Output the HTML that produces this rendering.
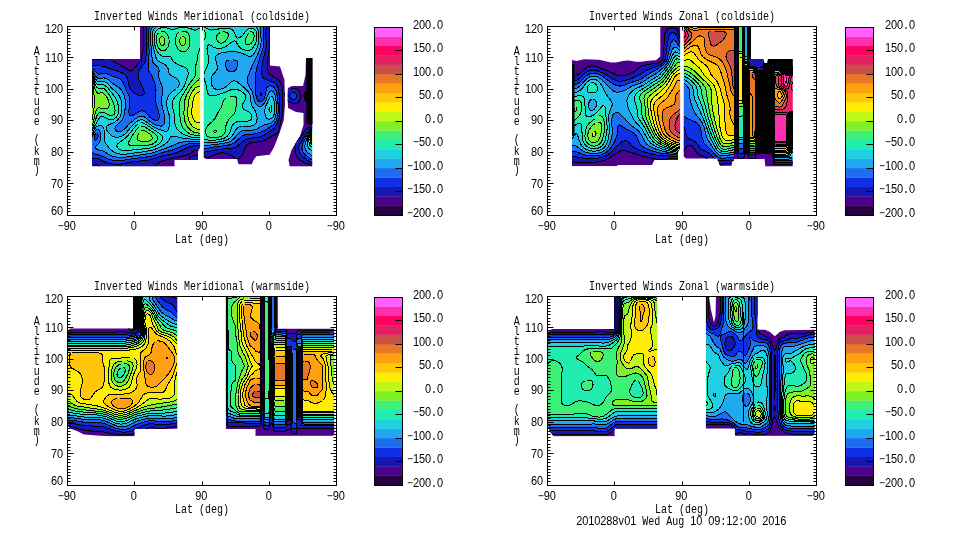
<!DOCTYPE html>
<html><head><meta charset="utf-8"><title>Inverted Winds</title>
<style>html,body{margin:0;padding:0;background:#fff;overflow:hidden}svg{display:block}text{font-family:'Liberation Mono',monospace;font-size:10px;fill:#000}text.d{font-family:'Liberation Sans',sans-serif;font-size:11px}</style>
</head><body>
<svg width="960" height="540" viewBox="0 0 960 540">
<rect width="960" height="540" fill="#fff"/>
<g style="opacity:0.999">
<rect x="67.5" y="26.5" width="269" height="189" fill="#fff" stroke="#000" stroke-width="1"/>
<g transform="translate(0,0)">
<clipPath id="p1a"><polygon points="92,59 140,59 140,26.5 200.5,26.5 200.5,147 198,151 198,160 174.5,160 174.5,167.5 92,167.5"/></clipPath>
<g clip-path="url(#p1a)">
<path d="M92.5 26 95 26 94.5 26.7 93.5 27.2 92 26.6 92 26ZM102 26 144.1 26 143.5 31.5 144 45 143.5 48.5 142.1 54 141.9 59.5 140.8 61.5 137.3 65 134.5 68.7 133 70.3 131 71 128.5 70.4 122 66 115.1 62.5 111.8 59.5 111.3 58 112.2 53 111.9 46.5 112.3 40 112 36.7 111.2 35 110 33.7 103.9 30.5 102.6 28.5ZM99 34.5 101 35 102.4 37.5 103.1 42 102.4 45 101 46.4 99.5 46.8 97.5 46.5 94 45.5 92 45.6 92 36.5 93 36.9 94 36.8 97 35ZM92.4 56 101 55.7 103.5 56.6 105 58 104.9 58.5 104.2 59 102 59.6 92 59.5 92 56ZM196.5 150.5 200 151 200 155.8 195 155.4 192.5 155.7 191 156.3 190 157.5 189 159.8 187.8 166 154.8 166 158.4 163 163.4 160.5 188.5 154.7 190 154 193.2 151.5ZM95.5 164.4 97 164.5 99.4 166 94.6 166 94.9 165Z" fill="#4c008c" stroke="#4c008c" stroke-width="0.6" fill-rule="evenodd"/>
<path d="M95 26 101.9 26 102.6 28.5 103.9 30.5 109.5 33.3 110.5 34.1 111.5 35.5 112.3 39 111.9 46 112.2 53 111.3 58 111.5 59 112.1 60 115.1 62.5 122.5 66.3 128 70.1 129.5 70.8 131 71 132.5 70.6 133.9 69.5 137.3 65 140.8 61.5 141.7 60 142 58.5 142.1 54 143.5 48.5 144 45 143.5 32.5 143.8 28 144.1 26 147.4 26 146.5 29 146.1 32 146.7 46.5 145.7 60 144.5 63.1 141.3 67 139.7 69.5 138.5 72.5 137.9 75.5 138.6 79 142.8 87.5 144.1 91 144.1 93.5 143.5 94.7 142.6 95.5 140.5 96 138.5 95.5 134.5 93.2 131.5 90.5 130 88.4 129 86.1 127.8 79.5 127 77.5 125.1 75 122 72.7 119 71.4 112 69.5 104 66.4 100.5 66 92 65.9 92 59.5 102 59.6 104.2 59 104.9 58.5 105 58 103.5 56.6 101 55.7 92 56 92 45.6 93.5 45.4 98 46.6 100.5 46.6 102.1 45.5 103 43 103 40.5 102.4 37.5 101.5 35.6 100.5 34.7 99.5 34.5 98 34.7 93.5 36.9 92 36.5 92 26.6 93.5 27.2 94.5 26.7ZM193 145.9 196.5 145.7 200 146 200 151 197 150.5 195 150.7 193.2 151.5 190 154 188.5 154.7 163.5 160.5 159.2 162.5 154.8 166 99.4 166 97.1 164.5 96 164.2 95 164.8 94.6 166 92 166 92 159 94 158.1 96 158.1 98 158.6 104.5 162 109 163.4 115 164.3 120.5 164.2 133.5 161.6 147 160.3 152 159.4 162.5 155.9 175 153.2 180 151.2 188 147.3ZM194 155.5 197 155.4 200 155.8 200 166 187.8 166 188.6 161 190 157.5 191.5 156Z" fill="#1616b0" stroke="#1616b0" stroke-width="0.6" fill-rule="evenodd"/>
<path d="M147.5 26 150.2 26 148.8 29.5 148.2 33.5 149.1 51 148.8 60.5 148 69 148.6 71 151 74.3 152.5 77.3 154.7 83 155.7 87 156 91 155.7 99 155.9 102.5 156.4 105.5 158.7 112.5 159.2 116.5 159.1 118 158.5 119.4 157.5 120.2 156.5 120.5 154.5 120.2 152 119 149.7 117 145 112 142.5 110.8 141 110.9 139.5 111.4 132.5 115.6 131 115.9 130 115.6 129.2 114.5 128.8 112 129.7 101 129.5 97.5 128.6 95 125.7 89 123.5 83.4 122 80.7 120.5 79.3 119 78.4 113.5 76.6 106 73.4 103 73.1 99.5 74.1 98.3 74 97 73 94 69.5 92 68.4 92 65.9 102.5 66.2 105.5 66.9 112 69.5 119 71.4 121.5 72.4 125 74.9 127 77.5 127.8 79.5 129.1 86.5 130.4 89 132 91.1 135 93.5 139 95.7 141 96 143 95.2 143.7 94.5 144.2 93 144 90.5 138.6 79 137.9 75.5 138.5 72.5 139.7 69.5 141.3 67 144.5 63.1 145.7 60 146.7 46.5 146.1 32 146.5 29ZM96 133.4 97 133.4 97.6 134 98.1 135.5 98 137 97 139.3 96 140.1 95 140.2 94.5 139.9 94 139 94 137 94.6 135ZM192 143.5 196 143.3 200 143.6 200 146 195 145.7 190.5 146.5 187.6 147.5 180 151.2 175 153.2 163 155.8 154 158.8 149 160 134.5 161.5 122 164 116.5 164.4 111.5 163.9 106.5 162.8 103.5 161.5 99 159 97 158.3 94.5 158.1 92 159 92 152.6 94.5 153.8 100.9 155.5 109 159.3 112.5 160.2 116 160.7 122.5 160.5 135 158.3 148.5 156.7 153.5 155.6 163 152.4 172.7 150 185.5 144.7Z" fill="#1030e8" stroke="#1030e8" stroke-width="0.6" fill-rule="evenodd"/>
<path d="M150.5 26 153.3 26 150.9 30 150.1 35 150.4 40.5 151.9 53.5 152.1 60 153.2 63 157.8 67 158.5 68 159 69.3 158.7 75 158.9 77.5 159.7 80.5 162 86 162.6 88.5 162.6 91 161.7 99 161.7 103 162.3 107.5 164.7 117.5 164.9 120.5 164.5 123 163.5 124.8 162 125.8 160 126 157.5 125.6 152.5 123.3 144 116.7 142.5 116.1 140.5 116.1 137.5 117.4 133.8 120 129.7 123.5 124.5 129 122.5 130.6 120 131.7 117.5 131.6 116.3 131 115.3 130 114.8 129 115 127.5 115.9 126 120.3 122 122.3 119.5 123.7 116.5 124.6 112.5 125.3 107 125.4 102 125 98.5 123.9 95 122 91 120 88.3 118.5 87.1 113.5 84.2 108 79.3 106 78.3 104.5 77.9 102.5 77.9 99 78.6 98 78.4 97 77.8 96 76.5 93.6 72 92 70.4 92 68.4 94 69.5 97 73 98.3 74 99.5 74.1 103 73.1 106 73.4 113.5 76.6 119 78.4 120.5 79.3 122 80.7 123.5 83.4 125.7 89 128.6 95 129.5 97.5 129.7 101 128.8 112 129.2 114.5 130 115.6 131 115.9 132.5 115.6 139.5 111.4 141 110.9 142.5 110.8 145 112 150 117.3 152.5 119.3 155.5 120.4 157 120.4 158 119.9 159 118.4 159.2 115.5 158.7 112.5 156.4 105.5 155.9 102.5 155.7 99 156 90.5 155.7 86.5 154.5 82.5 152.5 77.3 151 74.3 148.6 71 148 69 148.8 60.5 149.1 51 148.2 33 148.9 29 150.2 26ZM96 130 97.5 129.5 98.5 129.8 99.2 130.5 100.4 133 100.7 136 100.5 139 99.5 141.9 98.5 143.4 95.6 146.5 95.5 147.5 95.9 148.5 97.5 149.6 103.5 151.2 109 154.5 112 156 117.5 157.4 120.5 157.6 124 157.3 151 153.3 169.4 147 178 143.2 182.5 142.1 191 141.3 200 141.7 200 143.6 193.5 143.4 187 144.3 183.2 145.5 173 149.9 162.5 152.5 150.5 156.4 134.5 158.4 122.5 160.5 118.5 160.8 114.5 160.5 108.5 159.1 100.9 155.5 94.5 153.8 92 152.6 92 136.7 94 132.4ZM95.8 133.5 94.6 135 94 137 94 139 94.5 139.9 95 140.2 96 140.1 97 139.3 97.8 138 98.1 136.5 98 135 97.5 133.9 96.5 133.3Z" fill="#1e6cf0" stroke="#1e6cf0" stroke-width="0.6" fill-rule="evenodd"/>
<path d="M153 26.4 153.3 26 157.3 26 154.5 28.5 153.4 30 152.5 32.5 152 36 152.2 40.5 153.1 46.5 156.5 59 158.3 61 164 63.9 166.1 65.5 167.9 68 169.1 73 169.9 74.5 171.2 75.5 177 78.8 178.5 80.5 179.3 82.5 179.1 85 178 87 176.5 88.5 171.9 92 170 93.7 168.2 96.5 167.1 99.5 166.6 103 166.7 106 169.2 115 169.7 118.5 169.4 124.5 168.5 129.1 167.6 130.5 166.5 131.1 164 131 161 130.2 157 128.6 153 126.6 144.5 120.5 142.5 119.7 141 119.6 138.5 120.4 135.5 122.5 132.4 125.5 126 132.9 123 135.4 121 136.4 118.5 137.1 116 137.2 113.5 136.7 111.3 135.5 108.8 133 106.7 130 106.1 128.5 106.1 127.5 106.9 126 108 125.2 113.5 122.7 116.5 120.9 118.5 119 120 116.8 121.3 113 121.9 108.5 121.8 103.5 120.9 99.5 119.6 96.5 118 94 112 88.4 107 83 104 81.5 102.5 81.3 98.5 81.7 97.5 81.4 96.5 80.5 95.5 79 93.3 74 92 72.3 92 70.4 93.6 72 96 76.5 97.5 78.2 99 78.6 104 77.9 106.5 78.5 109 80.1 114 84.5 119 87.5 121.5 90.2 123.9 95 125 98.5 125.4 102.5 125.2 108 124.3 114 123.3 117.5 121.9 120 115.2 127 114.8 129 115.3 130 116.3 131 117.5 131.6 119 131.8 120.7 131.5 122.5 130.6 124.5 129 129.7 123.5 133.8 120 137.5 117.4 140.5 116.1 142.5 116.1 144 116.7 152.5 123.3 157.5 125.6 160 126 162 125.8 163.5 124.8 164.5 123 164.9 120.5 164.7 117.5 162.3 107.5 161.7 103 161.7 99 162.6 91 162.6 88.5 162 86 159.7 80.5 158.9 77.5 158.7 75 159 69.3 158.5 68 157.8 67 153.2 63 152.1 60 151.9 53.5 150.4 40.5 150.1 35 150.9 30ZM98.5 125.4 100 125 101.5 125.5 102.7 126.5 103.7 128 104.2 130 104.3 140 104.8 142 105.9 144 109.7 148.5 112.5 151.1 115.7 153 119.5 154.1 122.5 154.3 126.5 154 148 151.2 153.5 149.9 159.5 147.3 165.2 144 167.9 141.5 170.7 137 171.5 136.3 172.5 136.1 174.5 136.2 184 138.5 200 139.9 200 141.7 190.5 141.3 182 142.1 177.5 143.3 169.4 147 151 153.3 124 157.3 120 157.5 116.5 157.2 111 155.5 103.5 151.2 97.4 149.5 96.5 149 95.7 148 95.5 147 95.9 146 98.8 143 100.1 140.5 100.7 136.5 100.4 133 99.2 130.5 98.5 129.8 97.5 129.5 96 130 95 130.9 94 132.5 92 136.7 92 133.5 95.5 127.7 97 126.2Z" fill="#20a8f0" stroke="#20a8f0" stroke-width="0.6" fill-rule="evenodd"/>
<path d="M157 26.3 157.3 26 200 26 200 27.9 196 30 195 30.2 189.5 28.3 185 27.5 179 27.8 172.5 29.7 171 29.5 167.6 28 165.5 27.5 163.5 27.4 161 27.7 158 29 155.8 31 154.5 34 154 38 154.4 43 155.5 47.5 157.3 51.5 159.5 54.3 161.5 55.7 164 56.7 166.5 56.9 171 56.6 172.2 60 174.5 62.5 178 64.6 185 67.3 186.4 68.5 187.5 70.1 188.2 72.5 188 75 184.2 86 181.3 90.5 174.3 98 173 100.2 172.2 102.5 172.2 106.5 174.6 116 175 124.5 175.8 127 177.1 129 180.2 132 183 134.1 185.7 135.5 189.5 136.6 200 138 200 139.9 184 138.5 174.5 136.2 172.5 136.1 171.5 136.3 170.7 137 167.9 141.5 165.2 144 159.1 147.5 153 150 147.5 151.3 125.5 154.2 121 154.3 117.1 153.5 114 152.1 111.5 150.3 107.5 146 105.2 143 104.5 141.1 104.2 139 104.1 129.5 103.4 127.5 102 125.8 101 125.2 99.5 125.1 97 126.2 95 128.3 92 133.5 92 131.1 98.5 119.1 100 117.1 101 116.5 102.5 116.3 104 116.7 107.5 118.9 109.5 119.7 111.5 119.8 113.5 119.3 116 117.5 117.5 115.5 118.4 113 118.7 109.5 118.4 106 117.5 102.5 116 99 114.2 96 107.5 87.7 105 85.4 102.5 84.5 98.5 84.8 97.5 84.4 96.5 83.6 95.5 82.2 93.1 76 92 74.1 92 72.3 93 73.5 95.5 79 97 81 99 81.8 102.5 81.3 104 81.5 107 83 112 88.4 118 94 119.6 96.5 121 99.8 121.8 104 121.9 109 121.2 113.5 119.9 117 118.5 119 116.5 120.9 113.5 122.7 108 125.2 106.9 126 106.1 127.5 106.3 129 107.3 131 109.3 133.5 111.3 135.5 113.5 136.7 116 137.2 119 137 122 135.9 124 134.7 126 132.9 132.4 125.5 135.5 122.5 138.5 120.4 141 119.6 142.5 119.7 144.5 120.5 152.5 126.3 158.5 129.3 164.5 131.1 166.5 131.1 167.5 130.6 168.3 129.5 169 127.2 169.7 119 169.3 115.5 166.7 106 166.6 103 167.1 99.5 168.2 96.5 170 93.7 171.9 92 176.5 88.5 178 87 179.1 85 179.3 83 178.8 81 177.3 79 175 77.4 171.2 75.5 169.9 74.5 169.1 73 168.1 68.5 166.6 66 164.2 64 158.3 61 157.2 60 156.3 58.5 153.1 46.5 152.3 41 152 36.5 152.4 33 153.2 30.5 154.5 28.5ZM140.1 123 138 124.1 135.5 126.2 128 135.5 125.5 138.1 117.5 143.9 116.9 145 116.8 146 117.4 147.5 118.3 148.5 119.8 149.5 121.5 150.2 125.5 150.6 147.5 148.5 151.5 147.6 155 146.3 158.5 144.2 160.9 142 162.1 140 162.5 138 161.9 136 160.3 134 144.5 123.6 142.5 122.9Z" fill="#20d0e0" stroke="#20d0e0" stroke-width="0.6" fill-rule="evenodd"/>
<path d="M162.5 27.5 166.5 27.7 171 29.5 172.5 29.7 179.5 27.7 185.5 27.5 189.5 28.3 195 30.2 196 30 200 27.9 200 48.5 197.9 54.5 197.4 60 195.7 65.5 195.7 73 195.4 75 194.2 77.5 189.5 83.6 181.2 97.5 179.6 102 179.2 106.5 180.3 121 181.3 124.5 183.2 128 186.2 131.5 189.5 133.7 194 135.1 200 135.9 200 138 190.5 136.9 187.1 136 184.6 135 181.4 133 178.5 130.5 176.4 128 175.4 126 174.9 123.5 174.5 115 172.1 106 172.3 102 173.3 99.5 174.6 97.5 181 90.9 183.7 87 185 84 187.6 76.5 188.1 74.5 188.2 72.5 187.5 70 185.5 67.7 183.5 66.6 177.5 64.4 173.9 62 172.2 60 171 56.6 166 56.9 162.5 56.2 159.5 54.3 157 51 155.3 47 154.4 42.5 154 38 154.5 34 155.5 31.5 157.3 29.5 159.5 28.2ZM181.7 31 179 32.1 176.8 34.5 175.4 38.5 175.3 42.5 176.4 46.5 178.5 49.5 181 51.3 182.5 51.8 184 51.8 185.5 51.3 186.9 50.5 188.8 48 189.8 44 189.9 38.5 189.1 35 187.5 32.7 185 31.3ZM160.1 31.5 158 33.2 156.8 35.5 156.3 38.5 156.6 42.5 157.5 46 159 48.7 161 50.5 163.5 50.9 165 50.4 166.3 49.5 168.2 46.5 169.1 42.5 168.9 38.5 167.7 35 165.5 32.2 163 31.1 161.5 31.1ZM92.3 74.5 95 81.1 96.5 83.6 97.5 84.4 98.5 84.8 102.5 84.5 105 85.4 107.5 87.7 113.8 95.5 115.8 98.5 117.3 102 118.4 106 118.7 109.5 118.4 113 117.5 115.5 116 117.5 113.5 119.3 111.5 119.8 109 119.5 103 116.3 101.5 116.3 100.1 117 98.5 119.1 92 131.1 92 128.8 93.6 125.5 97 115.6 98.5 113.2 100.5 112.2 103 112.3 105.5 113.1 110 115.5 112 115.7 113.4 115 114.3 114 114.9 112.5 115.1 110.5 114.7 107.5 113.2 102.5 111.7 99 109.8 95.5 106.5 91 104 88.7 102 88 98 88.2 96.5 87.2 95 84.5 93 78.2 92 76.1 92 74.1ZM140.5 122.9 142.5 122.9 145 123.8 160.3 134 161.9 136 162.5 138 162.1 140 160.9 142 158.5 144.2 155 146.3 151.5 147.6 147.5 148.5 125.5 150.6 121.5 150.2 119.8 149.5 118.3 148.5 117.4 147.5 116.8 146 116.9 145 117.5 143.9 125.5 138.1 128 135.5 135.7 126 138.1 124ZM140.2 126.5 138.5 127.5 136.9 129 132.7 135 128.8 142 128.5 143.5 129 144.7 130.5 145.5 134 146.1 146 145.7 149.5 145.1 152 144.3 154.4 143 156.1 141.5 157.1 140 157.6 138 157 136 155.8 134.5 153.3 132.5 145 127.1 142.5 126.2Z" fill="#20ecb0" stroke="#20ecb0" stroke-width="0.6" fill-rule="evenodd"/>
<path d="M182 31 185 31.3 186.5 31.9 187.8 33 189.3 35.5 190 39 189.8 44.5 188.6 48.5 186.5 50.8 185 51.5 183.5 51.8 182 51.7 180.5 51.1 178 49 176.2 46 175.3 42 175.5 38 176.8 34.5 179 32.1ZM181.7 36.5 181 37.1 180.2 38.5 179.8 40 179.8 42 180.2 43.5 181 44.9 182 45.6 183 45.7 184 45.3 185.1 44 185.6 42 185.6 40 185 38 184.3 37 183 36.3ZM160.5 31.4 162 31.1 163.5 31.2 165.8 32.5 167.7 35 169 39 169.1 43 168 47 166 49.7 164.9 50.5 163.5 50.9 161 50.5 159 48.7 157.5 46 156.5 42.2 156.3 38 157 35 158.5 32.6ZM161.3 36.5 160.5 37 159.9 38 159.5 39.5 159.5 41.5 160.5 44.4 161.5 45.4 162.5 45.6 163.5 45.1 164.3 44 164.7 42.5 164.7 40.5 164.2 38.5 163.5 37.3 162.5 36.5ZM200 48.5 200 77.8 198.4 80 194 83.8 192 86.1 189.4 90 186.4 95.5 185.2 98.5 184.6 101.5 183.9 112.5 184.1 117 184.7 120.5 185.9 124 187.6 127 189.7 129.5 192.5 131.5 196 132.8 200 133.2 200 135.9 194.5 135.2 190 133.9 186.5 131.8 183.5 128.5 181.5 125 180.4 121.5 179.2 106.5 179.6 102 181.2 97.5 189.5 83.6 194.2 77.5 195.3 75.5 195.7 73 195.7 65.5 197.4 60 197.9 54.5ZM92.3 76.5 95 84.5 96.5 87.2 98 88.2 102 88 104 88.7 106 90.5 109.1 94.5 111.2 98 113 102 114.6 107 115.1 110.5 114.9 112.5 114.3 114 113.4 115 112 115.7 110 115.5 106 113.3 103.5 112.4 101 112.1 99 112.8 98 113.8 97 115.6 93.6 125.5 92 128.8 92 126.1 93.1 123 95 114 96 110.7 97 108.7 98 107.9 99 107.8 104.5 108.7 107.5 108.5 108.8 107.5 109.3 105 109 102.5 108 99.4 106.5 96.6 104.5 94.1 103 93.1 102 92.8 98.5 93.5 97.5 93.3 96 91.6 95 89 93 81 92 78.4 92 76.1ZM140.5 126.4 142.5 126.2 145 127.1 153.3 132.5 155.8 134.5 157 136 157.6 138 157.1 140 155.6 142 153.6 143.5 151.5 144.5 145.5 145.7 133.5 146 130.5 145.5 129 144.7 128.5 143.5 128.8 142 133 134.5 137 128.9 139 127.2ZM141.1 131 138.9 133 137.5 136 137.3 138.5 137.7 139.5 138.5 140.4 141.5 141.5 146 141.7 149.3 141 151.6 139.5 152.1 138.5 152.2 137 151.4 135.5 149.8 134 147 132.2 144.5 130.9 142.5 130.6Z" fill="#3cf078" stroke="#3cf078" stroke-width="0.6" fill-rule="evenodd"/>
<path d="M161.5 36.4 162.5 36.5 163.5 37.3 164.2 38.5 164.7 40.5 164.7 42.5 164.3 44 163.5 45.1 162.5 45.6 161.5 45.4 160.5 44.4 159.5 41.5 159.5 39.5 159.9 38 160.5 37ZM182 36.4 183 36.3 184.3 37 185 38 185.6 40 185.6 42 185.1 44 184 45.3 183 45.7 182 45.6 181 44.9 180.2 43.5 179.8 42 179.8 40 180.2 38.5 181 37.1ZM200 77.8 200 86 197 86.7 194.5 88.7 191.7 92.5 189.6 97 188.3 102.5 187.6 112.5 188.2 118.5 190.2 123.5 192.1 126 194.5 128 197 129 200 129.1 200 133.2 196.5 132.9 193.5 132 190.5 130.2 188.3 128 186.2 124.5 184.8 121 184.1 117 183.9 112.5 184.6 101.5 185.2 98.5 186.4 95.5 189.4 90 192 86.1 194 83.8 198.4 80ZM92.1 78.5 95 89 96.5 92.4 98 93.4 101 92.8 102.5 92.9 104.5 94.1 106.5 96.6 108 99.4 109 102.5 109.3 105 108.8 107.5 107.5 108.5 104.5 108.7 99 107.8 98 107.9 97 108.7 95.5 112.2 93.1 123 92 126.1 92 120.1 94.1 107.5 94.6 101.5 93.6 89.5 92.9 85 92 81.3ZM141.5 130.8 143 130.6 145 131.1 147.6 132.5 150.4 134.5 151.5 135.7 152.2 137 152.1 138.5 151.6 139.5 149.3 141 145.5 141.7 141 141.4 139.5 140.9 138.1 140 137.2 138 137.6 135.5 139.3 132.5Z" fill="#80f028" stroke="#80f028" stroke-width="0.6" fill-rule="evenodd"/>
<path d="M92.1 81.5 93.6 89.5 94.6 101.5 94.1 107.5 92 120.1 92 108.5 92.6 102.5ZM200 86 200 91.9 198 92.3 196.5 93.3 194.8 95.5 193.5 98.5 192.5 103 191.7 110.5 192.1 116 192.9 118.5 194 120.3 195.5 121.9 197 122.6 198.5 122.7 200 122.4 200 129.1 198.5 129.2 196 128.7 194 127.7 192 125.9 190.2 123.5 189 120.9 188.1 118 187.7 115 187.6 111 188.6 101 189.4 97.5 190.7 94.5 193 90.5 195 88.2 197.5 86.5Z" fill="#c0f818" stroke="#c0f818" stroke-width="0.6" fill-rule="evenodd"/>
<path d="M92 86.5 92.4 90.5 92.6 102.5 92 108.5ZM199 92 200 91.9 200 122.4 198 122.8 196.6 122.5 195.5 121.9 194.1 120.5 193.2 119 192 115.5 191.7 110.5 192.5 102.5 193.9 97.5 196 93.8 197.5 92.5Z" fill="#ffee00" stroke="#ffee00" stroke-width="0.6" fill-rule="evenodd"/>
<path d="M101.9 26 102.6 28.5 103.9 30.5 110 33.7 111.2 35 111.9 36.5 112.3 39.5 111.9 46 112.2 53 111.3 58 111.8 59.5 113.7 61.5 115.9 63 122 66 128.5 70.4 131 71 132.5 70.6 134 69.3 137.3 65 140.8 61.5 141.9 59.5 142.1 54 143.5 48.5 144 45 143.5 31.5 144.1 26M92 26.6 93.5 27.2 94.5 26.7 95 26M92 45.6 93.5 45.4 98 46.6 100.5 46.6 101.6 46 102.4 45 103.1 42 102.2 37 101.5 35.6 100.5 34.7 99.5 34.5 98 34.7 93.5 36.9 92 36.5M92 59.5 102 59.6 104.2 59 104.9 58.5 105 58 103.5 56.6 101 55.7 92 56M200 151 197 150.5 195 150.7 193.2 151.5 190 154 188.5 154.7 163.5 160.5 159.2 162.5 154.8 166M99.4 166 97.1 164.5 96 164.2 95 164.8 94.6 166M187.8 166 189 159.8 190 157.5 191 156.3 192.5 155.7 195 155.4 200 155.8M92 65.9 100.5 66 104 66.4 112 69.5 119 71.4 122 72.7 125.1 75 127 77.5 127.8 79.5 129 86.1 130 88.4 131.5 90.5 134.5 93.2 138.5 95.5 140.5 96 142.6 95.5 143.5 94.7 144.1 93.5 144.1 91 142.8 87.5 138.6 79 137.9 75.5 138.5 72.5 139.7 69.5 141.3 67 144.5 63.1 145.7 60 146.7 46.5 146.1 32 146.5 29 147.4 26M200 146 195 145.7 190.4 146.5 187.6 147.5 180 151.2 175.5 153 171.5 154.1 162.5 155.9 151.5 159.5 147 160.3 133.5 161.6 120.5 164.2 114.5 164.3 108.5 163.3 104.5 162 99.1 159 96.5 158.1 94 158.1 92 159M92 68.4 94 69.5 97 73 98.3 74 99.5 74.1 103 73.1 106 73.4 113.5 76.6 119 78.4 120.5 79.3 122 80.7 123.5 83.4 125.7 89 128.6 95 129.5 97.5 129.7 101 128.8 112 129.2 114.5 130 115.6 131 115.9 132.5 115.6 139.5 111.4 141 110.9 142.5 110.8 145 112 150 117.3 152.5 119.3 155.5 120.4 157 120.4 158 119.9 159 118.4 159.2 115.5 158.7 112.5 156.4 105.5 155.9 102.5 155.7 99 156 90.5 155.7 86.5 154.5 82.5 152.5 77.3 151 74.3 148.6 71 148 69 148.8 60.5 149.1 51 148.2 33.5 148.8 29.5 150.2 26M200 143.6 194 143.3 188 144 183.2 145.5 173 149.9 162.5 152.5 152 156 147.5 156.9 134.5 158.4 121 160.7 115.5 160.6 110.5 159.8 107 158.5 100.5 155.4 94.5 153.8 92 152.6M96 133.4 94.6 135 94 137 94 139 94.5 139.9 95 140.2 96 140.1 97 139.3 98 137 98.1 135.5 97.6 134 97 133.4M92 70.4 93.6 72 96 76.5 97.5 78.2 99 78.6 104 77.9 106.5 78.5 109 80.1 114 84.5 119 87.5 121.5 90.2 123.9 95 125.1 99 125.4 103 125.1 109 124.2 114.5 123.1 118 121.6 120.5 115.2 127 114.8 129 116 130.8 117.5 131.6 119 131.8 122 130.9 124 129.5 129.7 123.5 134.5 119.5 138 117.1 141 116.1 142.5 116.1 144.5 117 151.5 122.6 155.5 124.8 160 126 161.5 126 163 125.3 163.7 124.5 164.5 123 164.9 119.5 164.5 116 162.4 108 161.7 103.5 161.7 99.5 162.6 91 162.5 88 161.9 85.5 159.5 80 158.9 77.5 158.7 75 159.1 70.5 158.8 68.5 157.8 67 153.2 63 152.5 61.5 152.1 59.5 151.9 54 150.4 40.5 150.1 35 150.9 30 153.3 26M200 141.7 190.5 141.3 181.5 142.2 177.5 143.3 169.4 147 151.5 153.2 125 157.2 119.5 157.5 115.5 157 112.1 156 109 154.5 103.5 151.2 97.5 149.6 95.9 148.5 95.5 147.5 95.6 146.5 99.2 142.5 100 140.7 100.6 138.5 100.7 136 100.5 133.5 99.8 131.5 98.8 130 98 129.6 97 129.5 95.5 130.4 94 132.4 92 136.7M92 72.3 93 73.5 95.5 79 97 81 99 81.8 102.5 81.3 104 81.5 107 83 112 88.4 118 94 119.6 96.5 121 99.8 121.8 104 121.9 109 121.2 113.5 119.9 117 118.5 119 116.5 120.9 113.5 122.7 108 125.2 106.9 126 106.1 127.5 106.3 129 107.3 131 109.3 133.5 111.3 135.5 113.5 136.7 116 137.2 119 137 122 135.9 124 134.7 126 132.9 132.4 125.5 135.5 122.5 138.5 120.4 141 119.6 142.5 119.7 144.5 120.5 152.5 126.3 158.5 129.3 164.5 131.1 166.5 131.1 167.5 130.6 168.3 129.5 169 127.2 169.7 119 169.3 115.5 166.7 106 166.6 103 167.1 99.5 168.2 96.5 170 93.7 171.9 92 176.5 88.5 178 87 179.1 85 179.3 83 178.8 81 177.3 79 175 77.4 171.2 75.5 169.9 74.5 169.1 73 168.1 68.5 166.6 66 164.2 64 158.3 61 157.2 60 156.3 58.5 153.1 46.5 152.2 40.5 152 36 152.5 32.5 153.4 30 154.5 28.5 157.3 26M200 139.9 184 138.5 174.5 136.2 172.5 136.1 171.5 136.3 170.7 137 167.9 141.5 165.2 144 160.1 147 154 149.7 147 151.3 126 154.1 121.5 154.3 117.1 153.5 113.5 151.8 110.1 149 105.9 144 104.8 142 104.2 139.5 104 129 103.1 127 101.6 125.5 100.5 125.1 99 125.2 96.5 126.7 94.5 129 92 133.5M92 74.1 93.1 76 95.5 82.2 96.5 83.6 97.5 84.4 98.5 84.8 102.5 84.5 105 85.4 107.5 87.7 113.8 95.5 115.8 98.5 117.3 102 118.4 106 118.7 109.5 118.4 113 117.5 115.5 116 117.5 113.5 119.3 111.5 119.8 109 119.5 103 116.3 101.5 116.3 100.1 117 98.5 119.1 92 131.1M200 138 191 137 185 135.2 182.1 133.5 179.6 131.5 177.1 129 175.8 127 174.9 124 174.5 115 172.1 106 172.2 102.5 173 100.2 174.3 98 181 90.9 184 86.5 187.9 75.5 188.2 73.5 188 71.5 187 69.2 185.3 67.5 177.5 64.4 173.9 62 172.2 60 171 56.6 166.5 56.9 164 56.7 161.5 55.7 159.5 54.3 157.3 51.5 155.5 47.5 154.4 43 154 38 154.5 34 155.8 31 158 29 161.5 27.6 164 27.4 166 27.6 171 29.5 172.5 29.7 179 27.8 185 27.5 189.5 28.3 195 30.2 196 30 200 27.9M140.5 122.9 142.5 122.9 145 123.8 160.3 134 161.9 136 162.5 138 162.1 140 160.9 142 158.5 144.2 155 146.3 151.5 147.6 147.5 148.5 125.5 150.6 121.5 150.2 119.8 149.5 118.3 148.5 117.4 147.5 116.8 146 116.9 145 117.5 143.9 125.5 138.1 128 135.5 135.7 126 138.1 124M92 76.1 93 78.2 95 84.5 96.5 87.2 98 88.2 102 88 104 88.7 106.5 91 109.4 95 111.5 98.5 113.2 102.5 114.7 107.5 115.1 110.5 114.9 112.5 114.3 114 113.4 115 112 115.7 110 115.5 106 113.3 103.5 112.4 101 112.1 99 112.8 98 113.8 97 115.6 93.6 125.5 92 128.8M200 135.9 194.5 135.2 190 133.9 186.5 131.8 183.5 128.5 181.5 125 180.4 121.5 179.2 106.5 179.6 102 181.2 97.5 189.5 83.6 194.2 77.5 195.3 75.5 195.7 73 195.7 65.5 197.4 60 197.9 54.5 200 48.5M182 31 185 31.3 186.5 31.9 187.8 33 189.3 35.5 190 39 189.8 44.5 188.6 48.5 186.5 50.8 185 51.5 183.5 51.8 182 51.7 180.5 51.1 178 49 176.2 46 175.3 42 175.5 38 176.8 34.5 179 32.1M160.5 31.4 162 31.1 163.5 31.2 165.8 32.5 167.7 35 169 39 169.1 43 168 47 166 49.7 164.9 50.5 163.5 50.9 161 50.5 159 48.7 157.5 46 156.5 42.2 156.3 38 157 35 158.5 32.6M140.5 126.4 142.5 126.2 145 127.1 153.3 132.5 155.8 134.5 157 136 157.6 138 157.1 140 155.6 142 153.6 143.5 151.5 144.5 145.5 145.7 133.5 146 130.5 145.5 129 144.7 128.5 143.5 128.8 142 133 134.5 137 128.9 139 127.2M92 78.4 93 81 95 89 96.5 92.4 98 93.4 101 92.8 102.5 92.9 104.5 94.1 106.5 96.6 108 99.4 109 102.5 109.3 105 108.8 107.5 107.5 108.5 104.5 108.7 99 107.8 98 107.9 97 108.7 95.5 112.2 93.1 123 92 126.1M200 133.2 196.5 132.9 193.5 132 190.5 130.2 188.3 128 186.2 124.5 184.8 121 184.1 117 183.9 112.5 184.6 101.5 185.2 98.5 186.4 95.5 189.4 90 192 86.1 194 83.8 198.4 80 200 77.8M161.5 36.4 162.5 36.5 163.5 37.3 164.2 38.5 164.7 40.5 164.7 42.5 164.3 44 163.5 45.1 162.5 45.6 161.5 45.4 160.5 44.4 159.5 41.5 159.5 39.5 159.9 38 160.5 37M182 36.4 183 36.3 184.3 37 185 38 185.6 40 185.6 42 185.1 44 184 45.3 183 45.7 182 45.6 181 44.9 180.2 43.5 179.8 42 179.8 40 180.2 38.5 181 37.1M141.5 130.8 143 130.6 145 131.1 147.6 132.5 150.4 134.5 151.5 135.7 152.2 137 152.1 138.5 151.6 139.5 149.3 141 145.5 141.7 141 141.4 139.5 140.9 138.1 140 137.2 138 137.6 135.5 139.3 132.5M92 81.3 93.5 89 94.6 101 94.1 107.5 92 120.1M200 129.1 197.5 129.1 195.5 128.5 193.1 127 191.3 125 189.7 122.5 188.5 119.5 187.8 116 187.6 112.5 188.5 101.5 189.3 98 190.4 95 192.7 91 195 88.2 197.5 86.5 200 86M92 86.4 92.4 90.5 92.6 102.5 92 108.5M200 122.4 198.5 122.7 197 122.6 195.5 121.9 194 120.3 192.2 116.5 191.7 111.5 192.5 102.7 194 97.2 195.1 95 196.5 93.3 198 92.3 200 91.9" fill="none" stroke="#000" stroke-width="1.0" stroke-linejoin="round" shape-rendering="crispEdges"/>
</g>
<clipPath id="p1b"><polygon points="203,26.5 270,26.5 270,65.5 280,66.5 284.5,80 285,105 283.7,120.6 279.2,134 274,147.3 269.6,154.7 256.3,156.2 253.3,160.6 251.8,164.3 238.5,164.3 237,159.1 205.9,159.1 203,157"/><polygon points="306,58 313,58 313,167.5 290,167.5 288.5,160 291.5,150 300,136 303.5,125 303.5,113 296,112 288,108 287.5,95 288,88 292,86 303,86 305.5,75"/></clipPath>
<g clip-path="url(#p1b)">
<path d="M306 91 307.5 90.5 309 91.1 310 92.5 310.4 94 310.6 97 310.2 100 309.3 101.5 308 102.1 306.5 101.9 305.5 101.1 304.6 99.5 304.2 98 304 95.5 304.3 93.5 305 92ZM308.5 118.3 312 118.4 312 124.7 308.8 124 307.3 122.5 307 121.5 307.1 120 307.5 119Z" fill="#000" stroke="#000" stroke-width="0.6" fill-rule="evenodd"/>
<path d="M270 26 312 26 312 118.4 309.5 118.1 308 118.5 307.2 119.5 307 121 307.3 122.5 308.1 123.5 310 124.4 312 124.7 312 126.7 308 127.7 305.5 129.5 301.5 136.4 295.8 141.5 295.2 143.5 295 146.5 295.2 150.5 295.8 154 296.5 156.1 297.7 158 299.5 159.6 303 161.7 308 164.2 312 165.2 312 166 211.3 166 210 165.1 208.5 164.8 207 165.1 205 166 204 166 204 156.2 207.5 157.2 209 157.2 210.5 156.8 217.5 153.6 220.4 153 223 152.9 226 153.3 228.5 154.1 236 158.4 237.5 158.6 239 158.2 240.5 157.5 241.9 156 245.3 147.5 246.7 145.5 248.5 144 250.5 143 252.5 142.5 260.5 141.7 264 140.9 271.5 136.4 276.6 134 278.1 132.5 282.2 115.5 282.1 101.5 282.7 93 282.6 90 281.8 85 280.2 81.5 277.5 79 270 74.5 268.5 72.5 267.8 70.5 267.5 67.5 267.6 62.5 269.4 48 269.5 43.5 269.1 32.5 269.8 26ZM290.7 88.5 287.5 89.7 285.5 91.5 284.7 94 285.2 97 286.2 99 287.5 100.5 290.5 102.7 294 103.7 297 103.2 299 101.6 300 99 300.3 95 299.5 91.5 298.5 90 296.5 88.8 293.5 88.3ZM306 91 305 92 304.3 93.5 304 95.5 304.2 98 304.6 99.5 305.5 101.1 306.5 101.9 308 102.1 309.3 101.5 310.2 100 310.6 97 310.4 94 310 92.5 309 91.1 307.5 90.5ZM293.4 115.5 292.4 116.5 292.5 117.7 293.5 118.8 295 118.9 295.9 118 295.8 116.5 294.7 115.5ZM285.8 134 283.2 135 282.4 136 282.4 137 283.5 138.2 285.5 138.9 288 139 290.5 138.5 291.5 137.6 291.7 136 290.5 134.3 288.5 133.7Z" fill="#4c008c" stroke="#4c008c" stroke-width="0.6" fill-rule="evenodd"/>
<path d="M266.5 26 269.8 26 269.1 32.5 269.5 47.5 267.6 63 267.6 68 268 71 268.8 73 270.5 74.9 277 78.6 279.8 81 281.7 84.5 282.5 89 282.7 92.5 282.1 102 282.3 115 281.8 118 278.1 132.5 276.6 134 271.5 136.4 264 140.9 260.5 141.7 252.5 142.5 250.5 143 248.5 144 246.7 145.5 245.3 147.5 241.9 156 240.5 157.5 239 158.2 237.5 158.6 236 158.4 228.5 154.1 226 153.3 223 152.9 220.4 153 217.5 153.6 210.5 156.8 209 157.2 207.5 157.2 204 156.2 204 152.1 207.5 151.7 218.5 149.3 230 148.6 233.5 148 235.5 147.3 237.5 146.1 243.1 141 246 139.3 249.5 138.3 258 137.2 262 136 266 133.8 272.9 129.5 275 127.3 277 124 279.2 118 280 111.5 279.6 100.5 278.9 91.5 278.3 88 276.8 85 274.5 82.8 272 81.6 266 79.8 263.9 78.5 262.3 76.5 261.5 73.5 261.6 69.5 262.7 61 266 47 266.2 43 265.6 32ZM291 88.4 294 88.3 296.9 89 298.5 90 299.7 92 300.3 95.5 300 99.1 299 101.6 297 103.2 294 103.7 290.5 102.7 287.5 100.5 286.2 99 285.2 97 284.7 94 285.5 91.5 287.8 89.5ZM291.6 92.5 290.5 93.2 289.7 94.5 289.5 95.5 289.7 97 290.5 98.3 291.5 99.1 293 99.6 294.5 99.3 295.5 98.7 296.4 97.5 296.7 96 296.4 94.5 295.5 93.3 294.5 92.6 293 92.2ZM260.5 92.7 261 92.6 261.5 92.9 261.8 94 261.5 95.5 261 95.9 260.5 95.8 260 95 260 93.5ZM293.5 115.5 295 115.6 295.8 116.5 295.9 118 295 118.9 293.5 118.8 292.5 117.7 292.4 116.5ZM310.5 126.9 312 126.7 312 128 310.5 128.5 308.8 129.5 306.5 132 303.5 138.1 299.7 144 299 146 298.8 148.5 299.4 152 301.1 155 304.5 158.1 309.9 162 312 163.1 312 165.2 309 164.6 306 163.4 300.8 160.5 298.2 158.5 296.7 156.5 295.9 154.5 295.1 148 295.2 143.5 296.2 141 301.4 136.5 304.7 130.5 306 129 308 127.7ZM286 133.9 288.5 133.7 290.5 134.3 291.7 136 291.5 137.6 290.5 138.5 288 139 285.5 138.9 283.5 138.2 282.4 137 282.6 135.5 284.2 134.5ZM207.5 164.9 209.5 164.9 211.3 166 205 166Z" fill="#1616b0" stroke="#1616b0" stroke-width="0.6" fill-rule="evenodd"/>
<path d="M263.5 26 266.5 26 265.6 32.5 266.2 45 265.6 49.5 262.7 61.5 261.5 70 261.6 74 262.3 76.5 264 78.6 266 79.8 272 81.6 274.5 82.8 276.8 85 278.1 87.5 279.1 93.5 279.9 104.5 280.1 111 279.3 117.5 277.3 123.5 275.5 126.6 273.4 129 271 130.8 264.5 134.7 261.5 136.2 259 137 249.5 138.3 246 139.3 243.1 141 237.5 146.1 234.5 147.7 230.5 148.5 218.5 149.3 207.5 151.7 204 152.1 204 148.9 213.5 147.1 226 145.5 230 144.7 232.5 143.8 235 142.3 241 136.8 243.5 135.3 246.5 134.5 255.5 133.7 260.5 132.2 269.5 127.5 272 126 274.4 123.5 276.2 120.5 277.3 117.5 277.9 114.5 278.3 110.5 278.3 106 276.9 93.5 276 90.4 274.6 88 273 86.6 271 85.9 269 86 267.3 87 266.3 89 265.4 95 264.5 97.9 263 100.3 261 101.7 260 101.8 259 101.4 257.6 100 256.5 97.8 255.8 94.5 255.1 82 255.4 75 256.9 67.5 263.2 47 263.5 42.5 263 31ZM260.3 93 259.9 94 260 95 260.5 95.8 261 95.9 261.7 95 261.7 93.5 261 92.6ZM292 92.4 293.5 92.3 295 92.9 296 93.9 296.5 94.9 296.7 96 296.4 97.5 295.5 98.7 294.5 99.3 293 99.6 291.5 99.1 290.5 98.3 289.7 97 289.5 95.5 289.9 94 290.7 93ZM312 128 312 129.1 309.5 130.6 307.3 133.5 302.5 144.5 301.9 148 302.5 150.9 304 153.4 306 155.3 312 160.2 312 163.1 309.1 161.5 303.7 157.5 301.5 155.5 299.4 152 298.7 148 299 146 299.7 144 303.5 138.1 306.8 131.5 309 129.3Z" fill="#1030e8" stroke="#1030e8" stroke-width="0.6" fill-rule="evenodd"/>
<path d="M260.5 26 263.5 26 263 31.5 263.5 44.5 262.7 49 257.2 66.5 255.6 73.5 255.1 81.5 255.5 91 255.9 95.5 256.8 98.5 258 100.6 259.5 101.6 260.5 101.8 261.5 101.5 263.3 100 264.7 97.5 265.5 94.5 266.3 89 267.3 87 269 86 271 85.9 273 86.6 274.6 88 276 90.4 276.9 93.5 278.3 106 278.3 110.5 277.9 114.5 277.3 117.5 276.2 120.5 273.5 124.6 271.5 126.3 261.5 131.7 258 133.1 254 133.9 246.3 134.5 243.5 135.3 241 136.8 235.5 142 231.5 144.2 227 145.4 214.2 147 204 148.9 204 145.9 222.5 143.6 226.5 142.7 229.5 141.7 231.7 140.5 233.6 139 238.5 133.4 241 131.4 244 130.4 252 130.3 256.5 129.2 263.5 125.2 269 123.8 271 122.9 273.2 121 275 118.2 276.4 113 276.6 105.5 275.5 96.9 274.6 94 273.5 91.9 272.5 91.1 271.5 90.8 269.8 91.5 268.5 93.6 266 100 264 103.5 261.5 106.3 260.5 106.7 259 106.6 257 105.2 255.1 102.5 254.2 100 252.1 91.5 251 89.1 248.1 84.5 247.1 81.5 247.4 78 251.1 68 256.5 57.1 259.2 50.5 260.5 46.6 261.1 40.5 260.8 32.5 260.1 26ZM229.5 59.9 233 59.8 235.5 60.2 237 60.9 237.6 62 237.7 65 236.7 68.5 235.3 70.5 233 71.8 230.5 72 228.5 71.2 227 69.6 226 67.3 225.5 64.5 225.8 62 227 60.7ZM311 129.5 312 129.1 312 130.1 311 130.6 309.6 132 307.9 135 305.2 144 304.8 147 305.4 149.5 306.5 151.3 308.5 153.2 312 155.6 312 160.2 306 155.3 304 153.4 302.5 150.9 301.9 148 302.3 145 307.1 134 308.6 131.5Z" fill="#1e6cf0" stroke="#1e6cf0" stroke-width="0.6" fill-rule="evenodd"/>
<path d="M238.5 26 241.6 26 240.5 27ZM254.5 26 260.1 26 261 37 260.9 44.5 260.1 48 258.7 52 256 58.2 251.7 66.5 247.9 76.5 247.1 79.5 247.2 82 248.1 84.5 252 91.2 254.2 100 255.1 102.5 257 105.2 259 106.6 260.5 106.7 261.5 106.3 264 103.5 266 100 268.5 93.6 269.8 91.5 271.5 90.8 272.5 91.1 273.5 91.9 274.5 93.6 275.4 96.5 276.5 105 276.4 112.5 275.9 115.5 275.1 118 273.2 121 271 122.9 269 123.8 263.5 125.2 256.5 129.2 252 130.3 244 130.4 241 131.4 238.5 133.4 233.5 139.1 231.5 140.6 228.8 142 222.5 143.6 204 145.9 204 142.8 212 142.6 218.5 142 223.5 141.1 227 139.8 229.5 138.4 231.5 136.5 236 129.5 238.5 127.2 242 126 249.5 126.2 252.5 125.8 255 124.3 256.6 122 257.1 120 257.2 118 256.4 113.5 255.3 111 252.3 106.5 251.3 104.5 250.5 97 249.6 94 248.1 91.5 246 89.3 237.5 82 236 81.2 234 80.8 232.5 81.1 231 81.8 226.3 86.5 223.5 88.2 219.5 89.4 216 89.2 214 88.3 212.5 86.7 211.5 84.2 211.1 81 211.2 78.5 212 76.2 213.1 74.5 216.3 71 217.3 69 217.5 66.5 215.9 61 215.6 58.5 216.1 56 217.5 54.4 221 53 232 51.2 234.5 51.5 241.5 53.1 249.5 56.6 251.5 56.1 253.5 54.3 255.5 51.2 257.6 46.5 258.5 43 259 39 258.8 33.5 258 29.6 256.7 27.5ZM229.1 60 227 60.7 225.8 62 225.5 64.5 226.2 68 227.5 70.3 229 71.5 231 72.1 233.5 71.7 235.3 70.5 236.7 68.5 237.7 65 237.6 62 237 60.9 235.5 60.2 232.5 59.8ZM271.4 96.5 270 97.6 268.5 100.2 265.6 106.5 264.7 110 264.8 113.5 265.6 116.5 267 118.4 269 119.3 271 118.9 272.6 117.5 273.9 115 274.7 111.5 274.7 106 274 100.5 273 97.6 272 96.6ZM311.5 130.3 312 130.1 312 131.1 310 133 308.4 136.5 307.7 140 307.4 144 307.7 146.5 308.5 148.1 310 149.6 312 150.3 312 155.6 308.5 153.2 306.5 151.3 305.4 149.5 304.8 147 305.2 144 307.9 135 309.6 132Z" fill="#20a8f0" stroke="#20a8f0" stroke-width="0.6" fill-rule="evenodd"/>
<path d="M204.5 26 238.2 26 240.5 27 241.6 26 254.4 26 256.5 27.3 257.5 28.5 258.3 30.5 258.8 33.5 258.9 40.5 257.8 46 256.5 49.2 254.5 52.9 253 54.9 251.5 56.1 250.5 56.5 249 56.5 241.5 53.1 234.5 51.5 232 51.2 219.5 53.4 217.4 54.5 215.9 56.5 215.6 58 215.7 60 217.3 65.5 217.5 68 216.7 70.5 212.7 75 211.3 78 211.1 80.5 211.3 83 211.9 85.5 212.7 87 214 88.3 215.5 89.1 218 89.4 220.5 89.2 223 88.5 225.5 87.1 230 82.6 232 81.2 233.5 80.9 235 80.9 237.5 82 246.5 89.8 248.1 91.5 249.4 93.5 250.5 97 251.3 104.5 256 112.5 256.9 115.5 257.2 118.5 257 120.5 256.4 122.5 255.4 124 254 125.1 251 126.1 242.5 126 239 126.9 236.4 129 232.3 135.5 229.3 138.5 227 139.8 224.5 140.8 217 142.2 204 142.8 204 139.1 208.5 140.1 214.5 140.2 220.1 139.5 224.5 138 226.9 136.5 228.7 134.5 229.9 132 232 126.1 233 124.5 234.5 123.1 237 121.7 239.5 121.1 247 121.1 249.5 120.7 250.6 120 251.4 119 251.9 116.5 251.3 114.5 250 112.8 248.5 111.8 244 109.5 242.5 107.6 242.2 106 242.5 104.5 245.4 99.5 245.8 98 245.8 96.5 245.3 95 244.1 93.5 240 90.6 236.5 89.3 233.5 89.1 231 89.8 223 93 214 95.7 210.5 95.8 209.5 95.4 208.5 94.5 207.5 92.3 205.9 84 204 78.5 204 73.5 207.4 66 208.3 62 208.3 56.5 207 49.5 207.4 46.5 208.5 45 209.5 44.8 210.5 45.1 214 47.3 215.9 48 219 48.4 222 48.2 225.5 46.8 232.5 41.7 235 40.9 236 41.5 238.4 46 240.5 48 242.5 49.1 245.5 50.1 247.5 50.4 249.5 50.3 251 49.8 252.5 48.5 255.1 44.5 256.5 40 256.7 34.5 256.1 31.5 254.8 29.5 252.5 28.4 250 28.3 248 29 246.6 30 241.5 36.3 239.5 37.6 237.5 38.2 236.4 37.5 234.7 33 233.6 31 232.5 29.9 230.8 29 227.5 28.4 223 28.3 219 28.8 213 30 211 30.1 209.5 29.7 204 27.2 204 26ZM271.5 96.5 272.5 96.9 273 97.6 274 100.5 274.7 106 274.7 111.5 273.9 115 272.6 117.5 271 118.9 269 119.3 267 118.4 265.6 116.5 264.8 113.5 264.7 110 265.6 106.5 268.5 100.2 270 97.6ZM270.1 106 269.2 108 269 110 269.5 111.9 270.5 112.5 271.5 111.3 271.9 108.5 271.3 106 271 105.6ZM311.5 131.4 312 131.1 312 132.1 310.5 133.7 309.3 136.5 308.8 141 309.2 143.5 309.7 145 310.5 146.1 312 147 312 150.3 310 149.6 308.5 148.1 307.7 146.5 307.4 144 307.7 140 308.6 136 310 133Z" fill="#20d0e0" stroke="#20d0e0" stroke-width="0.6" fill-rule="evenodd"/>
<path d="M204.5 27.3 209.5 29.7 211.5 30.1 223 28.3 227.5 28.4 230.8 29 232.5 29.9 233.6 31 234.7 33 236.4 37.5 237.5 38.2 239.5 37.6 241.5 36.3 243 34.8 246 30.7 247.5 29.3 250 28.3 253 28.5 254.1 29 255.3 30 256.5 32.9 256.8 37.5 256.1 42 254.5 45.7 252.5 48.5 250.5 50 248.5 50.5 244.5 49.8 240.5 48 238.4 46 236 41.5 235 40.9 233.5 41.2 231.5 42.3 225 47.1 221.5 48.3 219 48.4 216 48 213.5 47.1 210 44.9 208.5 45 207.5 46.2 207 48.5 208.3 57 208.2 63 207.2 66.5 204 73.5 204 40.4 205.1 38 205.7 35 205.3 32.5 204 30.6 204 27.2ZM222 32 220 32.7 218 34 216.9 35.5 216.4 37 216.5 39 217.3 41 218.8 42.5 220.5 43.2 222.5 43 225 41.4 227.4 38.5 228.5 36 228.4 34 227 32.5 225 31.9ZM250 32 248.7 33 247.5 34.7 245.1 40.5 245 43 245.7 44 247 44.7 249 44.6 251 43.5 253 41 253.9 38.5 254.1 35.5 253.4 33 252 31.8 251 31.7ZM204.2 79 205.9 84 207.7 93 208.5 94.5 210 95.7 212.5 95.9 216 95.2 223.5 92.9 231 89.8 233.5 89.1 235.5 89.2 238 89.8 240.5 90.9 243 92.5 245.3 95 245.9 97.5 245.1 100 242.5 104.5 242.2 106 242.4 107.5 244 109.5 248.5 111.8 250 112.8 251 114 251.7 115.5 251.9 117 251.5 118.8 250.6 120 249.5 120.7 247 121.1 239.5 121.1 237 121.7 234.5 123.1 233 124.5 232 126.1 229.7 132.5 228.3 135 225.5 137.5 222 139 217.5 140 212.5 140.3 208 140.1 204 139.1 204 78.5ZM229.6 96.5 226 98 224 99.8 223.1 101.5 221.5 106.9 218 112.4 215 118.5 212.9 121 208.3 125 206.8 127 205.7 129.5 205.4 132.5 206.2 135 207.8 136.5 209.5 137.2 212 137.7 215 137.7 218 137.3 220.5 136.6 222.5 135.5 223.7 134.5 224.7 133 225.5 130.5 226.1 125 227 122.5 229.5 118.5 234.4 113.5 235.2 112 235.7 110 236.8 100 236.5 98 235.5 96.8 234 96.3 232 96.1ZM270.5 105.6 271 105.6 271.5 106.3 271.9 109 271.5 111.3 270.5 112.5 269.5 111.9 269 109.5 269.5 107ZM311.5 132.5 312 132.1 312 133.2 310.5 135.5 309.9 139.5 310.5 142.9 312 144.7 312 147 310.5 146.1 309.7 145 309.2 143.5 308.8 141 309.5 136 310.3 134Z" fill="#20ecb0" stroke="#20ecb0" stroke-width="0.6" fill-rule="evenodd"/>
<path d="M204.4 31 205.3 32.5 205.7 35 205.1 38 204 40.4 204 30.6ZM222.5 31.9 225 31.9 227 32.5 228.4 34 228.5 36 227.4 38.5 225 41.4 222.5 43 220.5 43.2 218.8 42.5 217.3 41 216.5 39 216.4 37 217.2 35 218.5 33.6 220.4 32.5ZM250 32 251 31.7 252 31.8 253.4 33 254.1 35.5 253.9 38.5 253 41 251 43.5 249 44.6 247 44.7 245.7 44 245 43 245.1 40.5 247.5 34.7 248.7 33ZM230 96.4 232 96.1 234 96.3 235.5 96.8 236.5 98 236.8 100 235.7 110 235.2 112 234.4 113.5 229.5 118.5 227 122.5 226 125.5 225.4 131 224.5 133.4 223.2 135 221.7 136 217.5 137.4 212 137.7 209.5 137.2 207.8 136.5 206.2 135 205.4 132.5 205.7 129.5 206.8 127 208.3 125 212.9 121 215 118.5 218 112.4 221.5 107 223.1 101.5 224.2 99.5 226.5 97.7ZM214.5 130.5 213.9 131 214 132 215.5 132.2 216.4 131.5 216.5 131 216 130.4ZM312 133.2 312 134.5 311 136.5 310.7 138.5 311.1 141 312 142.6 312 144.7 310.5 142.9 309.9 139.5 310.5 135.5Z" fill="#3cf078" stroke="#3cf078" stroke-width="0.6" fill-rule="evenodd"/>
<path d="M214.5 130.5 216 130.4 216.5 131 216.4 131.5 215.5 132.2 214 132 213.9 131ZM312 134.5 311.7 138 312 142.6 311.1 141 310.7 138.5 311 136.5Z" fill="#80f028" stroke="#80f028" stroke-width="0.6" fill-rule="evenodd"/>
<path d="M312 136.6 312 139.8 311.7 138Z" fill="#c0f818" stroke="#c0f818" stroke-width="0.6" fill-rule="evenodd"/>
<path d="M312 118.4 309.5 118.1 308 118.5 307.2 119.5 307 121 307.3 122.5 308.1 123.5 310 124.4 312 124.7M306 91 305 92 304.3 93.5 304 95.5 304.2 98 304.6 99.5 305.5 101.1 306.5 101.9 308 102.1 309.3 101.5 310.2 100 310.6 97 310.4 94 310 92.5 309 91.1 307.5 90.5M269.8 26 269.1 33 269.5 46.5 267.7 61 267.5 67 267.8 70.5 268.5 72.5 270 74.5 277.5 79 280.2 81.5 281.8 85 282.6 90 282.7 93 282.1 101.5 282.2 115.5 278.1 132.5 276.6 134 271.5 136.4 264 140.9 260.5 141.7 252.5 142.5 250.5 143 248.5 144 246.7 145.5 245.3 147.5 241.9 156 240.5 157.5 239 158.2 237.5 158.6 236 158.4 228.5 154.1 226 153.3 223 152.9 220.4 153 217.5 153.6 210.5 156.8 209 157.2 207.5 157.2 204 156.2M312 165.2 308.8 164.5 305.5 163.1 300.1 160 297.7 158 296.5 156.1 295.8 154 295.2 150.5 295 146.5 295.2 143.5 295.8 141.5 301.5 136.4 305.5 129.5 308 127.7 312 126.7M205 166 207 165.1 208.5 164.8 210 165.1 211.3 166M291 88.4 294 88.3 296.9 89 298.5 90 299.7 92 300.3 95.5 300 99.1 299 101.6 297 103.2 294 103.7 290.5 102.7 287.5 100.5 286.2 99 285.2 97 284.7 94 285.5 91.5 287.8 89.5M293.5 115.5 295 115.6 295.8 116.5 295.9 118 295 118.9 293.5 118.8 292.5 117.7 292.4 116.5M286 133.9 288.5 133.7 290.5 134.3 291.7 136 291.5 137.6 290.5 138.5 288 139 285.5 138.9 283.5 138.2 282.4 137 282.6 135.5 284.2 134.5M266.5 26 265.6 32 266.2 42.5 266.1 46.5 265.5 50 262.7 61 261.6 69.5 261.5 73.5 262.3 76.5 263.9 78.5 266 79.8 272 81.6 274.5 82.8 276.8 85 278.3 88 278.9 91.5 279.6 100.5 280 111.5 279.2 118 277 124 275 127.3 273 129.4 264.5 134.7 261.5 136.2 259 137 249.5 138.3 246 139.3 243.1 141 237.5 146.1 234.5 147.7 230.5 148.5 218.5 149.3 207.5 151.7 204 152.1M312 163.1 309.1 161.5 303.7 157.5 301.5 155.5 299.4 152 298.7 148 299 146 299.7 144 303.5 138.1 306.8 131.5 309 129.3 312 128M292 92.4 293.5 92.3 295 92.9 296 93.9 296.5 94.9 296.7 96 296.4 97.5 295.5 98.7 294.5 99.3 293 99.6 291.5 99.1 290.5 98.3 289.7 97 289.5 95.5 289.9 94 290.7 93M260.5 92.7 260 93.5 260 95 260.5 95.8 261 95.9 261.5 95.5 261.8 94 261.5 92.9 261 92.6M263.5 26 263 31 263.5 42.5 263.2 47 256.9 67.5 255.4 75 255.1 82 255.8 94.5 256.5 97.8 257.6 100 259 101.4 260 101.8 261 101.7 263 100.3 264.5 97.9 265.4 95 266.3 89 267.3 87 269 86 271 85.9 273 86.6 274.6 88 276 90.4 276.9 93.5 278.3 106 278.3 110.5 277.9 114.5 277.1 118 276 120.9 274.5 123.4 273 125.1 269 127.8 261.5 131.7 258 133.1 254 133.9 246.3 134.5 243.5 135.3 241 136.8 235.5 142 231.5 144.2 227 145.4 214.2 147 204 148.9M312 160.2 306 155.3 304 153.4 302.5 150.9 301.9 148 302.5 144.5 307.3 133.5 309.5 130.6 312 129.1M260.1 26 261.1 39 261 43 260.5 46.5 259.4 50 257 56 252.2 65.5 247.4 78 247.1 80 247.2 82 248.1 84.5 252 91.2 254.2 100 255.1 102.5 257 105.2 259 106.6 260.5 106.7 261.5 106.3 264 103.5 266 100 268.5 93.6 269.8 91.5 271.5 90.8 272.5 91.1 273.5 91.9 274.6 94 275.5 96.9 276.6 105.5 276.4 113 275 118.2 273.2 121 271 122.9 269 123.8 263.5 125.2 256.5 129.2 252 130.3 244 130.4 241 131.4 238.5 133.4 233.5 139.1 231.5 140.6 228.8 142 222.5 143.6 204 145.9M312 155.6 308.5 153.2 306.5 151.3 305.4 149.5 304.8 147 305.2 144 307.9 135 309.6 132 311 130.6 312 130.1M229.5 59.9 227 60.7 225.8 62 225.5 64.5 226 67.3 227 69.6 228.5 71.2 230.5 72 233 71.8 235.3 70.5 236.7 68.5 237.7 65 237.6 62 237 60.9 235.5 60.2 233 59.8M238.2 26 240.5 27 241.6 26M254.4 26 256.7 27.5 258 29.6 258.8 33.5 259 39 258.5 43 257.6 46.5 255.5 51.2 253.5 54.3 251.5 56.1 249.5 56.6 241.5 53.1 234.5 51.5 232 51.2 221 53 217.5 54.4 216.1 56 215.6 58.5 215.9 61 217.5 66.5 217.3 69 216.3 71 213.1 74.5 212 76.2 211.2 78.5 211.1 81 211.5 84.2 212.5 86.7 214 88.3 216 89.2 219.5 89.4 223.5 88.2 226.3 86.5 231 81.8 232.5 81.1 234 80.8 236 81.2 237.5 82 246 89.3 248.1 91.5 249.6 94 250.5 97 251.3 104.5 252.3 106.5 255.3 111 256.4 113.5 257.2 118.5 256.5 122.2 254.8 124.5 252 125.9 249.5 126.2 242.5 126 240.5 126.3 238.5 127.2 236 129.5 232.7 135 231.1 137 228.5 139 226 140.3 222.5 141.3 217.5 142.1 204 142.8M312 150.3 310 149.6 308.5 148.1 307.6 146 307.4 143.5 307.9 139 308.7 135.5 310.3 132.5 312 131.1M271.5 96.5 272.5 96.9 273 97.6 274 100.5 274.7 106 274.7 111.5 273.9 115 272.6 117.5 271 118.9 269 119.3 267 118.4 265.6 116.5 264.8 113.5 264.7 110 265.6 106.5 268.5 100.2 270 97.6M204 27.2 209.5 29.7 211.5 30.1 223 28.3 227.5 28.4 230.8 29 232.5 29.9 233.6 31 234.7 33 236.4 37.5 237.5 38.2 239.5 37.6 241.5 36.3 243 34.8 246 30.7 247.5 29.3 250 28.3 252.5 28.4 254.5 29.2 255.9 31 256.6 33.5 256.8 36.5 256.2 41.5 254.6 45.5 252 49 249.5 50.3 247.5 50.4 245.5 50.1 242.5 49.1 240.5 48 238.4 46 236 41.5 235 40.9 233.5 41.2 231.5 42.3 225 47.1 221.5 48.3 219 48.4 216 48 213.5 47.1 210 44.9 208.5 45 207.5 46.2 207 48.5 208.3 57 208.2 63 207.2 66.5 204 73.5M204 78.5 205.9 84 207.7 93 208.5 94.5 210 95.7 212.5 95.9 216 95.2 223.5 92.9 231 89.8 233.5 89.1 235.5 89.2 238 89.8 240.5 90.9 243 92.5 245.3 95 245.9 97.5 245.1 100 242.5 104.5 242.2 106 242.4 107.5 244 109.5 248.5 111.8 250.2 113 251.5 115 251.9 117 251.6 118.5 251.1 119.5 249.5 120.7 247 121.1 239.5 121.1 237 121.7 234.5 123.1 233 124.5 232 126.1 229.9 132 228.7 134.5 226.9 136.5 224 138.3 219.5 139.6 214 140.3 208.5 140.1 204 139.1M312 147 310.5 146.1 309.7 145 309.1 143 308.8 140.5 309 138 309.6 135.5 310.6 133.5 312 132.1M270.5 105.6 271 105.6 271.5 106.3 271.9 109 271.5 111.3 270.5 112.5 269.5 111.9 269 109.5 269.5 107M204 30.6 205.3 32.5 205.7 35 205.1 38 204 40.4M312 144.7 310.5 142.9 309.9 139.5 310.5 135.5 312 133.2M222.5 31.9 225 31.9 227 32.5 228.4 34 228.5 36 227.4 38.5 225 41.4 222.5 43 220.5 43.2 218.8 42.5 217.3 41 216.5 39 216.4 37 217.2 35 218.5 33.6 220.4 32.5M250 32 251 31.7 252 31.8 253.4 33 254.1 35.5 253.9 38.5 253 41 251 43.5 249 44.6 247 44.7 245.7 44 245 43 245.1 40.5 247.5 34.7 248.7 33M230 96.4 232 96.1 234 96.3 235.5 96.8 236.5 98 236.8 100 235.7 110 235.2 112 234.4 113.5 229.5 118.5 227 122.5 226 125.5 225.4 131 224.5 133.4 223.2 135 221.7 136 217.5 137.4 212 137.7 209.5 137.2 207.8 136.5 206.2 135 205.4 132.5 205.7 129.5 206.8 127 208.3 125 212.9 121 215 118.5 218 112.4 221.5 107 223.1 101.5 224.2 99.5 226.5 97.7M312 142.6 311.1 141 310.7 138.5 311 136.5 312 134.5M214.5 130.5 216 130.4 216.5 131 216.4 131.5 215.5 132.2 214 132 213.9 131M312 139.8 311.7 138 312 136.6" fill="none" stroke="#000" stroke-width="1.0" stroke-linejoin="round" shape-rendering="crispEdges"/>
</g>
<rect x="306.3" y="58" width="6.2" height="66" fill="#000"/>
</g>
<path d="M67.5 215.5h6M336.5 215.5h-6M67.5 211.5h3M336.5 211.5h-3M67.5 208.5h3M336.5 208.5h-3M67.5 205.5h3M336.5 205.5h-3M67.5 202.5h3M336.5 202.5h-3M67.5 199.5h3M336.5 199.5h-3M67.5 196.5h3M336.5 196.5h-3M67.5 192.5h3M336.5 192.5h-3M67.5 189.5h3M336.5 189.5h-3M67.5 186.5h3M336.5 186.5h-3M67.5 183.5h6M336.5 183.5h-6M67.5 180.5h3M336.5 180.5h-3M67.5 177.5h3M336.5 177.5h-3M67.5 174.5h3M336.5 174.5h-3M67.5 170.5h3M336.5 170.5h-3M67.5 167.5h3M336.5 167.5h-3M67.5 164.5h3M336.5 164.5h-3M67.5 161.5h3M336.5 161.5h-3M67.5 158.5h3M336.5 158.5h-3M67.5 155.5h3M336.5 155.5h-3M67.5 152.5h6M336.5 152.5h-6M67.5 148.5h3M336.5 148.5h-3M67.5 145.5h3M336.5 145.5h-3M67.5 142.5h3M336.5 142.5h-3M67.5 139.5h3M336.5 139.5h-3M67.5 136.5h3M336.5 136.5h-3M67.5 133.5h3M336.5 133.5h-3M67.5 129.5h3M336.5 129.5h-3M67.5 126.5h3M336.5 126.5h-3M67.5 123.5h3M336.5 123.5h-3M67.5 120.5h6M336.5 120.5h-6M67.5 117.5h3M336.5 117.5h-3M67.5 114.5h3M336.5 114.5h-3M67.5 111.5h3M336.5 111.5h-3M67.5 107.5h3M336.5 107.5h-3M67.5 104.5h3M336.5 104.5h-3M67.5 101.5h3M336.5 101.5h-3M67.5 98.5h3M336.5 98.5h-3M67.5 95.5h3M336.5 95.5h-3M67.5 92.5h3M336.5 92.5h-3M67.5 89.5h6M336.5 89.5h-6M67.5 85.5h3M336.5 85.5h-3M67.5 82.5h3M336.5 82.5h-3M67.5 79.5h3M336.5 79.5h-3M67.5 76.5h3M336.5 76.5h-3M67.5 73.5h3M336.5 73.5h-3M67.5 70.5h3M336.5 70.5h-3M67.5 66.5h3M336.5 66.5h-3M67.5 63.5h3M336.5 63.5h-3M67.5 60.5h3M336.5 60.5h-3M67.5 57.5h6M336.5 57.5h-6M67.5 54.5h3M336.5 54.5h-3M67.5 51.5h3M336.5 51.5h-3M67.5 48.5h3M336.5 48.5h-3M67.5 44.5h3M336.5 44.5h-3M67.5 41.5h3M336.5 41.5h-3M67.5 38.5h3M336.5 38.5h-3M67.5 35.5h3M336.5 35.5h-3M67.5 32.5h3M336.5 32.5h-3M67.5 29.5h3M336.5 29.5h-3M67.5 26.5h6M336.5 26.5h-6M134.5 26.5v4M134.5 215.5v-4M202.5 26.5v4M202.5 215.5v-4M269.5 26.5v4M269.5 215.5v-4" stroke="#000" stroke-width="1" fill="none"/>
<rect x="67.5" y="26.5" width="269" height="189" fill="none" stroke="#000" stroke-width="1"/>
<text transform="translate(94,20) scale(1,1.22)">Inverted</text><text transform="translate(148,20) scale(1,1.22)">Winds</text><text transform="translate(184,20) scale(1,1.22)">Meridional</text><text transform="translate(250,20) scale(1,1.22)">(coldside)</text>
<text class="d" transform="translate(0,215) scale(1,1.13)" x="54 60" text-anchor="middle">60</text>
<text class="d" transform="translate(0,188) scale(1,1.13)" x="54 60" text-anchor="middle">70</text>
<text class="d" transform="translate(0,156) scale(1,1.13)" x="54 60" text-anchor="middle">80</text>
<text class="d" transform="translate(0,124) scale(1,1.13)" x="54 60" text-anchor="middle">90</text>
<text class="d" transform="translate(0,93) scale(1,1.13)" x="48 54 60" text-anchor="middle">100</text>
<text class="d" transform="translate(0,62) scale(1,1.13)" x="48 54 60" text-anchor="middle">110</text>
<text class="d" transform="translate(0,33) scale(1,1.13)" x="48 54 60" text-anchor="middle">120</text>
<text transform="translate(57.75,230) scale(1,1.22)">−</text><text class="d" transform="translate(0,230) scale(1,1.13)" x="66.75 72.75" text-anchor="middle">90</text>
<text class="d" transform="translate(0,230) scale(1,1.13)" x="133.75" text-anchor="middle">0</text>
<text class="d" transform="translate(0,230) scale(1,1.13)" x="198.25 204.25" text-anchor="middle">90</text>
<text class="d" transform="translate(0,230) scale(1,1.13)" x="268.75" text-anchor="middle">0</text>
<text transform="translate(326.75,230) scale(1,1.22)">−</text><text class="d" transform="translate(0,230) scale(1,1.13)" x="335.75 341.75" text-anchor="middle">90</text>
<text transform="translate(175,243) scale(1,1.22)">Lat</text><text transform="translate(199,243) scale(1,1.22)">(deg)</text>
<text transform="translate(33.8,54.7) scale(1,1.22)">A</text>
<text transform="translate(33.8,64.7) scale(1,1.22)">l</text>
<text transform="translate(33.8,74.7) scale(1,1.22)">t</text>
<text transform="translate(33.8,84.7) scale(1,1.22)">i</text>
<text transform="translate(33.8,94.7) scale(1,1.22)">t</text>
<text transform="translate(33.8,104.7) scale(1,1.22)">u</text>
<text transform="translate(33.8,114.7) scale(1,1.22)">d</text>
<text transform="translate(33.8,124.7) scale(1,1.22)">e</text>
<text transform="translate(33.8,142.89999999999998) scale(1,1.22)">(</text>
<text transform="translate(33.8,154.7) scale(1,1.22)">k</text>
<text transform="translate(33.8,164.7) scale(1,1.22)">m</text>
<text transform="translate(33.8,172.89999999999998) scale(1,1.22)">)</text>
<rect x="374" y="205.60" width="28" height="9.70" fill="#2a0040"/>
<rect x="374" y="196.20" width="28" height="9.70" fill="#4c008c"/>
<rect x="374" y="186.80" width="28" height="9.70" fill="#1616b0"/>
<rect x="374" y="177.40" width="28" height="9.70" fill="#1030e8"/>
<rect x="374" y="168.00" width="28" height="9.70" fill="#1e6cf0"/>
<rect x="374" y="158.60" width="28" height="9.70" fill="#20a8f0"/>
<rect x="374" y="149.20" width="28" height="9.70" fill="#20d0e0"/>
<rect x="374" y="139.80" width="28" height="9.70" fill="#20ecb0"/>
<rect x="374" y="130.40" width="28" height="9.70" fill="#3cf078"/>
<rect x="374" y="121.00" width="28" height="9.70" fill="#80f028"/>
<rect x="374" y="111.60" width="28" height="9.70" fill="#c0f818"/>
<rect x="374" y="102.20" width="28" height="9.70" fill="#ffee00"/>
<rect x="374" y="92.80" width="28" height="9.70" fill="#ffc60a"/>
<rect x="374" y="83.40" width="28" height="9.70" fill="#ffa010"/>
<rect x="374" y="74.00" width="28" height="9.70" fill="#e87828"/>
<rect x="374" y="64.60" width="28" height="9.70" fill="#c85048"/>
<rect x="374" y="55.20" width="28" height="9.70" fill="#e02060"/>
<rect x="374" y="45.80" width="28" height="9.70" fill="#ff0060"/>
<rect x="374" y="36.40" width="28" height="9.70" fill="#ff30b0"/>
<rect x="374" y="27.00" width="28" height="9.70" fill="#ff60ff"/>
<rect x="374.5" y="27.5" width="28" height="188" fill="none" stroke="#000" stroke-width="1"/>
<path d="M402.5 191.5h-7M402.5 168.5h-7M402.5 144.5h-7M402.5 121.5h-7M402.5 97.5h-7M402.5 74.5h-7M402.5 50.5h-7" stroke="#000" stroke-width="1" fill="none"/>
<text transform="translate(407,216.5) scale(1,1.22)">−</text><text class="d" transform="translate(0,216.5) scale(1,1.13)" x="416 422 428" text-anchor="middle">200</text><text transform="translate(431,216.5) scale(1,1.22)">.</text><text class="d" transform="translate(0,216.5) scale(1,1.13)" x="440" text-anchor="middle">0</text>
<text transform="translate(407,193) scale(1,1.22)">−</text><text class="d" transform="translate(0,193) scale(1,1.13)" x="416 422 428" text-anchor="middle">150</text><text transform="translate(431,193) scale(1,1.22)">.</text><text class="d" transform="translate(0,193) scale(1,1.13)" x="440" text-anchor="middle">0</text>
<text transform="translate(407,170) scale(1,1.22)">−</text><text class="d" transform="translate(0,170) scale(1,1.13)" x="416 422 428" text-anchor="middle">100</text><text transform="translate(431,170) scale(1,1.22)">.</text><text class="d" transform="translate(0,170) scale(1,1.13)" x="440" text-anchor="middle">0</text>
<text transform="translate(413,146) scale(1,1.22)">−</text><text class="d" transform="translate(0,146) scale(1,1.13)" x="422 428" text-anchor="middle">50</text><text transform="translate(431,146) scale(1,1.22)">.</text><text class="d" transform="translate(0,146) scale(1,1.13)" x="440" text-anchor="middle">0</text>
<text class="d" transform="translate(0,123) scale(1,1.13)" x="428" text-anchor="middle">0</text><text transform="translate(431,123) scale(1,1.22)">.</text><text class="d" transform="translate(0,123) scale(1,1.13)" x="440" text-anchor="middle">0</text>
<text class="d" transform="translate(0,99) scale(1,1.13)" x="422 428" text-anchor="middle">50</text><text transform="translate(431,99) scale(1,1.22)">.</text><text class="d" transform="translate(0,99) scale(1,1.13)" x="440" text-anchor="middle">0</text>
<text class="d" transform="translate(0,76) scale(1,1.13)" x="416 422 428" text-anchor="middle">100</text><text transform="translate(431,76) scale(1,1.22)">.</text><text class="d" transform="translate(0,76) scale(1,1.13)" x="440" text-anchor="middle">0</text>
<text class="d" transform="translate(0,52) scale(1,1.13)" x="416 422 428" text-anchor="middle">150</text><text transform="translate(431,52) scale(1,1.22)">.</text><text class="d" transform="translate(0,52) scale(1,1.13)" x="440" text-anchor="middle">0</text>
<text class="d" transform="translate(0,29) scale(1,1.13)" x="416 422 428" text-anchor="middle">200</text><text transform="translate(431,29) scale(1,1.22)">.</text><text class="d" transform="translate(0,29) scale(1,1.13)" x="440" text-anchor="middle">0</text>
<rect x="547.5" y="26.5" width="269" height="189" fill="#fff" stroke="#000" stroke-width="1"/>
<g transform="translate(480,0)">
<clipPath id="p2a"><polygon points="92,60 96.6,61 104,59.2 119,59.8 131,62.5 136,62.5 144,60.7 149,60.5 156,61.7 161,61.7 171,60.5 176,60.3 180.3,56.5 180.3,26.5 200.5,26.5 200.5,148 198,152 198,160 174.5,160 172,165 137.5,165 137,166.3 92,166.3"/></clipPath>
<g clip-path="url(#p2a)">
<path d="M92.5 26 200 26 200 37.7 197.7 30.5 197 29.3 196.1 28.5 194 27.9 191.5 27.9 189 28.4 187.5 29.1 185.9 31 184.8 34.5 184.3 40 183.5 56 183 58.8 182 60.7 180.5 62 178 63 168 64.4 162 66 159.3 67.5 153.5 72 148.5 74.3 143 75.8 140.5 75.9 138.5 75.5 136 74.7 128 70.9 115.5 66.6 111.5 65.9 109 66.3 106.5 67.3 104 69.1 98.5 74 97 74.9 95.5 75.1 94 74.6 92 73 92 26ZM142 150.5 145.5 150.7 163 156.3 177.5 159.3 182.5 159.5 193.5 158.3 200 158.9 200 163.5 191 164.3 188.3 165 186.7 166 92 166 92 161.9 101.5 162.4 111 162.4 118 161.9 123 160.8 128.5 158.3 139 151.6Z" fill="#4c008c" stroke="#4c008c" stroke-width="0.6" fill-rule="evenodd"/>
<path d="M190.5 28 194.7 28 196.1 28.5 197.1 29.5 198 31.4 200 37.7 200 43 196.5 35.2 195 33.3 194 32.7 192.5 32.5 191.3 33 190.1 34 189 36 188 39.5 185.9 55.5 185.1 59.5 183.3 62.5 180 64.8 166.5 70.4 159 75.2 156 76.7 145.7 80.5 142.5 81.3 139.5 81.4 136 80.5 132.5 78.8 126.5 75 122.7 73 117 70.8 113 70.1 110 70.4 107 71.8 104.5 73.6 99 78.7 97 80 95.5 80.4 94.5 80.4 92 79.2 92 73 94.5 74.9 95.5 75.1 97 74.9 99.2 73.5 105.5 67.9 107.5 66.8 109.5 66.2 112.5 66 115.5 66.6 129 71.3 137 75.1 139.5 75.7 142 75.9 146.5 75 151.7 73 155 71 159.5 67.4 163 65.6 168.5 64.3 176.5 63.4 180 62.3 182.1 60.5 183.3 57.5 184.4 38.5 185.3 32.5 186 30.8 187 29.5 188.5 28.6ZM144 140.9 146 140.7 147.5 141.1 149 142.2 152.1 146 154 147.5 158.5 149.8 165 152.2 174 154.7 180 155.8 193.5 156.1 200 156.8 200 158.9 193.5 158.3 182.5 159.5 177 159.2 163.5 156.5 146 150.9 143 150.4 141.5 150.6 139.5 151.4 127.5 158.8 124.5 160.3 121 161.4 115.5 162.2 108.5 162.5 100.5 162.4 92 161.9 92 156.1 103.5 158.2 110.5 158.8 118 158.4 123.5 156.9 127 155.1 130 152.9 140 143 142 141.7ZM193 164 200 163.5 200 165.5 197 165.5 194.1 166 186.7 166 189 164.8Z" fill="#1616b0" stroke="#1616b0" stroke-width="0.6" fill-rule="evenodd"/>
<path d="M191.5 32.9 193 32.5 194 32.7 195.3 33.5 196.4 35 200 43 200 47.2 195.5 40.7 194 39.9 193 40.1 192 41.2 191 43.3 189.5 48.6 187.2 59 186.2 61.5 185 63.3 182.5 65.6 178.5 68.4 168 74.4 160.5 79.2 157.5 80.5 151 82.5 143.5 85.6 141 86.1 139 86.1 136 85.3 132.5 83.6 123.5 77 120 74.9 116 73.5 112.5 73.1 110 73.7 107 75.3 104.5 77.4 99.5 82.4 97 84.1 94.5 84.7 92 84 92 79.2 94.5 80.4 95.5 80.4 97 80 99.5 78.3 106 72.4 108 71.2 110.5 70.3 114 70.2 118.5 71.3 125 74.1 135 80.1 138.5 81.2 141.5 81.4 145.5 80.6 156 76.7 159 75.2 166.5 70.4 180 64.8 183.3 62.5 185.1 59.5 185.9 56 188.3 38 189.5 34.9 190.5 33.6ZM138.5 125.2 139.5 125 141 125.6 146.5 129.3 154.5 133.8 156.8 136.5 158.9 142 160.1 144 162.5 146.3 166 148.5 172 150.9 180.5 153.1 200 155.3 200 156.8 193.5 156.1 180 155.8 174.5 154.8 166.5 152.7 160.2 150.5 154.9 148 152.1 146 148.5 141.7 147 140.9 145.5 140.7 143 141.2 140.5 142.6 138.5 144.2 132.6 150.5 129.2 153.5 125.5 156 121.5 157.6 116 158.6 109 158.7 103 158.1 92 156.1 92 151 95.5 151.5 104.5 154.9 111.5 156 115.5 156 119.5 155.4 122.5 154.4 125.5 152.8 128.3 150.5 130.6 148 132.9 144.5 135.3 140 137.2 135 137.5 127 138 125.6ZM198 165.5 200 165.5 200 166 194.1 166Z" fill="#1030e8" stroke="#1030e8" stroke-width="0.6" fill-rule="evenodd"/>
<path d="M193.5 39.9 194.5 40 196 41.2 200 47.2 200 51 196.5 47.5 195 47.1 194 47.5 192.7 49 191.5 51.3 187.8 62 185.5 65.3 177 73.1 170 77.1 161.5 82.7 152 86.1 142.5 91.3 139.5 92.1 136.5 92.3 134.5 91.7 132 90 122.6 80.5 119.6 78 116 76.3 112.5 76 110 76.7 107 78.6 100 86 98 87.5 95 88.7 92 88.5 92 84 94.5 84.7 97 84.1 99.5 82.4 104.5 77.4 107 75.3 109.5 73.9 112 73.2 115.5 73.4 120 74.9 123.5 77 132.5 83.6 136 85.3 139 86.1 141 86.1 143.5 85.6 151 82.5 160 79.5 168 74.4 178.5 68.4 182.5 65.6 185 63.3 186.2 61.5 187.2 59 189.5 48.6 191 43.3 192.1 41ZM136 112.4 138 112.5 139.5 113.3 150.9 125 158.5 130.7 160.9 134 165 142 166.6 144 169 146 174 148.5 182 151.1 188 152.3 200 153.9 200 155.3 180.5 153.1 172.5 151 166.1 148.5 162.7 146.5 160.1 144 158.9 142 156.8 136.5 154.8 134 152.5 132.4 146.5 129.3 141.5 125.9 139.5 125 138.5 125.2 137.6 126.5 137.2 135 136.2 138 133.8 143 131.7 146.5 129.3 149.5 126.6 152 124 153.7 121 155 118 155.7 114.5 156 110.5 155.9 104.5 154.9 95.5 151.5 92 151 92 145.8 94.5 145.3 96 145.7 100.7 149.5 103.5 151.2 107 152.6 110.5 153.4 115 153.6 119 153 122.5 151.7 125.5 149.6 127.5 147.5 128.9 145.5 131.2 140 132 136.5 132.3 132.5 131.7 120.5 131.8 117.5 132.4 115.5 133.3 114 134.5 113Z" fill="#1e6cf0" stroke="#1e6cf0" stroke-width="0.6" fill-rule="evenodd"/>
<path d="M194 47.5 195 47.1 196.5 47.5 200 51 200 54.2 197.5 52.4 196.5 52 195 52.2 194 53 192 56.1 189.7 62 188.4 64.5 180.5 73.9 177.5 76.3 171 80.1 164 84.9 156 88.6 152.9 90.5 150.4 93 148 96.5 147 99 146.9 101.5 147.4 105 148.6 109 153.5 119 155.6 122 161.7 128.5 167.8 139.5 170.6 143 174.5 145.8 180 148.3 188.5 150.8 200 152.7 200 153.9 188 152.3 182 151.1 174 148.5 169 146 166.6 144 165 142 160.9 134 158.5 130.7 150.9 125 139.5 113.3 138.5 112.7 137 112.3 135.5 112.5 134 113.4 133 114.4 132.2 116 131.7 120 132.3 132.5 131.7 138 130.5 142 128.9 145.5 127 148.1 124.5 150.4 121.5 152.2 118.5 153.1 114.5 153.6 110.5 153.4 106.5 152.5 103 151 95.5 145.5 94 145.3 92 145.8 92 139.3 95 134.3 96 133.6 97 134 97.5 134.8 99.8 142 101.3 145 103.5 147.5 106.5 149.5 111 151 116 151.1 120.5 150 122.5 148.8 124.1 147.5 125.8 145.5 126.9 143.5 128.6 137.5 129.5 129 128.8 118.5 128.8 115 129.5 112.1 131.8 106.5 132.2 104.5 132 103 131.4 101.5 126.3 94.5 120.8 84 118.5 81.2 115.8 79.5 114 79 112.5 79 110.6 79.5 109 80.4 106 83.2 101.3 89.5 100 90.6 98 91.6 92 93.1 92 88.5 95 88.7 97.5 87.8 100 86 105 80.4 107.7 78 111 76.3 114 76 117.5 76.9 120.5 78.7 131 89.1 134 91.4 135.5 92 137.5 92.3 140 92 142.5 91.3 152 86.1 162 82.5 170 77.1 176 73.7 179 71.5 185 65.9 187.3 63 188.5 60.5 191.5 51.3 192.7 49ZM111.5 99.4 113.5 99.3 115 100 116.1 101.5 116.6 104 116.1 106.5 114.9 108.5 113.4 110 111.5 110.6 110.5 110.4 109.5 109.4 108.8 107.5 108.6 105.5 108.7 103.5 109.3 101.5 110.4 100Z" fill="#20a8f0" stroke="#20a8f0" stroke-width="0.6" fill-rule="evenodd"/>
<path d="M196 52 197.5 52.4 200 54.2 200 56.9 197 55.7 195.5 56 194.5 56.7 193 58.9 189.6 66 181.5 76.5 178.5 78.9 172.5 82.4 166 86.9 157.7 92 156.2 93.5 155.1 95.5 154.6 97.5 154.5 99.5 154.9 102 156.9 107.5 157.4 114 158.2 117.5 159.6 120 164 126.4 169.5 136.5 172.1 140.5 175.5 143.6 181 146.6 189.5 149.5 200 151.5 200 152.7 189.5 151 182.5 149.2 175 146.1 170.6 143 167.8 139.5 161.7 128.5 155.6 122 153.5 119 148.6 109 147.4 105 146.9 101.5 147 99 148 96.5 150.4 93 152.9 90.5 156 88.6 164 84.9 171 80.1 177.5 76.3 180.5 73.9 188.4 64.5 193.2 54 194.5 52.5ZM113 79 115 79.2 116.8 80 118.5 81.2 120.1 83 122 86 126.3 94.5 131.4 101.5 132 103 132.2 104.5 131.8 106.5 129.5 112.1 128.8 115 128.7 118 129.4 126 129.4 131 128.6 137.5 127.3 142.5 125.4 146 122.5 148.8 119 150.5 114.5 151.2 111 151 108 150.2 105.5 149 102.9 147 100.4 143.5 97.6 135 96.5 133.6 96 133.6 95 134.3 92 139.3 92 129.1 94 126.2 95.5 124.7 97.5 123.7 99.5 123.2 101 123.7 101.8 125.5 101.9 135.5 102.8 140.5 104.4 144 107 146.6 109.5 148 112 148.6 115 148.8 118 148.2 120.5 147.1 122.4 145.5 123.8 143.5 124.9 141 126.6 133.5 127.2 127 125.9 115.5 125.5 108.5 124.5 106.1 123.5 105.6 122.5 105.9 117.2 112 113.5 115 110.5 116.5 107.5 116.9 106.2 116 105.6 114.5 104.7 101 104.2 98.5 103.5 97 101.5 95.9 97.5 95.8 94.5 96.6 92 98.5 92 93.1 97 92 100 90.6 102 88.7 105.3 84 107.6 81.5 110.5 79.5ZM111.4 83 109.5 84.2 108 86.2 107.2 88.5 107.2 91 108 92.2 109.5 92.8 112.5 93 115 92.5 116.5 91.6 117.4 90 117.5 88 117 86 116 84.4 114.5 83.2 113 82.8ZM111.2 99.5 110 100.4 109.3 101.5 108.7 103.5 108.6 105.5 108.8 107.5 109.5 109.4 110.5 110.4 111.5 110.6 113.4 110 115 108.4 116.2 106 116.6 103.5 116.1 101.5 115 100 113 99.2Z" fill="#20d0e0" stroke="#20d0e0" stroke-width="0.6" fill-rule="evenodd"/>
<path d="M195.5 56 197.5 55.8 200 56.9 200 59.5 197.5 58.8 196.5 59 195.5 59.6 194.5 61 191.7 66.5 182.5 78.8 179.5 81.3 173 85.3 162.5 92.5 160.3 95 159.7 96.5 159.5 98 159.9 100 161.9 106 161.8 114 162.5 117.5 170 132.5 173.6 138.5 177 142 182 145 186.4 147 190.5 148.4 200 150.3 200 151.5 191 149.9 184 147.8 176.9 144.5 174.5 142.8 172.6 141 169.7 137 164 126.4 158.5 118 157.4 114.5 156.9 107.5 154.9 102 154.5 99.5 154.6 97.5 155.1 95.5 156.2 93.5 157.7 92 166 86.9 172.5 82.4 178.5 78.9 181.5 76.5 189.6 66 193.2 58.5 194.5 56.7ZM111.5 83 113.5 82.8 115 83.5 116.5 85 117.2 86.5 117.5 88.5 117.2 90.5 116.5 91.6 115 92.5 112.5 93 109.5 92.8 108 92.2 107.2 91 107.2 88.5 108 86.2 109.5 84.2ZM96.5 96 99 95.7 101.5 95.9 102.9 96.5 103.8 97.5 104.5 99.5 104.8 102 105.5 114 106 115.7 107 116.7 108.5 116.9 110 116.7 114 114.7 117.7 111.5 122.5 105.9 124 105.7 125 106.8 125.5 108.9 125.9 115.5 127.1 125 127.1 128.5 126.8 132.5 125.5 139 124.1 143 121.9 146 119 147.9 115 148.8 111 148.4 107.5 146.9 104.8 144.5 103.3 142 102.3 138.5 101.9 134.5 101.9 126 101.5 124.5 101 123.7 100 123.3 99 123.3 96 124.4 94 126.2 92 129.1 92 122.6 99.5 115.3 101 112.6 101.8 109.5 102 106.5 101.5 103.8 100.5 101.7 99 100.5 97 100.1 95 100.7 93.8 102 92 104.9 92 98.5 94 96.9ZM118.9 116 114.5 118.9 109 123.5 106.9 126.5 105.4 130.5 104.9 136 105.8 140.5 106.9 142.5 108.3 144 110 145.2 112 145.9 114 146.1 116 145.9 118 145.2 119.7 144 121 142.5 122 140.6 123.8 134.5 124.6 130.5 124.8 127 124.6 124 124 120.7 123 117.9 122 116.3 120.5 115.6Z" fill="#20ecb0" stroke="#20ecb0" stroke-width="0.6" fill-rule="evenodd"/>
<path d="M196.5 59 198 58.9 200 59.5 200 62.4 198 62.4 196.5 63.4 194 67 189.2 73 185 79.2 182.5 82 179.5 84.5 168.5 92 165.5 94.5 164.2 96.5 163.9 99 165 105.5 165.3 113.5 165.9 117 170.8 129 175.2 137 178.3 140.5 183 143.6 191 147.1 195.5 148.3 200 149.1 200 150.3 191.5 148.7 184.5 146.2 178 142.7 175.8 141 174 139 170.3 133 162.5 117.5 161.8 114 161.9 106 159.9 100 159.5 98 159.7 96.5 160.3 95 162.5 92.5 173 85.3 179.5 81.3 182.5 78.8 191.7 66.5 194.8 60.5ZM95.5 100.4 96.5 100.1 98 100.1 99.5 100.8 100.5 101.7 101.8 105 101.8 109.5 101 112.6 99.5 115.3 92 122.6 92 104.9 94 101.7ZM95.5 107.5 94.4 110 94.2 111.5 94.5 111.9 96 110.8 97 109 97 107.8 96.5 107.1ZM119 116 120.5 115.6 122 116.3 123 117.9 124 120.7 124.6 124 124.8 127 124.6 130.5 123.8 134.5 122 140.6 121 142.5 119.7 144 118 145.2 116 145.9 114 146.1 112 145.9 110 145.2 108.3 144 106.9 142.5 105.8 140.5 104.9 136 105.4 130.5 106.9 126.5 109 123.5 114.5 118.9ZM118 122 115 123.5 111.5 126.6 109.3 129.5 108.1 132.5 107.8 136 108.5 139 110 141.2 112.5 142.7 114 142.8 115.5 142.5 117.8 141 119.5 138.4 120.9 134 121.9 129 121.6 125 121.1 123.5 120.3 122.5 119.5 122Z" fill="#3cf078" stroke="#3cf078" stroke-width="0.6" fill-rule="evenodd"/>
<path d="M198 62.4 200 62.4 200 66.1 197.5 67.3 192.5 72 190.2 75 186 81.6 183 85.1 169.5 95.8 168 98.5 167.6 102 168.3 112 169.3 117.5 172.6 127.5 174.9 132.5 176.9 136 180 139.5 184.4 142.5 192.1 146 196 147.2 200 147.9 200 149.1 192 147.4 184.7 144.5 178.9 141 176.8 139 175.2 137 170.8 129 165.9 117 165.3 113.5 165.1 106 163.9 98.5 164.4 96 166.5 93.6 180.5 83.7 183.5 81 189.2 73 194 67 196.5 63.4ZM96 107.1 96.5 107.1 96.9 107.5 97 109 96 110.8 94.5 111.9 94.2 111 95 108.3ZM118 122 119.5 122 120.3 122.5 121.1 123.5 121.6 125 121.9 129 120.9 134 119.5 138.4 117.8 141 115.5 142.5 114 142.8 112.5 142.7 110 141.2 108.5 139 107.8 136 108.1 132.5 109.3 129.5 111.5 126.6 115 123.5ZM113.8 132 112.9 133 112.3 134.5 112.5 136 113.5 136.8 114.5 136.6 115.1 136 116 133.5 116 132.5 115.5 131.7 114.5 131.6Z" fill="#80f028" stroke="#80f028" stroke-width="0.6" fill-rule="evenodd"/>
<path d="M199 66.4 200 66.1 200 69.7 197 71.1 194 73.6 192 76.1 188 83.2 185 87.2 181 91.3 174.5 96.5 172.5 98.5 171 101.5 170.6 106 171.2 112.5 173.8 123.5 176.4 130.5 179 135.5 181.7 138.5 185.5 141.1 193 144.8 196.9 146 200 146.6 200 147.9 193.5 146.5 186.5 143.6 181 140.3 177.3 136.5 175.2 133 172.8 128 169.5 118 168.3 112 167.6 102 168 98.5 169.3 96 171.5 94 180.5 87.3 183.5 84.6 186.1 81.5 192 72.6 196.5 68.1ZM114 131.8 115 131.5 115.5 131.7 116 132.5 116 133.5 115.1 136 114.5 136.6 113.5 136.8 112.5 136 112.3 134.5 112.9 133Z" fill="#c0f818" stroke="#c0f818" stroke-width="0.6" fill-rule="evenodd"/>
<path d="M199.5 69.8 200 69.7 200 73.6 198.5 73.9 197 74.6 194.5 77 189.9 86 186.2 91.5 183 95.1 177 99.9 175.2 102 174 104.5 173.7 107.5 174.2 112 176.6 123.5 178.7 130 181 134.5 183.1 137 186.3 139.5 193.5 143.2 197 144.4 200 145.1 200 146.6 193.7 145 187.5 142.3 182.4 139 179 135.5 176.4 130.5 173.8 123.5 171.2 112.5 170.6 106 171 101.5 172.5 98.5 183.5 88.9 187.5 84 191.4 77 193.2 74.5 196.5 71.5Z" fill="#ffee00" stroke="#ffee00" stroke-width="0.6" fill-rule="evenodd"/>
<path d="M198.5 73.9 200 73.6 200 80 198.5 80 197 81.2 193.2 88.5 187.5 97.5 185.5 99.6 180.5 103.4 179 105 177.8 107.5 177.5 110.5 178.1 116 179.4 122.5 181.5 129.8 183.2 133.5 185.9 136.5 189.5 139 195.5 142 200 143.3 200 145.1 194.5 143.6 188.9 141 184.2 138 181.3 135 179 130.7 176.7 124 174.2 112.5 173.7 108 174 104.5 175.5 101.5 177.5 99.5 182.5 95.6 185.4 92.5 189.6 86.5 194.5 77 196.5 75Z" fill="#ffc60a" stroke="#ffc60a" stroke-width="0.6" fill-rule="evenodd"/>
<path d="M199 79.9 200 80 200 90.5 197.9 92 196.1 95 195.4 97.5 195 102 194.6 103.5 194 104.5 192.5 105.6 186.5 107.9 184 109.5 182.5 112 182.1 115.5 182.5 119.5 184.5 128 185.5 131 186.5 132.9 188.5 135.2 191.7 137.5 196.5 139.9 200 141 200 143.3 195.5 142 190.3 139.5 186.5 137 183.6 134 181.6 130 179.5 123 178.2 116.5 177.5 110.5 177.8 107.5 179 105 180.5 103.4 185.5 99.6 187.5 97.5 193.2 88.5 196.8 81.5 198 80.2Z" fill="#ffa010" stroke="#ffa010" stroke-width="0.6" fill-rule="evenodd"/>
<path d="M200 90.5 200 109.4 193.1 115 190.6 117.5 189.4 120 189 124 189.4 128.5 190.9 132 192.5 133.9 194.7 135.5 197.5 137 200 137.8 200 141 196.5 139.9 191.7 137.5 188.8 135.5 186.6 133 185.5 131 184.5 128 182.5 119.5 182.1 115.5 182.5 112 184 109.5 186.5 107.9 192.5 105.6 194.4 104 195 102.5 195.4 97.5 196.1 95 197.9 92Z" fill="#e87828" stroke="#e87828" stroke-width="0.6" fill-rule="evenodd"/>
<path d="M200 109.4 200 114.1 198.3 116 196.5 119.5 195.4 122.5 195 125.5 195.3 128 196.1 130 197.8 132 200 133.3 200 137.8 197.5 137 194.7 135.5 192.7 134 191.2 132.5 190.3 131 189.5 129 189 124 189.4 120 190.6 117.5 193.1 115Z" fill="#c85048" stroke="#c85048" stroke-width="0.6" fill-rule="evenodd"/>
<path d="M199.5 114.5 200 114.1 200 133.3 198 132.2 196.5 130.5 195.4 128.5 195 126 195.3 123 196.3 120 198 116.5Z" fill="#e02060" stroke="#e02060" stroke-width="0.6" fill-rule="evenodd"/>
<path d="M92 73 94.5 74.9 95.5 75.1 97 74.9 99 73.6 106 67.6 109 66.3 112 65.9 116 66.7 128.5 71.1 135.6 74.5 138.5 75.5 142.5 75.8 147.5 74.7 153.5 72 159.3 67.5 162 66 168 64.4 177.5 63.2 180 62.3 181.7 61 182.9 59 183.4 56.5 184.3 39.5 184.8 34.5 185.9 31 187.5 29.1 189 28.4 191.5 27.9 194 27.9 196.1 28.5 197 29.3 197.7 30.5 200 37.7M200 158.9 193.5 158.3 182.5 159.5 177 159.2 163.5 156.5 146 150.9 143 150.4 141.5 150.6 139.5 151.4 127.5 158.8 124.5 160.3 121 161.4 115.5 162.2 108.5 162.5 100.5 162.4 92 161.9M186.7 166 188.3 165 191 164.3 200 163.5M92 79.2 94.5 80.4 95.5 80.4 97 80 99 78.7 104.5 73.6 107 71.8 110 70.4 113 70.1 117 70.8 122.5 72.9 126.5 75 133 79.1 137 80.8 141 81.5 145.5 80.6 156.5 76.5 166 70.6 179.5 65.1 181.5 64 183.3 62.5 184.7 60.5 185.5 58 187.7 41.5 188.5 37.5 189.5 34.9 191 33.2 192 32.7 193.5 32.6 194.5 32.9 195.5 33.7 196.6 35.5 200 43M200 156.8 193.5 156.1 180 155.8 174.5 154.8 166.5 152.7 160.2 150.5 154.9 148 152.1 146 148.5 141.7 147 140.9 145.5 140.7 143 141.2 140.5 142.6 138.5 144.2 132.6 150.5 129.2 153.5 125.5 156 121.5 157.6 116 158.6 109 158.7 103 158.1 92 156.1M194.1 166 197 165.5 200 165.5M92 84 94.5 84.7 97 84.1 99.5 82.4 104.5 77.4 107.5 75 110.5 73.5 113.5 73.1 117 73.7 121 75.5 124 77.4 131 82.6 136 85.3 140 86.1 144 85.4 150.9 82.5 158 80.3 160.9 79 168 74.4 177.5 69 184 64.3 185.6 62.5 186.9 60 190.5 44.8 191.5 42 193 40.1 194 39.9 195.5 40.7 200 47.2M200 155.3 180.5 153.1 172.5 151 166.1 148.5 162.7 146.5 160.1 144 158.9 142 156.8 136.5 154.8 134 152.5 132.4 146.5 129.3 141.5 125.9 139.5 125 138.5 125.2 137.6 126.5 137.2 135 136.2 138 133.8 143 131.7 146.5 129.3 149.5 126.6 152 124 153.7 121 155 118 155.7 114.5 156 110.5 155.9 104.5 154.9 95.5 151.5 92 151M92 88.5 95 88.7 97.5 87.8 100 86 105 80.4 107.7 78 111 76.3 114 76 117.5 76.9 120.5 78.7 131 89.1 134 91.4 135.5 92 137.5 92.3 142 91.5 145 90.1 152 86.1 162 82.5 170 77.1 176 73.7 179 71.5 185 65.9 187.3 63 188.5 60.5 191.5 51.3 192.7 49 194 47.5 195 47.1 196.5 47.5 200 51M200 153.9 188 152.3 182 151.1 174 148.5 169 146 166.6 144 165 142 160.9 134 158.5 130.7 150.9 125 139.5 113.3 138.5 112.7 137 112.3 135.5 112.5 134 113.4 133 114.4 132.2 116 131.7 120 132.3 132.5 131.7 138 130.5 142 128.9 145.5 127 148.1 124.5 150.4 121.5 152.2 118.5 153.1 114.5 153.6 110.5 153.4 106.5 152.5 103 151 95.5 145.5 94 145.3 92 145.8M92 93.1 97.5 91.8 100.5 90.2 102.2 88.5 106.1 83 109.5 80.1 112 79.1 115 79.2 118 80.8 120.5 83.5 126.3 94.5 131.4 101.5 132 103 132.2 104.5 131.8 106.5 129.5 112.1 128.8 115 128.7 118 129.5 129.5 128.5 138 127.6 141.5 126.6 144 125.4 146 123.6 148 120 150.2 115.5 151.2 110.5 150.9 106 149.3 103 147.1 101 144.5 99.6 141.5 97.5 134.8 96.5 133.6 96 133.6 95 134.3 92 139.3M200 152.7 189.5 151 182.5 149.2 175 146.1 170.6 143 167.8 139.5 161.7 128.5 155.6 122 153.5 119 148.6 109 147.3 104.5 146.9 101 147.2 98.5 148.3 96 150.4 93 152.9 90.5 156 88.6 164 84.9 171 80.1 177.5 76.3 180.5 73.9 188.4 64.5 189.7 62 192.5 55.1 194.5 52.5 195.5 52 197 52.1 200 54.2M111.5 99.4 110.4 100 109.3 101.5 108.7 103.5 108.6 105.5 108.8 107.5 109.5 109.4 110.5 110.4 111.5 110.6 113.4 110 114.9 108.5 116.1 106.5 116.6 104 116.1 101.5 115 100 113.5 99.3M92 98.5 94.5 96.6 97.5 95.8 101.5 95.9 103.5 97 104.2 98.5 104.7 101 105.6 114.5 106.2 116 107.5 116.9 110.5 116.5 113.5 115 117.2 112 122.5 105.9 123.5 105.6 124.5 106.1 125.1 107 125.5 108.9 125.8 115 126.9 123.5 127.2 127.5 126.8 132 125.9 137 125 140.7 123.8 143.5 122.4 145.5 120.5 147.1 118 148.2 115 148.8 111.5 148.5 108.5 147.5 105.7 145.5 103.8 143 102.8 140.5 102.1 137.5 101.9 126.5 101.5 124.5 101 123.7 100 123.3 99 123.3 96 124.4 94 126.2 92 129.1M200 151.5 191 149.9 184 147.8 176.9 144.5 174.5 142.8 172.5 140.9 170 137.5 164 126.4 159.6 120 158.2 117.5 157.4 114 156.9 107.5 154.9 102 154.5 99 154.6 97 155.3 95 157.7 92 166 86.9 172.5 82.4 178.5 78.9 181.5 76.5 189.6 66 193 58.9 194.5 56.7 195.5 56 197 55.7 200 56.9M111.5 83 113.5 82.8 115 83.5 116.5 85 117.2 86.5 117.5 88.5 117.2 90.5 116.5 91.6 115 92.5 112.5 93 109.5 92.8 108 92.2 107.2 91 107.2 88.5 108 86.2 109.5 84.2M92 104.9 93.8 102 95 100.7 96.5 100.1 98 100.1 99.8 101 101 102.5 101.7 104.5 102 107 101.5 111 100 114.5 98 117 92 122.6M200 150.3 191.5 148.7 184.5 146.2 178 142.7 175.8 141 174 139 170.3 133 162.5 117.5 161.8 114 161.9 106 159.9 100 159.5 98 159.7 96.5 160.3 95 162.5 92.5 173 85.3 179.5 81.3 182.5 78.8 191.7 66.5 194.5 61 195.5 59.6 196.5 59 197.5 58.8 200 59.5M119 116 120.5 115.6 122 116.3 123 117.9 124 120.7 124.6 124 124.8 127 124.6 130.5 123.8 134.5 122 140.6 121 142.5 119.7 144 118 145.2 116 145.9 114 146.1 112 145.9 110 145.2 108.3 144 106.9 142.5 105.8 140.5 104.9 136 105.4 130.5 106.9 126.5 109 123.5 114.5 118.9M200 149.1 192 147.4 184.7 144.5 178.9 141 176.8 139 175.2 137 170.8 129 165.9 117 165.3 113.5 165.1 106 163.9 98.5 164.4 96 166.5 93.6 180.5 83.7 183.5 81 189.5 72.5 196.9 63 198 62.4 200 62.4M96 107.1 96.5 107.1 96.9 107.5 97 109 96 110.8 94.5 111.9 94.2 111 95 108.3M118 122 119.5 122 120.3 122.5 121.1 123.5 121.6 125 121.9 129 120.9 134 119.5 138.4 117.8 141 115.5 142.5 114 142.8 112.5 142.7 110 141.2 108.5 139 107.8 136 108.1 132.5 109.3 129.5 111.5 126.6 115 123.5M200 147.9 193 146.3 186.3 143.5 180.6 140 178.5 138 177 136.1 174.9 132.5 172.6 127.5 169.3 117.5 168.3 112 167.6 101.5 168 98.4 169.5 95.8 183 85.1 186 81.6 190.2 75 192.5 72 197.5 67.3 200 66.1M114 131.8 115 131.5 115.5 131.7 116 132.5 116 133.5 115.1 136 114.5 136.6 113.5 136.8 112.5 136 112.3 134.5 112.9 133M200 146.6 193.7 145 187.5 142.3 182.4 139 179 135.5 176.4 130.5 173.8 123.5 171.2 112.5 170.6 106 171 101.5 172.5 98.5 174.5 96.5 181 91.3 185 87.2 188 83.2 192 76.1 194 73.6 197 71.1 200 69.7M200 145.1 194.5 143.6 188.9 141 184.2 138 181.3 135 179 130.7 176.7 124 174.2 112.5 173.7 107.5 174 104.5 175.2 102 177 99.9 183 95.1 186.2 91.5 189.9 86 194.5 77 197 74.6 198.5 73.9 200 73.6M200 143.3 195.5 142 190.3 139.5 186 136.6 183.5 133.9 181.6 130 179.4 122.5 178 115.5 177.5 110 177.9 107 179 104.9 180.9 103 185.5 99.6 187.5 97.5 193.2 88.5 197 81.2 198.5 80 200 80M200 141 196.5 139.9 191.7 137.5 188.8 135.5 186.6 133 185.5 131 184.5 128 182.5 119.5 182.1 115.5 182.5 112 184 109.5 186.5 107.9 192.5 105.6 194.4 104 195 102.5 195.4 97.5 196.1 95 197.9 92 200 90.5M200 137.8 197.5 137 194.7 135.5 192.7 134 191.2 132.5 190.3 131 189.5 129 189 124 189.4 120 190.6 117.5 193.1 115 200 109.4M200 133.3 197.8 132 196.1 130 195.3 128 195 125.5 195.4 122.5 196.5 119.5 198.3 116 200 114.1" fill="none" stroke="#000" stroke-width="1.0" stroke-linejoin="round" shape-rendering="crispEdges"/>
</g>
<rect x="92" y="64" width="2.5" height="72" fill="#000"/>
<clipPath id="p2b"><polygon points="203,26.5 255,26.5 255,159 252,162 251.6,165.8 240,165.8 237,158.5 206,158.5 203,156"/></clipPath>
<g clip-path="url(#p2b)">
<path d="M207.5 145.5 209.5 145.1 211.7 146 213.4 147.5 216.5 152.1 218.5 154.2 220.5 155.4 226.5 158 231.5 161.8 233.5 162.9 236.5 163.7 240 164.1 249.5 163.3 254 163.8 254 166 204 166 204 150.8 206.4 146.5Z" fill="#4c008c" stroke="#4c008c" stroke-width="0.6" fill-rule="evenodd"/>
<path d="M204.2 127 205.3 129.5 206.3 135.5 207.2 137.5 208.5 138.5 213.5 140.6 215.5 142 220 147.8 221.8 149.5 228.5 152.9 234 158 237 160 239 160.6 241.5 160.9 250.5 159.9 254 160.3 254 163.8 250 163.3 243 164 239.5 164 236 163.6 233.5 162.9 231.5 161.8 226.5 158 220.5 155.4 218.5 154.2 216.5 152.1 213 147.1 211.5 145.9 210 145.2 208.5 145.1 207 145.8 204 150.8 204 126.8Z" fill="#1616b0" stroke="#1616b0" stroke-width="0.6" fill-rule="evenodd"/>
<path d="M204.3 116.5 208 118.9 215.5 122 218.5 124.5 219.5 126 220.5 128.5 222.3 138.5 223.8 142.5 225.3 144.5 230.5 149.2 236 155.7 239 157.7 242 158.3 244.5 158.2 250.5 157.2 254 157.3 254 160.3 250.5 159.9 241.5 160.9 239 160.6 236.5 159.7 234 158 228.5 152.9 223 150.2 221.2 149 219.5 147.2 216.5 143 215 141.6 207.7 138 206.4 136 205.2 129 204 126.8 204 116.3Z" fill="#1030e8" stroke="#1030e8" stroke-width="0.6" fill-rule="evenodd"/>
<path d="M204.5 83.8 207.2 86 209 89 209.5 91.5 209.9 98 210.5 101.5 213.7 110.5 215.6 114 220 119.4 222 122.5 223.9 127 226.2 135.5 227.5 139 234.8 150.5 237.5 153.8 240.5 155.6 244 156 251 154.7 254 154.6 254 157.3 250.5 157.2 244.5 158.2 242 158.3 239 157.7 236.5 156.2 234.5 154.2 230.5 149.2 225.3 144.5 223.8 142.5 222.3 138.5 220.5 128.5 219.5 126 218.5 124.5 215.5 122 208 118.9 204 116.3 204 83.6Z" fill="#1e6cf0" stroke="#1e6cf0" stroke-width="0.6" fill-rule="evenodd"/>
<path d="M204.5 79.8 207 81.2 209.5 83.2 211.2 85 212.5 87 213.3 89.5 214.1 96.5 215.1 100 225 122.7 229.9 137 236.3 149 238.9 152 241.5 153.5 245 153.7 251.5 152.4 254 152.1 254 154.6 251 154.7 244.5 156 241.5 155.9 239.5 155.1 237.8 154 234.4 150 227.5 139 226.2 135.5 223.9 127 222 122.5 220 119.4 215.6 114 213.3 109.5 210.4 101 209.1 89.5 208.3 87.5 207.2 86 205.5 84.4 204 83.6 204 79.6Z" fill="#20a8f0" stroke="#20a8f0" stroke-width="0.6" fill-rule="evenodd"/>
<path d="M204.5 76.4 208.2 78.5 212 81.4 214.5 84 216.2 86.5 217.1 89.5 217.8 95 218.4 97.5 222 106.1 224.5 114.5 230.6 132.5 233.8 140 237.5 147.2 240 150.1 242.5 151.4 246 151.4 254 149.7 254 152.1 251.5 152.4 245.5 153.7 242.5 153.7 240.5 153.1 239 152.1 236.3 149 229.9 137 225 122.7 215.1 100 214.1 96.5 213.5 90.5 212.7 87.5 211.5 85.4 209.5 83.2 206.5 80.9 204 79.6 204 76.2Z" fill="#20d0e0" stroke="#20d0e0" stroke-width="0.6" fill-rule="evenodd"/>
<path d="M204.5 73.2 209 75.7 214 79.4 217.7 83 220.1 86.5 221.1 89.5 222.3 97 224.7 104 227.3 114.5 231.5 128.2 235.1 138 238.7 145.5 240.9 148 243 149.1 246.5 149.2 254 147.3 254 149.7 246 151.4 243 151.5 241.5 151 240 150.1 237.5 147.2 233.8 140 230.6 132.5 224.5 114.5 222 106.1 218.4 97.5 217.8 95 217.1 89.5 216.4 87 214.9 84.5 212 81.4 207.5 78.1 204 76.2 204 73.1Z" fill="#20ecb0" stroke="#20ecb0" stroke-width="0.6" fill-rule="evenodd"/>
<path d="M204.5 69.9 209.5 72.3 214.5 76 221.9 83 223.9 85.5 225.1 87.5 226.2 91 228.6 107.5 230.3 115.5 235.3 132.5 238 139.6 240 143.6 242 145.8 244.5 146.8 247.5 146.6 254 144.9 254 147.3 247 149.1 244 149.3 242.5 148.9 241 148.1 238.7 145.5 235.1 138 231.5 128.2 227.3 114.5 224.7 104 222.2 96.5 221.1 89.5 220.3 87 218.1 83.5 214 79.4 208.5 75.3 204 73.1 204 69.8Z" fill="#3cf078" stroke="#3cf078" stroke-width="0.6" fill-rule="evenodd"/>
<path d="M204.5 66.1 209 67.5 214 70.6 227.3 83.5 229.7 86.5 231 89.3 231.7 92.5 232 105 232.8 111 236.5 127.5 240 138.5 241.9 142 244 143.6 245.5 144 247.5 144 254 142.4 254 144.9 247.5 146.6 244.5 146.8 242 145.8 239.9 143.5 238 139.5 235.3 132.5 230.3 115.5 228.6 107.5 226.2 91 225.1 87.5 223.9 85.5 221.9 83 214 75.6 209 72 204 69.8 204 66Z" fill="#80f028" stroke="#80f028" stroke-width="0.6" fill-rule="evenodd"/>
<path d="M206.5 60 208.5 59.7 210.5 60.4 218.4 67 220.6 69.5 224.9 76 231.8 82.5 234.1 85.5 235.8 89.5 236.9 95 238.7 109.5 239.6 125 240.5 130.4 241.7 135 243.1 138 245 139.9 246.5 140.5 248 140.6 254 139.6 254 142.4 248 143.9 245.5 144 243 143 241 140.6 239.2 136.5 237 129.5 232.8 111 232 105 231.9 93.5 231.4 90.5 230.5 88 229.4 86 227.7 84 214.5 71 212 69.2 209 67.5 206.5 66.5 204 66 204 60.8Z" fill="#c0f818" stroke="#c0f818" stroke-width="0.6" fill-rule="evenodd"/>
<path d="M211.5 26 254 26 254 26.2 225 26 215.5 26.7 213 26.6ZM210 51.9 212 51.9 213.5 52.6 219 60 227.1 66.5 228.4 68.5 231 74.5 236 80.1 238.2 83.5 240.1 88.5 244.7 105.5 244.9 109 244.7 119 246.1 132 247 134.1 248.5 135.4 250.5 135.9 254 135.9 254 139.6 248.5 140.6 246 140.4 244.5 139.6 243.5 138.6 241.9 135.5 240.5 130.5 239.6 125 238.7 109.5 236.8 94.5 235.6 89 233.8 85 231.5 82.2 224.9 76 219.4 68 211.5 61.1 210 60.1 208.5 59.7 207 59.8 204 60.8 204 55.7 207.5 53.1Z" fill="#ffee00" stroke="#ffee00" stroke-width="0.6" fill-rule="evenodd"/>
<path d="M208.5 26 211.3 26 213 26.6 215.5 26.7 225 26 254 26.2 254 27.7 225.5 27.5 214.5 28.2 210.5 27.5 208.7 26.5 208.2 26ZM214 45.4 216.5 45.3 218 46.3 218.9 48 220.9 54 222.1 56 223.5 57.5 226.5 59.5 233.5 62.9 236 64.4 238.3 66.5 239.8 69 244.7 84.5 247 95.5 249.7 104 250.1 107 249.9 113.5 250.2 116.5 251.4 120 254 125 254 135.9 250.5 135.9 248.5 135.4 247 134.1 246.1 132 244.7 119 244.9 109 244.7 105.5 239.8 87.5 237.4 82 235.9 80 231 74.5 228.7 69 227.5 67 225.5 65 219 60 213.5 52.6 211.5 51.8 209.5 52.1 207.5 53.1 204 55.7 204 51.9 209.5 47.4Z" fill="#ffc60a" stroke="#ffc60a" stroke-width="0.6" fill-rule="evenodd"/>
<path d="M206.5 26 208.2 26 210.5 27.5 214.5 28.2 225.5 27.5 254 27.7 254 29.6 241 29 227 29 215 30.3 212 29.8 209.5 28.7 207.5 27.4ZM219 35.9 220.5 35.8 222 36.2 223.2 37 224 38.1 224.7 41 225.2 49 225.8 51 227 52.9 230 55.1 236.5 57.3 239.5 59.1 243 63 245.4 67.5 248.5 79.1 251 91 252.3 94 254 95.7 254 125 251.6 120.5 250.4 117.5 249.9 114.5 250.1 107.5 249.7 104 247 95.5 244.6 84 240.4 70.5 238.6 67 237.4 65.5 235.5 64 226 59.2 223 57 220.9 54 218.5 47 217 45.5 214.5 45.3 211 46.6 208 48.4 204 51.9 204 48.6 213 41 217 37Z" fill="#ffa010" stroke="#ffa010" stroke-width="0.6" fill-rule="evenodd"/>
<path d="M205 26 206.4 26 208 27.8 210.5 29.2 215 30.3 227 29 241 29 254 29.6 254 50.6 251 50.3 248.5 51.4 246.6 53.5 245.9 56 246.6 59 250 66 251.4 70.5 252.7 84.5 253.2 87 254 88.8 254 95.7 252.5 94.4 251.2 91.5 246.6 71.5 244.5 65.5 242 61.6 239 58.7 236.5 57.3 230 55.1 228.2 54 226.7 52.5 225.6 50.5 225.1 48.5 224.5 39.5 223.9 38 223.2 37 222 36.2 220.5 35.8 218 36.3 213 41 204 48.6 204 45.5 210 39.5 211.6 37 212.1 35 211.8 33.5 211.1 32.5 206.5 28.2ZM234.2 31 231 31.4 229 32 228.3 32.5 228 33.5 230.7 44 232 45.7 233.5 46.2 235 45.8 236.5 45 242.5 40.6 244.9 37.5 245.9 35.5 246.3 34 245.5 32.5 243.4 31.5 239.5 31Z" fill="#e87828" stroke="#e87828" stroke-width="0.6" fill-rule="evenodd"/>
<path d="M204.5 26 204.8 26 207.5 29.3 211.1 32.5 211.8 33.5 212.1 35 211.6 37 210 39.5 204 45.5 204 42.3 205.5 40.9 207.3 38.5 208.4 35.5 208.2 34 207.6 32.5 205.4 29 204 27.4 204 26ZM234.5 31 240 31 243.4 31.5 245.5 32.5 246.2 33.5 246.2 34.5 244.6 38 242 41 236 45.3 234.5 46 233 46.2 231.5 45.3 230.5 43.5 228.1 33 228.9 32 230 31.6ZM250.5 50.4 252 50.2 254 50.6 254 88.8 253.4 87.5 252.8 85 251.8 73.5 251 69 249.8 65.5 246.6 59 245.9 56.5 246.1 54.5 247 52.8 248.5 51.4Z" fill="#c85048" stroke="#c85048" stroke-width="0.6" fill-rule="evenodd"/>
<path d="M204.1 27.5 207.3 32 208.4 35 208.2 36.5 207.3 38.5 205.5 40.9 204 42.3 204 38.2 205.1 36.5 205.5 34.5 205 32 204 30Z" fill="#e02060" stroke="#e02060" stroke-width="0.6" fill-rule="evenodd"/>
<path d="M204.3 30.5 205.2 32.5 205.5 34.5 205.1 36.5 204 38.2 204 30Z" fill="#ff0060" stroke="#ff0060" stroke-width="0.6" fill-rule="evenodd"/>
<path d="M254 163.8 250 163.3 243 164 239.5 164 236 163.6 233.5 162.9 231.5 161.8 226.5 158 220.5 155.4 218.5 154.2 216.5 152.1 213 147.1 211.5 145.9 210 145.2 208.5 145.1 207 145.8 204 150.8M254 160.3 250.5 159.9 244 160.8 241 160.9 238 160.3 235.2 159 228.5 152.9 223 150.2 221.2 149 219.5 147.2 216.5 143 215 141.6 213 140.4 209 138.8 207.5 137.8 206.4 136 205.2 129 204 126.8M254 157.3 250.5 157.2 244.5 158.2 242 158.3 239 157.7 236.5 156.2 234.5 154.2 230.5 149.2 225.3 144.5 223.8 142.5 222.3 138.5 220.5 128.5 219.5 126 218.5 124.5 215.5 122 208 118.9 204 116.3M254 154.6 251 154.7 244.5 156 241.5 155.9 239.5 155.1 238 154.2 235.1 151 227.5 139 226.2 135.5 223.9 127 222 122.5 220 119.4 215.6 114 213.7 110.5 210.5 101.5 209.9 98 209.5 91.5 209 89 207 85.8 205.5 84.4 204 83.6M254 152.1 251.5 152.4 245.5 153.7 242.5 153.7 239.5 152.5 236.5 149.3 229.9 137 225 122.7 215.1 100 214.1 96.5 213.3 89.5 212.5 87 211.2 85 209.3 83 206.5 80.9 204 79.6M254 149.7 246 151.4 243 151.5 241.5 151 240 150.1 237.7 147.5 234.3 141 230.6 132.5 224.5 114.5 222 106.1 218.4 97.5 217.8 95 217.1 89.5 216.2 86.5 214.5 84 211.5 81 207.4 78 204 76.2M254 147.3 247 149.1 244 149.3 241.5 148.4 239 145.9 235.6 139 231.6 128.5 227.3 114.5 224.7 104 222.3 97 221.1 89.5 220.1 86.5 217.7 83 213.5 79 208.5 75.3 204 73.1M254 144.9 247.5 146.6 244.5 146.8 242 145.8 240 143.6 238 139.6 235.3 132.5 230.3 115.5 228.6 107.5 226.2 91 225.1 87.5 223.9 85.5 221.9 83 214 75.6 209 72 204 69.8M254 142.4 247.5 144 244.5 143.8 243 143 242 142.1 240 138.5 236.5 127.5 232.8 111 232 105 231.7 92.5 230.9 89 229.5 86.2 227.3 83.5 214 70.6 209 67.5 206.5 66.5 204 66M254 139.6 248.5 140.6 246 140.4 244.5 139.6 243.5 138.6 241.9 135.5 240.5 130.5 239.6 125 238.7 109.5 236.8 94.5 235.6 89 233.8 85 231.5 82.2 224.9 76 219.4 68 211.5 61.1 210 60.1 208.5 59.7 207 59.8 204 60.8M211.3 26 213 26.6 215.5 26.7 225 26 254 26.2M254 135.9 250.5 135.9 248.5 135.4 247 134.1 246.1 132 244.7 119 244.9 109 244.7 105.5 239.8 87.5 237.4 82 235.9 80 231 74.5 228.7 69 227.5 67 225.5 65 219 60 213.5 52.6 211.5 51.8 209.5 52.1 207.5 53.1 204 55.7M208.2 26 210.5 27.5 214.5 28.2 225.5 27.5 254 27.7M254 125 251.6 120.5 250.4 117.5 249.9 114.5 250.1 107.5 249.7 104 247 95.5 244.6 84 240.4 70.5 238.6 67 237.4 65.5 235.5 64 226 59.2 223 57 220.9 54 218.5 47 217 45.5 214.5 45.3 211 46.6 208 48.4 204 51.9M206.4 26 207.7 27.5 210 29 212.5 29.9 215 30.3 227 29 241 29 254 29.6M254 95.7 252.5 94.4 251.2 91.5 246.6 71.5 244.5 65.5 242 61.6 239 58.7 236.5 57.3 230 55.1 228.2 54 226.7 52.5 225.6 50.5 225.1 48.5 224.5 39.5 223.9 38 223.2 37 222 36.2 220.5 35.8 218 36.3 213 41 204 48.6M204.8 26 207 28.8 211.1 32.5 211.8 33.5 212.1 35 211.6 37 210 39.5 204 45.5M254 88.8 253.2 87 252.7 84.5 251.9 74 251.2 69.5 249.8 65.5 246.6 59 245.9 56 246.6 53.5 248.5 51.4 251 50.3 254 50.6M234.5 31 240 31 243.4 31.5 245.5 32.5 246.2 33.5 246.2 34.5 244.6 38 242 41 236 45.3 234.5 46 233 46.2 231.5 45.3 230.5 43.5 228.1 33 228.9 32 230 31.6M204 27.4 207.3 32 208.4 35 208.2 36.5 207.3 38.5 205.5 40.9 204 42.3M204 30 205 32 205.5 34.5 205.1 36.5 204 38.2" fill="none" stroke="#000" stroke-width="1.0" stroke-linejoin="round" shape-rendering="crispEdges"/>
</g>
<clipPath id="p2c"><polygon points="254,26.5 271,26.5 271,59 283,59 284.5,63 287,63 288,59 313,59 313,167.3 285.5,167.3 284.5,159 254,159"/></clipPath>
<g clip-path="url(#p2c)">
<path d="M254.5 26 257.1 26 257.4 151 257 153.4 254 153.5 254 26ZM263.5 26 263.5 59.8ZM269.5 26 312.5 26 312.5 69.8 311.9 65 311.5 64.2 310.5 63.6 308.5 63.3 294.5 63.2 293.5 63.6 293.1 64.5 292.7 68.5 292.7 151 292.5 153.3 292 153.5 276.5 153.4 276.2 151 276.5 70.5 277 70.1 282.5 70.1 283 69.9 283.7 67 283.8 60 283.3 57 283 56.4 282.5 56.3 269.5 56.2 269.1 55 269.1 26ZM263.5 67.7 263.7 69 264.5 69.9 267.5 69.9 267.7 70.5 267.7 136 268 151 267.5 153.4 265 153.4 264.5 151 264.8 100.5 264.5 93 264.2 92 263.5 91.3 263.4 90.5ZM312.5 116.4 312.5 146Z" fill="#000" stroke="#000" stroke-width="0.6" fill-rule="evenodd"/>
<path d="M257.4 26.5 257.3 100.5 257.5 137 258 157.8 258.5 158.5 263 158.5 263.7 158 264.1 156 264.5 101 264.3 94.5 263.2 90.5 263.1 26 263.5 26 263.5 59.8 263.5 26 263.9 26 263.7 67 264.5 69.4 267.5 69.5 268.1 70 268 136 268.5 155.5 268.9 158 269.5 158.5 275 158.5 275.5 157.8 275.8 156 276.3 136 276.3 69 276.5 67.4 282.5 67.3 283 66.8 283.2 60 283 59.2 282.5 58.8 269.5 58.7 269 57.4 268.8 54.5 268.8 26 269.1 26 269.1 54.5 269.5 56.2 282.5 56.3 283 56.4 283.3 57 283.8 59.5 283.8 66.5 283.5 68.7 283 69.9 282.5 70.1 277 70.1 276.5 70.5 276.2 151 276.5 153.4 292 153.5 292.5 153.3 292.7 71.5 293.2 64 293.6 63.5 294.5 63.2 308.5 63.3 310.5 63.6 311.5 64.2 311.9 65 312.5 70.4 312 69.6 311.6 67 311.1 65.5 310.1 64.5 309 64 294.5 63.9 293.6 64.5 293.3 65.5 293 76 292.9 156 293.3 162.5 294 164.6 312.5 164.8 312.5 166 254 166 254 153.5 257 153.4 257.4 151 257.1 26 257.4 26ZM263.5 68 263.5 91.3 264.2 92 264.5 93 264.8 100.5 264.5 151 265 153.4 267.5 153.4 268 151 267.7 136 267.7 70.5 267.5 69.9 264.5 69.9 263.7 69ZM312.5 115.7 312.5 147.2 312.1 145.5 312.2 116.5Z" fill="#4c008c" stroke="#4c008c" stroke-width="0.6" fill-rule="evenodd"/>
<path d="M257.5 26 257.6 136.5 258 150.1 258.5 153.4 263 153.5 263.5 152.8 264.2 138.5 264.3 99 264 94.5 263 90.5 263.1 26 263.2 90.5 264.3 94.5 264.5 101.5 264.1 156 263.7 158 263 158.5 258.5 158.5 258 157.8 257.8 156 257.3 96ZM264 26 264.1 54.5 263.8 66.5 264.5 68.9 267.5 69.1 268 69.3 268.2 70 268.1 136 268.4 147 269 154.2 269.5 154.7 275 154.7 275.5 153.4 276.1 136 276.1 73.5 275.9 67.5 275.5 66.4 269.5 66.2 269.3 65.5 268.5 54.5 268.5 26 268.8 26 268.8 55 269 57.4 269.5 58.7 282.5 58.8 283 59.2 283.2 60 283 66.8 282.5 67.3 276.5 67.4 276.3 68.5 276.3 136.5 275.8 155.5 275.5 157.8 275 158.5 269.5 158.5 268.9 158 268.5 155.5 268 136 268.1 70 267.5 69.5 264.5 69.4 263.7 67ZM294.5 63.9 308 63.9 309.5 64.2 310.5 64.8 311.3 66 312.5 70.8 311.7 70 311.2 67.5 310.5 66 309.5 65 308.5 64.5 294.5 64.5 294 64.7 293.5 66 293.1 74.5 293.2 155.5 293.5 159.8 294 161.8 294.5 162.2 312.5 162.2 312.5 164.8 294.5 164.7 293.9 164.5 293.4 163 292.9 156 293 70.5 293.3 65.5 293.6 64.5ZM312.5 115.3 312.2 116.5 312.1 145.5 312.5 148.2 311.8 145.5 311.9 116.5Z" fill="#1616b0" stroke="#1616b0" stroke-width="0.6" fill-rule="evenodd"/>
<path d="M257.7 26.5 257.6 97 258 143.7 258.5 148.3 263 148.5 263.5 147.4 264.1 136.5 264.3 101.5 264 95.5 262.9 91 262.9 26 263 90.5 264 94.5 264.3 98 264.3 135.5 263.6 152 263.4 153 263 153.5 258.5 153.4 258 149 257.6 136 257.5 100.5ZM264.4 26.5 264.4 55 264 66 264.5 68.5 268 68.9 268.4 70 268.2 136 268.5 145.5 269 151.2 269.5 152.2 275 152.2 275.5 150 276 136 276 73 275.5 67.3 275 66.9 269.5 67 269 66.5 268.3 55 268.2 26 268.5 26 268.5 55 269.3 66 270 66.3 275 66.3 275.6 66.5 275.9 67.5 276.1 73.5 276.1 136 275.5 153 275 154.7 269.5 154.7 269 154 268.5 149.5 268.1 136 268.2 70 268 69.3 267.5 69.1 264.5 68.9 263.8 66.5 264.1 55 264.1 26ZM294 64.7 307.5 64.5 309 64.7 310 65.4 310.8 66.5 311.7 70 312.5 70.8 312.5 71.2 311.4 70 310.1 66.5 308.5 65.2 294.5 65.1 294 65.4 293.6 66.5 293.3 70 293.1 140.5 293.4 155 294 160 294.5 160.4 312.5 160.2 312.5 162.2 294.5 162.2 294 161.8 293.5 160 293.2 156 293.1 76 293.3 68ZM312 115.5 312.5 115 311.9 116.5 311.8 145.5 312.5 148.2 312.5 149.3 311.4 146 311.6 116.5Z" fill="#1030e8" stroke="#1030e8" stroke-width="0.6" fill-rule="evenodd"/>
<path d="M257.8 26.5 257.7 96 257.9 138 258.5 143.3 263 143.4 263.5 142 264 136 264.1 101.5 263.9 96.5 263 93.3 262.8 91 262.8 26 262.9 91 264 95.5 264.3 101.5 264.1 138 263.5 147.4 263 148.5 258.5 148.3 258 143.7 257.6 96ZM264.5 26 264.7 26 264.7 54.5 264.1 66 264.5 68 265 68.4 268 68.4 268.5 69.5 268.3 73.5 268.3 136 269 149.2 269.5 150.1 275 150.1 275.5 148.1 275.9 136 275.9 73 275.6 68.5 275 67.6 269.5 67.6 269 67.4 267.9 54.5 267.9 26 268.2 26 268.3 55 269 66.5 269.5 67 275 66.9 275.5 67.3 275.8 69 275.9 138 275.5 150.2 275 152.2 269.5 152.2 269 151.2 268.6 148 268.2 135.5 268.4 70 268 68.9 264.5 68.5 264 66 264.4 55ZM294 65.4 295 65.1 308.5 65.2 310.1 66.5 311.4 70 312.5 71.2 312.5 71.6 311.1 70 309.8 67 308.5 65.8 294.5 65.7 294 66.1 293.4 70 293.2 140.5 293.5 153.5 293.9 158 294.4 159 308.5 159.1 312.5 158.5 312.5 160.2 294.5 160.4 294 160 293.4 155 293.1 141 293.3 69ZM312.5 114.7 311.6 116.5 311.4 145.5 311.7 147.5 312.5 149.3 312.5 150.3 311.6 148.5 311.1 146 311.4 116.5 311.7 115.5Z" fill="#1e6cf0" stroke="#1e6cf0" stroke-width="0.6" fill-rule="evenodd"/>
<path d="M257.9 26.5 257.8 96 258 136 258.5 139.6 263 139.7 263.5 138.9 263.7 136 264 101.5 263.7 97 263 94.3 262.8 91 262.7 26 262.8 91 263 93.3 263.9 96.5 264.1 101.5 264 136 263.5 142 263 143.4 258.5 143.3 257.9 137.5 257.7 95.5ZM265 26 267.9 26 267.9 54.5 269 67.4 269.5 67.6 275 67.6 275.5 68.1 275.8 70.5 275.9 136.5 275.5 148.1 275 150.1 269.5 150.1 269 149.2 268.3 135.5 268.3 73.5 268.5 69.5 268 68.4 265 68.4 264.5 68 264.1 66 264.7 54.5 264.7 26ZM265 57 264.3 62.5 264.3 67 265 68 268 68 268.5 67.6 268.6 66 268 58.4 267.5 56.7 265.5 56.7ZM268.9 68.5 268.4 73.5 268.4 136 269 147.3 269.5 148.5 275 148.4 275.5 146 275.8 136.5 275.8 71.5 275.5 68.9 275 68.2ZM294.5 65.7 308.5 65.8 310 67.3 311.1 70 312.5 71.6 312.5 72 311 70.5 309.6 67.5 308.5 66.4 294.5 66.4 294 66.8 293.4 76 293.2 140.5 293.6 152.5 294 157.2 294.5 157.8 308 157.9 312.5 156.9 312.5 158.5 308.5 159.1 294.4 159 293.9 158 293.5 153.5 293.2 141 293.3 76 293.5 68.5 294 66.1ZM312.5 114.4 311.4 116.5 311.1 146 311.6 148.5 312.5 150.3 312.5 153 311.3 149 310.8 146 311.1 140.5 311.1 116.5 311.4 115.5Z" fill="#20a8f0" stroke="#20a8f0" stroke-width="0.6" fill-rule="evenodd"/>
<path d="M258 26 257.9 101 258.5 137.1 263 137.2 263.5 136 263.9 101 262.7 91 262.6 26 262.8 91 263 94.3 263.7 97 264 101.5 263.7 136 263.5 138.9 263 139.7 258.5 139.6 258 136 257.8 95.5ZM265 56.8 267.5 56.7 268 58.4 268.6 66 268.5 67.6 268 68 265 68 264.3 67 264.3 62.5ZM265 60 264.4 63 264.3 66 264.5 67.2 265 67.6 268 67.5 268.5 66 268 60.7 267.5 59.9ZM294.5 66.4 308.5 66.4 309.6 67.5 311 70.5 312.5 72 312.5 72.4 311.4 71.5 309.1 67.5 308 66.9 294.5 67 294 67.5 293.6 70.5 293.3 141 294 155.7 294.5 156.6 308 156.6 310 156.1 310.8 155.5 311.3 151.5 310.5 146 310.9 140.5 310.9 116.5 311.5 115 312.5 114.1 311.4 115.5 311.1 116.5 311.1 140.5 310.8 146 311.3 149 312.5 153 312.5 156.9 308.5 157.9 294.5 157.8 293.9 156.5 293.3 141 293.4 76 293.6 69 294 66.8ZM269 68.4 275 68.2 275.5 68.9 275.8 71.5 275.8 136.5 275.5 146 275 148.4 269.5 148.5 269 147.3 268.4 136 268.4 73.5ZM269.5 69 269 69.5 268.5 73.5 268.5 135.5 269 145.5 269.5 146.8 275 146.7 275.5 143.9 275.8 136 275.7 72 275.5 69.7 275 68.8Z" fill="#20d0e0" stroke="#20d0e0" stroke-width="0.6" fill-rule="evenodd"/>
<path d="M258.4 26.5 258.4 49.5 257.9 60 257.9 96 258.5 115.3 259 116.1 262.5 116.1 263 115.9 263.5 111.1 263.7 101.5 263 97 262.6 91 262.6 59 262.1 49.5 262.1 26 262.4 26 262.7 91 263.9 101.5 263.5 136 263 137.2 259 137.2 258.5 137.1 257.9 100.5 258.1 26 258.4 26ZM265 60 267.5 59.9 268 60.7 268.5 66 268 67.5 265 67.6 264.5 67.2 264.3 66 264.4 63ZM264.9 61.5 264.5 63 264.5 66.7 265 67.3 268 67.1 268.3 66 268 62 267.5 61.2 265.5 61.2ZM299.5 67 308.5 67 309.5 68.1 310.7 70.5 312.5 72.4 312.5 72.7 311 71.5 309 68 308.3 67.5 294.5 67.7 294 68.3 293.5 76 293.4 141 293.9 153.5 294.5 155.3 308 155.2 309 154.7 309.8 153.5 310.5 151 310.2 146 310.6 140.5 310.6 116.5 311.2 115 312.5 113.7 311.1 115.5 310.9 116.5 310.9 140.5 310.5 146 311.3 151 311.2 153.5 310.8 155.5 310.3 156 308.5 156.6 294.5 156.6 294 155.7 293.3 140.5 293.6 70 294 67.5 294.5 67ZM269.5 69 275 68.8 275.5 69.7 275.7 72 275.8 136 275.5 143.9 275 146.7 269.5 146.8 269 145.5 268.5 135.5 268.5 73.5 269 69.4ZM272.5 69.5 269.5 69.6 269 70.2 268.6 73 268.6 136 269 143.6 269.5 145.1 275 145 275.7 138 275.7 73 275.5 70.4 275 69.4Z" fill="#20ecb0" stroke="#20ecb0" stroke-width="0.6" fill-rule="evenodd"/>
<path d="M258.5 26 262.1 26 262.1 49.5 262.6 60 262.6 91 263 97 263.7 101.5 263.5 111.1 263 115.9 262.5 116.1 259 116.1 258.5 115.3 257.9 95.5 257.9 60 258.4 49.5ZM258.5 51.5 258 60 258.1 101.5 258.5 105.9 259 106.2 262.5 106.2 263 105.9 263.4 101.5 262.9 98.5 262.5 91.5 262.3 55 262 51.5 259 51.3ZM265 61.3 267.5 61.2 268 62 268.3 66 268 67.1 265 67.3 264.5 66.7 264.5 63ZM265 62.5 264.5 64.7 264.7 66.5 265.5 66.9 268 66.7 268 63.5 267.5 62.4ZM304.5 67.5 308.5 67.6 310.6 71 312.5 72.7 312.5 73.1 311 72 309 68.7 308 68 294.5 68.4 294 69.1 293.5 140.5 293.9 151.5 294.5 154.1 306 154.1 308.3 153.5 309.1 152.5 309.7 150.5 310.4 141 310.4 116 311.2 114.5 312.5 113.4 312.5 113.7 311 115.3 310.6 116.5 310.6 140.5 310.2 146 310.4 151.5 309.6 154 308.5 155.1 306 155.4 294.5 155.3 294 154.3 293.4 141 293.5 76 294 68.3 294.5 67.7ZM273 69.5 275 69.4 275.5 70.4 275.7 73 275.6 139 275 145 269.5 145.1 269 143.6 268.6 136 268.6 73 269 70.2 269.5 69.6ZM269.2 70.5 268.6 73.5 268.7 135.5 269 141.7 269.5 143.4 275 143.4 275.7 136 275.7 72.5 275.5 71 275 70 270 70.2Z" fill="#3cf078" stroke="#3cf078" stroke-width="0.6" fill-rule="evenodd"/>
<path d="M258.5 51.5 259.5 51.2 262 51.5 262.3 55 262.5 91.5 262.9 98.5 263.4 101.5 263 105.9 262.5 106.2 259 106.2 258.5 105.9 258.1 101.5 258 60ZM258.5 54 258.2 60.5 258.3 101 258.5 103.3 262 103.5 262.5 103 262.9 101 262.3 91 262 54 261.5 53.8 259 53.8ZM265 62.5 267.5 62.4 268 63.5 268 66.7 265.5 66.9 264.7 66.5 264.5 64.7ZM265 64 264.7 65.5 265 66.5 267.5 66.5 268 66.1 267.5 63.8 265.5 63.8ZM294.5 68.4 308 68 309 68.7 311 72 312.5 73.1 312.5 73.5 311 72.4 308.7 69 308 68.6 294.5 69 294 70 293.7 76.5 293.5 140.5 294 151.4 294.5 152.8 306 152.8 308 152.1 308.9 151 309.3 149 310.1 141 310.2 116 311 114.2 312.5 113.1 312.5 113.4 310.8 115 310.4 116.5 310.4 141 309.7 151 308.5 153.4 306 154.1 294.5 154.1 294 152.8 293.5 140.5 293.6 76.5 294 69.1ZM269.5 70.2 275 70 275.5 71 275.7 72.5 275.7 136 275 143.4 269.5 143.4 269 141.5 268.7 135.5 268.6 73.5 269 70.8ZM269.3 71 268.7 73.5 269 139.9 269.5 141.8 274.5 141.8 275 141.7 275.6 136 275.6 72.5 275 70.5 270 70.7Z" fill="#80f028" stroke="#80f028" stroke-width="0.6" fill-rule="evenodd"/>
<path d="M258.5 54 261.5 53.8 262 54 262.3 91 262.9 101 262.5 103 262 103.5 258.5 103.3 258.3 101 258.2 60.5ZM259.5 57.5 259 57.5 258.5 58 258.4 60 258.5 100 259 100.8 261.5 100.8 262 100.5 262.2 96.5 262 58 261.5 57.5ZM265 63.9 267.5 63.8 268 66.1 267.5 66.5 265 66.5 264.7 65.5ZM265 65.5 265 66 267.5 66 267.5 65.3 265.5 65.3ZM299.5 69 306 68.6 308.5 68.7 310.5 71.9 312.5 73.5 312.5 73.9 310.5 72.5 308.6 69.5 308 69.2 294.5 69.7 294 71.6 293.6 140.5 294 149.6 294.5 151.6 306 151.6 308.5 149.9 309 148 309.9 141 309.9 116 310.8 114 312.5 112.8 312.5 113.1 311 114.2 310.2 116 310.1 141 309.3 149.5 308.5 151.7 306 152.8 294.5 152.8 294 151.4 293.5 140.5 293.9 70.5 294.5 69ZM269.5 70.7 275 70.5 275.6 72.5 275.6 136 275 141.7 274.5 141.8 269.5 141.8 269 139.9 268.7 73.5 269 71.3ZM273.8 71 269.5 71.2 269 71.9 268.8 73 269 138 269.5 140.1 275 140.2 275.5 136 275.5 72.2 275 71Z" fill="#c0f818" stroke="#c0f818" stroke-width="0.6" fill-rule="evenodd"/>
<path d="M259.5 57.5 261.5 57.5 262 58 262.2 96.5 262 100.5 261.5 100.8 259 100.8 258.5 100 258.4 60 258.5 58 259 57.5ZM265 65.4 267.5 65.3 267.5 66 265 66ZM302 69.5 306 69.2 308.5 69.3 310.1 72 312.5 73.9 312.5 74.3 310.5 73 308.5 69.9 308 69.7 294.5 71.1 293.9 76 293.7 141 294 147.7 294.5 150.1 305.5 150.2 307.5 149.2 308.5 148.1 309.6 141 309.7 116 310.8 113.5 312.5 112.4 312.5 112.8 310.8 114 309.9 116 309.9 141 309 148 308.5 149.9 306 151.6 294.5 151.6 294 149.6 293.6 141 294 71.6 294.5 69.7ZM274 71 275 71 275.5 72.2 275.5 136 275 140.2 269.5 140.1 269 138 268.8 73 269 71.9 269.5 71.2ZM273.2 71.5 269.5 71.7 268.9 73 269 136 269.5 138.5 274.5 139.1 275 138.9 275.4 135.5 275.5 73.5 275 71.5Z" fill="#ffee00" stroke="#ffee00" stroke-width="0.6" fill-rule="evenodd"/>
<path d="M303.5 70 306.5 69.7 308.5 69.9 310 72.5 312.5 74.3 312.5 74.6 310.4 73.5 308.5 70.8 308 70.5 305.5 70.6 294.5 73 294 76.5 294.3 91 293.8 116 293.8 140.5 294 145.9 294.5 148.4 306 148.4 308 147.1 308.5 146.3 309.4 141 309.4 116 310.2 113.5 312 112.3 312.5 112.1 312.5 112.4 310.8 113.5 309.7 116 309.6 141.5 308.5 148.1 308 148.8 306.5 149.8 305.5 150.2 294.5 150.1 294 147.7 293.7 141 294 73.9 294.5 71.1ZM273.5 71.5 275 71.5 275.5 73.5 275.4 135.5 275 138.9 274.5 139.1 269.5 138.5 269 136 268.9 73 269.5 71.7ZM272.8 72 269.5 72.2 269 73.5 269.3 135.5 269.5 136.9 274.5 137.8 275 137.7 275.2 135.5 275.4 73.5 275 71.9ZM299.5 91.4 300 91.4 300.5 92.1 302.3 96 300 99.1 298.5 98 297.1 96 297.8 93 298.5 92Z" fill="#ffc60a" stroke="#ffc60a" stroke-width="0.6" fill-rule="evenodd"/>
<path d="M303.5 71 306 70.5 308 70.5 308.5 70.8 310 73.1 312.5 74.6 312.5 75 310.5 74.1 308.5 71.8 307.5 71.5 305.5 71.6 298 73.5 294.5 74.9 294.3 81 294.7 87.5 295 88.1 296 88.8 300 89.6 302.3 91 304.7 96 303.3 98.5 300 103.3 299.3 103 297.5 101.5 294.5 98 293.8 116 294 144.5 294.5 146.7 305.5 146.8 307.5 145.9 308.3 145 309.1 141 309.1 116 310 113.1 311 112.2 312.5 111.8 312.5 112.1 311 112.8 310.2 113.5 309.4 116 309.3 141.5 308.5 146.3 308 147.1 306 148.4 294.5 148.4 294 145.9 293.8 141 293.8 116 294.3 91 294 76 294.5 73ZM299.1 91.5 297.8 93 297.1 96 298.5 98 300 99.1 302.3 96 300.1 91.5ZM273 72 275 71.9 275.4 73.5 275.2 135.5 275 137.7 274.5 137.8 269.5 136.9 269.3 135.5 269 73.5 269.5 72.2ZM272.5 72.5 269.4 73 269.5 91.5 270 92.9 271.8 95.5 272.1 96.5 272.1 135.5 272.6 136 274.5 136.4 275 136.3 275.2 73.5 275 72.4Z" fill="#ffa010" stroke="#ffa010" stroke-width="0.6" fill-rule="evenodd"/>
<path d="M304 71.9 306 71.5 308 71.5 308.5 71.8 310 73.7 312.5 75 312.5 75.4 310.3 74.5 308.5 72.7 306 72.5 298 74.8 296 75.8 295.5 76.5 295.5 81 296.5 86 298 87.3 301 88.7 304.7 91 306 93.6 306.6 96 305.9 98.5 301.9 106 300 107.2 294.5 106.3 293.9 116 294 143.1 294.5 145.3 305.5 145.4 306.5 145.1 308 143.9 308.5 142.9 308.8 140.5 309 115 309.4 113 310 112.2 312.5 111.5 312.5 111.8 311 112.2 310.1 113 309.2 115.5 309.1 141.5 308.5 144.6 308 145.5 306 146.8 294.5 146.7 294 144.5 293.8 141 293.8 116 294.5 98 297.5 101.5 299.3 103 300 103.3 303.3 98.5 304.7 96 302.3 91 300 89.6 296.6 89 295 88 294.5 87 294.3 76 294.5 74.9 295.5 74.3ZM272.5 72.5 275 72.4 275.2 73.5 275 136.3 274.5 136.4 272.6 136 272.1 135.5 272.1 96.5 271.8 95.5 270 92.9 269.5 91.5 269.4 73ZM273.7 73 272.2 73.5 272.1 75.5 272.4 76.5 274.5 79.5 275 78.8 275 73Z" fill="#e87828" stroke="#e87828" stroke-width="0.6" fill-rule="evenodd"/>
<path d="M307 72.5 308.5 72.7 310.3 74.5 312.5 75.4 312.5 75.9 310.1 75 308.5 73.7 306 73.5 300.9 75 298.8 76 298.5 76.5 298.5 81 299 86 307.2 91 307.8 96.5 306.6 104.5 305.8 106.5 304.7 108 303 109 300.5 109.7 295 109.4 294.5 109.6 294 116 294 141 294.5 144 305.5 144.1 306.5 143.8 308 142.4 308.5 140.5 308.7 113.5 309 112.2 309.5 111.6 312.5 111.1 312.5 111.5 311 111.7 309.8 112.5 309.2 113.5 308.9 115.5 308.8 141.5 308 143.9 306 145.3 294.5 145.3 293.9 141 293.9 116 294.5 106.3 300 107.2 301.9 106 305.9 98.5 306.6 96 306 93.6 304.7 91 301 88.7 298 87.3 296.5 86 295.5 81 295.5 76.5 295.7 76 298.5 74.7 303.5 73.1ZM274 73 275 73 275 78.8 274.5 79.5 272.4 76.5 272.1 75.5 272.2 73.5ZM312.5 81.6 312.5 90.8 311.9 89.5 311.5 86.5Z" fill="#c85048" stroke="#c85048" stroke-width="0.6" fill-rule="evenodd"/>
<path d="M306 73.5 308.5 73.7 310.1 75 312.5 75.9 312.5 81.6 311.5 86.5 311.9 89.5 312.5 90.8 312.5 111.1 309.5 111.6 309 112.2 308.7 113.5 308.5 141.2 308 142.4 306 144 294.5 144 294 141 294 116 294.5 109.6 295 109.4 300.5 109.7 303 109 304.7 108 305.8 106.5 306.6 104.5 307.8 96.5 307.2 91 299 86 298.5 81 298.5 76.5 298.8 76 300.9 75ZM305.3 74.5 301.4 76 301.2 76.5 301 81 301.4 85.5 301.7 86 306 88.4 308 88.5 308.7 88 309.4 86.5 311.4 76.5 311 76 308.5 74.6 306.5 74.3ZM294.5 112.5 294.1 116.5 294.1 140 294.5 142.8 306 142.8 307.4 141.5 307.9 140.5 307.9 116.5 307.5 114 306.9 113 306 112.3 295 112.3Z" fill="#e02060" stroke="#e02060" stroke-width="0.6" fill-rule="evenodd"/>
<path d="M305.5 74.4 308.5 74.6 311 76 311.4 76.5 309.4 86.5 308.7 88 308 88.5 306 88.4 301.7 86 301.4 85.5 301 81 301.2 76.5 301.4 76 302.4 75.5ZM304.9 75.5 303.9 76 303.5 76.5 303 81 304.3 85.5 306 86.7 307 86.2 307.5 85.3 309.4 76.5 309.2 76 308 75.4 306 75.2ZM294.5 112.5 306 112.3 306.9 113 307.5 114 307.9 116.5 307.9 140.5 307.4 141.5 306 142.8 294.5 142.8 294.1 140 294.1 116.5ZM294.5 115 294.5 141.5 306 141.5 306.6 140.5 306.5 115.8 306 114.9 305.5 114.8 295 114.8Z" fill="#ff0060" stroke="#ff0060" stroke-width="0.6" fill-rule="evenodd"/>
<path d="M305 75.5 306 75.2 308 75.4 309.2 76 309.4 76.5 307.5 85.3 307 86.2 306 86.7 304.3 85.5 303 81 303.5 76.5 303.9 76ZM305.9 77 305.1 81 306 83 306.5 82 306.8 80.5 306.5 77.7ZM294.5 115 295 114.8 305.5 114.8 306 114.9 306.5 115.8 306.6 140.5 306 141.5 294.5 141.5Z" fill="#ff30b0" stroke="#ff30b0" stroke-width="0.6" fill-rule="evenodd"/>
<path d="M306 76.8 306.5 77.7 306.8 80.5 306.5 82 306 83 305.1 81Z" fill="#ff60ff" stroke="#ff60ff" stroke-width="0.6" fill-rule="evenodd"/>
<path d="M263.5 26 263.5 59.8 263.5 26M269.1 26 269.1 54.5 269.5 56.2 282.5 56.3 283 56.4 283.3 57 283.8 59.5 283.8 66.5 283.5 68.7 283 69.9 282.5 70.1 277 70.1 276.5 70.5 276.2 151 276.5 153.4 292 153.5 292.5 153.3 292.7 71.5 293.2 64 293.6 63.5 294.5 63.2 308.5 63.3 310.5 63.6 311.5 64.2 311.9 65 312.5 69.8M312.5 116.4 312.5 146M254 153.5 257 153.4 257.4 151 257.1 26M263.5 67.7 263.4 90.5 263.5 91.3 264.2 92 264.5 93 264.8 100.5 264.5 151 265 153.4 267.5 153.4 268 151 267.7 136 267.7 70.5 267.5 69.9 264.5 69.9 263.7 69M263.1 26 263.2 90.5 263.5 92.2 264.1 93.5 264.4 96.5 264.4 136 264.1 156.5 263.5 158.3 258.5 158.5 258 157.8 257.8 156 257.3 96.5 257.4 26M268.8 26 268.8 55 269 57.4 269.5 58.7 282.5 58.8 283 59.2 283.2 60.5 283 66.8 282.5 67.3 276.5 67.4 276.3 68.5 276.3 136 275.8 154.5 275.5 157.8 275 158.5 269.5 158.5 268.9 158 268.5 155.5 268 136 268.1 70 267.5 69.5 264.5 69.4 263.7 67 263.9 26M312.5 115.7 312.2 116.5 312.1 145.5 312.5 147.2M312.5 164.8 294 164.6 293.3 162.5 292.9 156.5 293 76 293.1 68 293.4 65 294 64 309 64 310.1 64.5 311.1 65.5 311.6 67 312 69.6 312.5 70.4M262.9 26 263 90.5 264 94.5 264.3 98.5 264.3 136 264 146.5 263.5 152.8 263 153.5 258.5 153.4 257.9 148 257.5 100.5 257.6 26M268.5 26 268.5 55 269.5 66.2 275.5 66.4 275.9 68.5 275.9 145 275.5 153.4 275 154.7 269.5 154.7 269 154 268.5 149.3 268.1 136 268.2 70 268 69.3 267.5 69.1 264.5 68.9 263.8 66.5 264.1 55 264.1 26M312.5 115.3 311.9 116.5 311.8 145.5 312.5 148.2M312.5 162.2 295 162.2 294 161.8 293.2 156.5 293 140 293.2 69 293.6 65.5 294 64.7 294.5 64.5 308.5 64.5 309.5 65 310.5 66 311.2 67.5 311.7 70 312.5 70.8M262.8 26 263 92.2 264 95.5 264.3 100.5 264.1 136 263.5 147.4 263 148.5 258.5 148.3 258 143.7 257.6 97 257.7 26M268.2 26 268.3 55 269 66.5 269.5 67 275.1 67 275.5 67.3 275.9 71 275.8 143 275.5 150.2 275 152.2 269.5 152.2 269 151.2 268.6 147.5 268.2 135.5 268.4 70 268 68.9 264.5 68.5 264 66 264.4 55 264.4 26M312.5 115 312 115.5 311.6 116.5 311.4 145.5 311.7 147.5 312.5 149.3M312.5 160.2 295 160.4 294 160 293.4 155.5 293.1 140 293.3 69.5 294 65.4 294.5 65.1 308.5 65.2 310.1 66.5 311.4 70 312.5 71.2M262.7 26 262.8 90.5 263 93.3 263.9 96.5 264.1 101 264 135.5 263.5 142 263 143.4 258.5 143.3 257.9 137 257.7 96 257.8 26M267.9 26 267.9 54.5 269 67.4 269.5 67.6 275 67.6 275.5 68.1 275.9 71.5 275.8 139 275.5 148.1 275 150.1 269.5 150.1 269 149.2 268.3 135.5 268.3 73.5 268.5 69.5 268 68.4 265 68.4 264.5 68 264.1 66 264.7 54.5 264.7 26M312.5 114.7 311.7 115.5 311.4 116.5 311.1 146 311.6 148.5 312.5 150.3M312.5 158.5 308.5 159.1 294.5 159.1 294 158.6 293.6 155.5 293.2 140 293.4 70 293.9 66.5 294.5 65.7 308.5 65.8 309.8 67 311.1 70 312.5 71.6M262.6 26 262.8 91 263 94.3 263.7 97 264 101.5 263.7 136 263.5 138.9 263 139.7 258.5 139.6 258 136 257.8 96 257.9 26M312.5 114.4 311.4 115.5 311.1 116.5 311.1 140.5 310.8 146 311.3 149 312.5 153M312.5 156.9 308.5 157.9 294.5 157.8 294 157.2 293.6 154 293.2 140 293.5 70 294 66.8 295 66.3 308.5 66.4 309.6 67.5 311 70.5 312.5 72M265 56.8 267.5 56.7 268 58.4 268.6 66 268.5 67.6 268 68 265 68 264.3 67 264.3 62.5M269 68.4 275 68.2 275.5 68.9 275.8 71.5 275.8 136.5 275.5 146 275 148.4 269.5 148.5 269 147.3 268.4 136 268.4 73.5M262.4 26 262.7 91 263.9 101.5 263.5 136 263 137.2 258.5 137.1 257.8 96 258.1 26M312.5 114.1 311.5 115 310.9 116.5 310.9 140.5 310.5 146 311.3 151.5 310.8 155.5 310.3 156 308.5 156.6 294.5 156.6 294 155.7 293.7 153 293.3 140 293.5 76 293.6 70 294 67.5 294.5 67 308.5 67 309.5 68.1 311 71 312.5 72.4M265 60 267.5 59.9 268 60.7 268.5 66 268 67.5 265 67.6 264.5 67.2 264.3 66 264.4 63M269.5 69 275 68.8 275.5 69.7 275.7 72 275.8 136 275.5 143.9 275 146.7 269.5 146.8 269 145.5 268.5 135.5 268.5 73.5 269 69.4M262.1 26 262.1 49.5 262.6 60 262.6 91 263 97 263.7 101.5 263.5 111.1 263 115.9 262 116.1 259 116.1 258.5 115.3 258 103.4 257.9 60 258.4 49.5 258.4 26M312.5 113.7 311.2 115 310.6 116.5 310.6 140.5 310.2 146 310.5 151 309.5 154.1 308.5 155.1 307 155.3 294.5 155.3 294 154.3 293.4 140 293.5 76 294 68.3 294.5 67.7 308.3 67.5 309 68 311 71.5 312.5 72.7M265 61.3 267.5 61.2 268 62 268.3 66 268 67.1 265 67.3 264.5 66.7 264.5 63M273 69.5 275 69.4 275.5 70.4 275.7 73 275.6 139 275 145 269.5 145.1 269 143.6 268.6 136 268.6 73 269 70.2 269.5 69.6M312.5 113.4 311.2 114.5 310.4 116 310.4 141 309.7 151 308.8 153 308 153.7 306 154.1 294.5 154.1 293.9 151.5 293.5 140 293.6 76 294 69.1 294.5 68.4 308 68 309 68.7 311 72 312.5 73.1M258.5 51.5 259.5 51.2 262 51.5 262.3 55 262.5 91.5 262.9 98.5 263.4 101.5 263 105.9 262.5 106.2 259 106.2 258.5 105.9 258.1 101.5 258 60M265 62.5 267.5 62.4 268 63.5 268 66.7 265.5 66.9 264.7 66.5 264.5 64.7M269.5 70.2 275 70 275.5 71 275.7 72.5 275.7 136 275 143.4 269.5 143.4 269 141.5 268.7 135.5 268.6 73.5 269 70.8M312.5 113.1 311 114.2 310.2 116 310.1 141 309.3 149.5 308.5 151.7 306 152.8 294.5 152.8 294 151 293.5 140 293.7 76.5 294 69.9 294.5 69 308 68.6 309 69.4 310.6 72 312.5 73.5M258.5 54 261.5 53.8 262 54 262.3 91 262.9 101 262.5 103 262 103.5 258.5 103.3 258.3 101 258.2 60.5M265 63.9 267.5 63.8 268 66.1 267.5 66.5 265 66.5 264.7 65.5M269.5 70.7 275 70.5 275.6 72.5 275.6 136 275 141.7 274.5 141.8 269.5 141.8 269 139.9 268.7 73.5 269 71.3M312.5 112.8 310.8 114 309.9 116 309.9 141 309 148 308.5 149.9 306 151.6 294.5 151.6 294 149.6 293.6 140 293.8 76 294.2 70.5 294.5 69.7 308 69.2 308.6 69.5 310.5 72.5 312.5 73.9M259.5 57.5 261.5 57.5 262 58 262.2 96.5 262 100.5 261.5 100.8 259 100.8 258.5 100 258.4 60 258.5 58 259 57.5M265 65.4 267.5 65.3 267.5 66 265 66M274 71 275 71 275.5 72.2 275.5 136 275 140.2 269.5 140.1 269 138 268.8 73 269 71.9 269.5 71.2M312.5 112.4 310.8 113.5 309.7 116 309.6 141 308.5 148.1 307.5 149.2 305.5 150.2 294.5 150.1 294 147.7 293.7 140 293.9 76 294.5 71.1 308 69.7 308.5 69.9 310.5 73 312.5 74.3M273.5 71.5 275 71.5 275.5 73.5 275.4 135.5 275 138.9 274.5 139.1 269.5 138.5 269 136 268.9 73 269.5 71.7M312.5 112.1 310.5 113.2 309.8 114.5 309.4 116 309.4 141 308.5 146.3 308 147.1 305.5 148.5 294.5 148.4 294 145.9 293.8 140 293.8 116 294.3 91 294 76.5 294.5 73 305.5 70.6 308 70.5 308.5 70.8 310.4 73.5 312.5 74.6M273 72 275 71.9 275.4 73.5 275.2 135.5 275 137.7 274.5 137.8 269.5 136.9 269.3 135.5 269 73.5 269.5 72.2M299.5 91.4 298.5 92 297.8 93 297.1 96 298.5 98 300 99.1 302.3 96 300.5 92.1 300 91.4M312.5 111.8 311 112.2 310.1 113 309.2 115.5 309.1 141 308.5 144.6 308 145.5 305.5 146.8 294.5 146.7 294 144.5 293.8 140 293.8 116 294.5 98 297.5 101.5 299.3 103 300 103.3 303.3 98.5 304.7 96 302.3 91 300 89.6 296 88.8 295 88.1 294.7 87.5 294.3 81 294.5 74.9 298 73.5 305.5 71.6 307.5 71.5 308.5 71.8 310.5 74.1 312.5 75M272.5 72.5 275 72.4 275.2 73.5 275 136.3 274.5 136.4 272.6 136 272.1 135.5 272.1 96.5 271.8 95.5 270 92.9 269.5 91.5 269.4 73M312.5 111.5 310 112.2 309.4 113 309 115 308.8 140.5 308.5 142.9 308 143.9 306.5 145.1 305.5 145.4 294.5 145.3 294 143.1 293.9 116 294.5 106.3 300 107.2 301.9 106 305.9 98.5 306.6 96 306 93.6 304.7 91 301 88.7 298 87.3 296.5 86 295.5 81 295.5 76.5 296 75.8 298 74.8 306 72.5 308.5 72.7 310.3 74.5 312.5 75.4M274 73 275 73 275 78.8 274.5 79.5 272.4 76.5 272.1 75.5 272.2 73.5M312.5 81.6 311.5 86.5 311.9 89.5 312.5 90.8M312.5 111.1 309.5 111.6 309 112.2 308.7 113.5 308.5 140.5 308 142.4 306.5 143.8 305.5 144.1 294.5 144 294 140 294 116 294.5 109.6 295 109.4 300.5 109.7 303 109 304.7 108 305.8 106.5 306.6 104.5 307.8 96.5 307.2 91 299 86 298.5 81 298.5 76.5 298.8 76 300.9 75 306 73.5 308.5 73.7 310.1 75 312.5 75.9M305.5 74.4 308.5 74.6 311 76 311.4 76.5 309.4 86.5 308.7 88 308 88.5 306 88.4 301.7 86 301.4 85.5 301 81 301.2 76.5 301.4 76 302.4 75.5M294.5 112.5 306 112.3 306.9 113 307.5 114 307.9 116.5 307.9 140.5 307.4 141.5 306 142.8 294.5 142.8 294.1 140 294.1 116.5M305 75.5 306 75.2 308 75.4 309.2 76 309.4 76.5 307.5 85.3 307 86.2 306 86.7 304.3 85.5 303 81 303.5 76.5 303.9 76M294.5 115 295 114.8 305.5 114.8 306 114.9 306.5 115.8 306.6 140.5 306 141.5 294.5 141.5M306 76.8 306.5 77.7 306.8 80.5 306.5 82 306 83 305.1 81" fill="none" stroke="#000" stroke-width="1.0" stroke-linejoin="round" shape-rendering="crispEdges"/>
</g>
</g>
<path d="M547.5 215.5h6M816.5 215.5h-6M547.5 211.5h3M816.5 211.5h-3M547.5 208.5h3M816.5 208.5h-3M547.5 205.5h3M816.5 205.5h-3M547.5 202.5h3M816.5 202.5h-3M547.5 199.5h3M816.5 199.5h-3M547.5 196.5h3M816.5 196.5h-3M547.5 192.5h3M816.5 192.5h-3M547.5 189.5h3M816.5 189.5h-3M547.5 186.5h3M816.5 186.5h-3M547.5 183.5h6M816.5 183.5h-6M547.5 180.5h3M816.5 180.5h-3M547.5 177.5h3M816.5 177.5h-3M547.5 174.5h3M816.5 174.5h-3M547.5 170.5h3M816.5 170.5h-3M547.5 167.5h3M816.5 167.5h-3M547.5 164.5h3M816.5 164.5h-3M547.5 161.5h3M816.5 161.5h-3M547.5 158.5h3M816.5 158.5h-3M547.5 155.5h3M816.5 155.5h-3M547.5 152.5h6M816.5 152.5h-6M547.5 148.5h3M816.5 148.5h-3M547.5 145.5h3M816.5 145.5h-3M547.5 142.5h3M816.5 142.5h-3M547.5 139.5h3M816.5 139.5h-3M547.5 136.5h3M816.5 136.5h-3M547.5 133.5h3M816.5 133.5h-3M547.5 129.5h3M816.5 129.5h-3M547.5 126.5h3M816.5 126.5h-3M547.5 123.5h3M816.5 123.5h-3M547.5 120.5h6M816.5 120.5h-6M547.5 117.5h3M816.5 117.5h-3M547.5 114.5h3M816.5 114.5h-3M547.5 111.5h3M816.5 111.5h-3M547.5 107.5h3M816.5 107.5h-3M547.5 104.5h3M816.5 104.5h-3M547.5 101.5h3M816.5 101.5h-3M547.5 98.5h3M816.5 98.5h-3M547.5 95.5h3M816.5 95.5h-3M547.5 92.5h3M816.5 92.5h-3M547.5 89.5h6M816.5 89.5h-6M547.5 85.5h3M816.5 85.5h-3M547.5 82.5h3M816.5 82.5h-3M547.5 79.5h3M816.5 79.5h-3M547.5 76.5h3M816.5 76.5h-3M547.5 73.5h3M816.5 73.5h-3M547.5 70.5h3M816.5 70.5h-3M547.5 66.5h3M816.5 66.5h-3M547.5 63.5h3M816.5 63.5h-3M547.5 60.5h3M816.5 60.5h-3M547.5 57.5h6M816.5 57.5h-6M547.5 54.5h3M816.5 54.5h-3M547.5 51.5h3M816.5 51.5h-3M547.5 48.5h3M816.5 48.5h-3M547.5 44.5h3M816.5 44.5h-3M547.5 41.5h3M816.5 41.5h-3M547.5 38.5h3M816.5 38.5h-3M547.5 35.5h3M816.5 35.5h-3M547.5 32.5h3M816.5 32.5h-3M547.5 29.5h3M816.5 29.5h-3M547.5 26.5h6M816.5 26.5h-6M614.5 26.5v4M614.5 215.5v-4M682.5 26.5v4M682.5 215.5v-4M749.5 26.5v4M749.5 215.5v-4" stroke="#000" stroke-width="1" fill="none"/>
<rect x="547.5" y="26.5" width="269" height="189" fill="none" stroke="#000" stroke-width="1"/>
<text transform="translate(589,20) scale(1,1.22)">Inverted</text><text transform="translate(643,20) scale(1,1.22)">Winds</text><text transform="translate(679,20) scale(1,1.22)">Zonal</text><text transform="translate(715,20) scale(1,1.22)">(coldside)</text>
<text class="d" transform="translate(0,215) scale(1,1.13)" x="534 540" text-anchor="middle">60</text>
<text class="d" transform="translate(0,188) scale(1,1.13)" x="534 540" text-anchor="middle">70</text>
<text class="d" transform="translate(0,156) scale(1,1.13)" x="534 540" text-anchor="middle">80</text>
<text class="d" transform="translate(0,124) scale(1,1.13)" x="534 540" text-anchor="middle">90</text>
<text class="d" transform="translate(0,93) scale(1,1.13)" x="528 534 540" text-anchor="middle">100</text>
<text class="d" transform="translate(0,62) scale(1,1.13)" x="528 534 540" text-anchor="middle">110</text>
<text class="d" transform="translate(0,33) scale(1,1.13)" x="528 534 540" text-anchor="middle">120</text>
<text transform="translate(537.75,230) scale(1,1.22)">−</text><text class="d" transform="translate(0,230) scale(1,1.13)" x="546.75 552.75" text-anchor="middle">90</text>
<text class="d" transform="translate(0,230) scale(1,1.13)" x="613.75" text-anchor="middle">0</text>
<text class="d" transform="translate(0,230) scale(1,1.13)" x="678.25 684.25" text-anchor="middle">90</text>
<text class="d" transform="translate(0,230) scale(1,1.13)" x="748.75" text-anchor="middle">0</text>
<text transform="translate(806.75,230) scale(1,1.22)">−</text><text class="d" transform="translate(0,230) scale(1,1.13)" x="815.75 821.75" text-anchor="middle">90</text>
<text transform="translate(655,243) scale(1,1.22)">Lat</text><text transform="translate(679,243) scale(1,1.22)">(deg)</text>
<text transform="translate(513.8,54.7) scale(1,1.22)">A</text>
<text transform="translate(513.8,64.7) scale(1,1.22)">l</text>
<text transform="translate(513.8,74.7) scale(1,1.22)">t</text>
<text transform="translate(513.8,84.7) scale(1,1.22)">i</text>
<text transform="translate(513.8,94.7) scale(1,1.22)">t</text>
<text transform="translate(513.8,104.7) scale(1,1.22)">u</text>
<text transform="translate(513.8,114.7) scale(1,1.22)">d</text>
<text transform="translate(513.8,124.7) scale(1,1.22)">e</text>
<text transform="translate(513.8,142.89999999999998) scale(1,1.22)">(</text>
<text transform="translate(513.8,154.7) scale(1,1.22)">k</text>
<text transform="translate(513.8,164.7) scale(1,1.22)">m</text>
<text transform="translate(513.8,172.89999999999998) scale(1,1.22)">)</text>
<rect x="845" y="205.60" width="28" height="9.70" fill="#2a0040"/>
<rect x="845" y="196.20" width="28" height="9.70" fill="#4c008c"/>
<rect x="845" y="186.80" width="28" height="9.70" fill="#1616b0"/>
<rect x="845" y="177.40" width="28" height="9.70" fill="#1030e8"/>
<rect x="845" y="168.00" width="28" height="9.70" fill="#1e6cf0"/>
<rect x="845" y="158.60" width="28" height="9.70" fill="#20a8f0"/>
<rect x="845" y="149.20" width="28" height="9.70" fill="#20d0e0"/>
<rect x="845" y="139.80" width="28" height="9.70" fill="#20ecb0"/>
<rect x="845" y="130.40" width="28" height="9.70" fill="#3cf078"/>
<rect x="845" y="121.00" width="28" height="9.70" fill="#80f028"/>
<rect x="845" y="111.60" width="28" height="9.70" fill="#c0f818"/>
<rect x="845" y="102.20" width="28" height="9.70" fill="#ffee00"/>
<rect x="845" y="92.80" width="28" height="9.70" fill="#ffc60a"/>
<rect x="845" y="83.40" width="28" height="9.70" fill="#ffa010"/>
<rect x="845" y="74.00" width="28" height="9.70" fill="#e87828"/>
<rect x="845" y="64.60" width="28" height="9.70" fill="#c85048"/>
<rect x="845" y="55.20" width="28" height="9.70" fill="#e02060"/>
<rect x="845" y="45.80" width="28" height="9.70" fill="#ff0060"/>
<rect x="845" y="36.40" width="28" height="9.70" fill="#ff30b0"/>
<rect x="845" y="27.00" width="28" height="9.70" fill="#ff60ff"/>
<rect x="845.5" y="27.5" width="28" height="188" fill="none" stroke="#000" stroke-width="1"/>
<path d="M873.5 191.5h-7M873.5 168.5h-7M873.5 144.5h-7M873.5 121.5h-7M873.5 97.5h-7M873.5 74.5h-7M873.5 50.5h-7" stroke="#000" stroke-width="1" fill="none"/>
<text transform="translate(879,216.5) scale(1,1.22)">−</text><text class="d" transform="translate(0,216.5) scale(1,1.13)" x="888 894 900" text-anchor="middle">200</text><text transform="translate(903,216.5) scale(1,1.22)">.</text><text class="d" transform="translate(0,216.5) scale(1,1.13)" x="912" text-anchor="middle">0</text>
<text transform="translate(879,193) scale(1,1.22)">−</text><text class="d" transform="translate(0,193) scale(1,1.13)" x="888 894 900" text-anchor="middle">150</text><text transform="translate(903,193) scale(1,1.22)">.</text><text class="d" transform="translate(0,193) scale(1,1.13)" x="912" text-anchor="middle">0</text>
<text transform="translate(879,170) scale(1,1.22)">−</text><text class="d" transform="translate(0,170) scale(1,1.13)" x="888 894 900" text-anchor="middle">100</text><text transform="translate(903,170) scale(1,1.22)">.</text><text class="d" transform="translate(0,170) scale(1,1.13)" x="912" text-anchor="middle">0</text>
<text transform="translate(885,146) scale(1,1.22)">−</text><text class="d" transform="translate(0,146) scale(1,1.13)" x="894 900" text-anchor="middle">50</text><text transform="translate(903,146) scale(1,1.22)">.</text><text class="d" transform="translate(0,146) scale(1,1.13)" x="912" text-anchor="middle">0</text>
<text class="d" transform="translate(0,123) scale(1,1.13)" x="900" text-anchor="middle">0</text><text transform="translate(903,123) scale(1,1.22)">.</text><text class="d" transform="translate(0,123) scale(1,1.13)" x="912" text-anchor="middle">0</text>
<text class="d" transform="translate(0,99) scale(1,1.13)" x="894 900" text-anchor="middle">50</text><text transform="translate(903,99) scale(1,1.22)">.</text><text class="d" transform="translate(0,99) scale(1,1.13)" x="912" text-anchor="middle">0</text>
<text class="d" transform="translate(0,76) scale(1,1.13)" x="888 894 900" text-anchor="middle">100</text><text transform="translate(903,76) scale(1,1.22)">.</text><text class="d" transform="translate(0,76) scale(1,1.13)" x="912" text-anchor="middle">0</text>
<text class="d" transform="translate(0,52) scale(1,1.13)" x="888 894 900" text-anchor="middle">150</text><text transform="translate(903,52) scale(1,1.22)">.</text><text class="d" transform="translate(0,52) scale(1,1.13)" x="912" text-anchor="middle">0</text>
<text class="d" transform="translate(0,29) scale(1,1.13)" x="888 894 900" text-anchor="middle">200</text><text transform="translate(903,29) scale(1,1.22)">.</text><text class="d" transform="translate(0,29) scale(1,1.13)" x="912" text-anchor="middle">0</text>
<rect x="67.5" y="296.5" width="269" height="189" fill="#fff" stroke="#000" stroke-width="1"/>
<g transform="translate(0,270)">
<clipPath id="p3a"><polygon points="68,61.5 70,58.5 133,58.5 133,26.5 178,26.5 178,158.8 134.5,159 134.5,166.5 112,166.5 84,164.5 77,161 70,158.5 68,156"/></clipPath>
<g clip-path="url(#p3a)">
<path d="M103 26 137.5 26 137.3 44.5 136.9 55 136.5 58.3 135.5 59.9 134 60.7 132.5 60.8 131 60.5 129.5 59.5 128.7 58 127 50.4 123 41.3 121.5 40.3 117 40.6 115.5 40.3 113.9 39.5 111.7 37 108.4 30.5 106.9 29 103.1 26.5 102.7 26Z" fill="#2a0040" stroke="#2a0040" stroke-width="0.6" fill-rule="evenodd"/>
<path d="M67.5 26 102.7 26 108 30.1 109.3 32 112 37.5 113.9 39.5 116.5 40.6 121.5 40.3 122.7 41 127 50.4 129 58.8 130.5 60.2 133 60.8 134.5 60.5 135.5 59.9 136.2 59 136.7 57.5 137.3 45 137.5 26 138.6 26 138.2 32 137.9 58.5 137.4 60.5 136.7 61.5 135.5 62.3 134 62.9 132 63.1 123 61.6 113.5 62.3 67 62.2 67 26ZM121.9 53 121.7 54 122 54.8 123 55.3 123.5 55.1 123.7 54.5 123.5 53.5 122.5 52.8ZM169 26 177 26 177 28.8ZM67.5 156.1 71.5 156.8 80.5 159.4 86.5 160.6 92.5 161.2 103 161.8 115 164.2 124.5 164.8 130.5 164.5 135.5 163.5 141 161.5 146.9 158.5 149 157.9 151.5 157.7 159 158.3 164 158.2 169.5 157.6 177 156.2 177 166 67 166 67 156.1Z" fill="#4c008c" stroke="#4c008c" stroke-width="0.6" fill-rule="evenodd"/>
<path d="M139 26 139.6 26 139.1 31.5 138.5 52.5 139 60 138 62.4 136 64 133.5 64.9 131 65.2 123 64.7 67 64.9 67 62.2 113.5 62.3 123 61.6 132 63.1 134 62.9 135.5 62.3 137.1 61 137.8 59 138.3 31 138.6 26ZM159.5 26 168.8 26 177 28.8 177 42.1 174.5 36.9 173 35.1 171.4 34 166 31.5 163 29.7 160.3 27.5 159.2 26ZM122 52.9 123 52.9 123.5 53.5 123.7 54.5 123.5 55.1 123 55.3 122 54.8 121.7 54ZM67.5 152.9 72.5 153.3 86 155.9 98 156.1 102 156.5 106 157.5 115.5 161 119 161.7 123 162.1 127 161.9 130.5 161.2 138.4 157.5 146.5 154.4 149 153.8 151.5 153.7 159 154.5 164.5 154.5 170 154.1 177 152.9 177 156.2 169.5 157.6 164 158.2 159 158.3 151.5 157.7 149 157.9 146.5 158.7 140 161.9 135 163.7 129.5 164.6 122.5 164.8 114.5 164.1 103.5 161.8 90.5 161 82.5 159.8 72 156.9 67 156.1 67 152.9Z" fill="#1616b0" stroke="#1616b0" stroke-width="0.6" fill-rule="evenodd"/>
<path d="M140 26 140.7 26 139.8 32 139.1 53 140.1 60.5 139.7 62 139 63.2 137.5 64.7 136 65.7 133.5 66.6 130 67 67 67 67 64.9 123 64.7 131 65.2 133.5 64.9 136 64 138 62.4 139 60 138.5 53 139 32.5 139.6 26ZM156 26 159.2 26 160.5 27.7 163 29.7 166 31.5 171.5 34 173.5 35.6 174.8 37.5 177 42.1 177 47.6 175.5 46.5 171.5 42.3 165 39 162.5 37 156.6 29.5 155.7 27 155.6 26ZM67.5 150.1 73 150.4 86 152.6 97 152.4 101 152.7 105.8 154 116 158.3 119.5 159.1 122.5 159.4 125.5 159.3 128.5 158.6 137 154.2 148.5 150.8 151.5 150.7 159.5 151.5 164.5 151.6 170.5 151.2 177 150.1 177 152.9 170 154.1 164.5 154.5 159 154.5 151.5 153.7 148.5 153.9 146.2 154.5 138.4 157.5 130.5 161.2 127 161.9 123.5 162.1 119.5 161.8 115.5 161 106 157.5 102 156.5 98 156.1 86 155.9 72.5 153.3 67 152.9 67 150.1Z" fill="#1030e8" stroke="#1030e8" stroke-width="0.6" fill-rule="evenodd"/>
<path d="M141 26 141.8 26 141 29.1 140.6 32.5 139.7 52.5 139.9 55.5 141 59.5 141.1 61 140.7 62.5 139.9 64 138.5 65.6 136.5 67.1 132.5 68.5 126.5 69 67 69 67 67 130 67 133.5 66.6 136.5 65.4 139 63.2 140 61 140 59.5 139.2 55 139.1 51.5 139.9 31 140.7 26ZM153 26 155.6 26 155.9 28 157 30.1 160.5 34.7 163 37.5 165.5 39.3 171.5 42.3 175.5 46.5 177 47.6 177 51.1 174 50 169.5 47.2 165 44.9 161.5 42.3 159.5 39.8 153.3 30.5 152.5 28 152.6 26ZM67.5 147.4 73 147.8 85.5 149.7 96.5 149.5 101 149.9 106 151.3 116 155.7 119 156.4 122 156.7 124.5 156.6 127 156 136.5 151.2 148.5 148.2 151.5 148.1 160 148.8 165 148.9 170.5 148.5 177 147.5 177 150.1 170.5 151.2 165 151.6 159.5 151.5 151.5 150.7 148 150.9 137 154.2 128.5 158.6 125.5 159.3 122.5 159.4 119.5 159.1 116 158.3 105.8 154 101 152.7 97 152.4 86 152.6 73 150.4 67 150.1 67 147.4Z" fill="#1e6cf0" stroke="#1e6cf0" stroke-width="0.6" fill-rule="evenodd"/>
<path d="M142 26 143.4 26 142 29.5 141.5 32.2 140.3 52.5 140.6 55.5 141.8 59.5 142 61.5 141.5 63.3 140.5 65 139 66.8 137 68.4 135 69.3 132 70.2 125 71.1 67 71 67 69 126.5 69 132.5 68.5 136.5 67.1 139.5 64.5 140.5 63 141 61.5 141 59.5 139.9 55 139.8 51.5 140.6 32 141.1 28.5ZM149.5 26 152.6 26 152.6 28.5 153.3 30.5 159.5 39.8 161.5 42.3 165 44.9 169.5 47.2 174 50 177 51.1 177 54.3 174 53.8 171 52.6 163 47.5 160.5 45.4 158.5 42.8 154.7 36.5 150 30.5 149.1 28ZM67.5 144.6 85 147.1 96.5 147.1 101.5 147.6 106.5 149 116 153.3 121 154.1 124 153.9 126.5 153.3 134.1 149.5 137 148.4 148.5 145.8 164.5 146.1 170 145.7 177 144.6 177 147.5 170.5 148.5 165 148.9 160 148.8 151.5 148.1 147.5 148.4 136.5 151.2 127 156 124.5 156.6 122 156.7 119 156.4 116 155.7 106 151.3 101 149.9 96.5 149.5 85.5 149.7 72.5 147.8 67 147.4 67 144.6Z" fill="#20a8f0" stroke="#20a8f0" stroke-width="0.6" fill-rule="evenodd"/>
<path d="M143.5 26 149.4 26 149.2 28.5 150 30.5 154.7 36.5 160 44.9 163 47.5 170.8 52.5 174 53.8 177 54.3 177 57.8 172 56.6 169.4 55.5 161 49 158 45.8 154.5 39.5 152.5 36.8 146 29.9 145 29.3 144.5 29.4 143.4 30.5 142.4 33.5 141 51 141.2 55 142.8 60 142.7 62.5 142 64.6 140.5 67 139 68.7 137.2 70 131 72.3 124.5 73.3 114 73.1 67 73.1 67 71 125 71.1 132 70.2 135 69.3 137 68.4 139 66.8 140.5 65 141.5 63.3 142 61.5 141.8 59.5 140.5 55 140.4 51 141.5 32.2 142.2 29ZM67.3 141.5 72.9 143 82 144.4 87 144.8 97 145 102 145.6 106.9 147 115.5 150.8 118 151.5 120.5 151.7 123 151.6 126 150.8 137 146.1 148.5 143.5 163.5 143.2 177 141.4 177 144.6 165 146.1 151.5 145.7 147.5 146 136 148.7 126 153.4 123.5 154 121 154.1 116 153.3 106.5 149 101.5 147.6 96.5 147.1 85 147.1 67 144.6 67 141.4Z" fill="#20d0e0" stroke="#20d0e0" stroke-width="0.6" fill-rule="evenodd"/>
<path d="M144.5 29.4 145 29.3 146 29.9 152.5 36.8 154.5 39.5 158 45.8 161 49 169.4 55.5 172 56.6 177 57.8 177 61.6 173.5 60 167.9 58.5 165.5 57.1 157.6 48.5 153.5 41 151.5 38.3 147.5 35 146 34 145 33.8 144 34.6 143.2 37 141.7 51 141.9 55 143.6 60 143.5 63 142.5 66 141 68.7 139.5 70.3 137.5 71.7 130.5 74.3 125 75.2 67 75.1 67 73.1 125.5 73.3 132 72 137.5 69.8 139.5 68.2 141 66.3 142.3 64 142.8 62 142.7 59.5 141.1 54.5 141 51 142.4 33.5 143.4 30.5ZM121 98 123 97.6 124.5 98 125.2 99 125.2 101 124.1 104 122.5 106.2 120.7 107.5 119 107.6 118 107.1 117.3 106 117 104.5 117.1 103 118.5 99.9ZM176.5 137.9 177 137.9 177 141.4 164 143.2 151 143.4 147 143.8 136.5 146.2 126.5 150.7 124 151.4 121.5 151.7 118.5 151.6 116 151 106.9 147 102 145.6 97 145 87 144.8 81.5 144.3 72.5 142.9 67 141.4 67 138.1 71.5 140.1 76.5 141.3 84.5 142.2 97.5 143.1 103 143.9 107.5 145.2 116 148.8 118.5 149.4 121 149.5 125.5 148.6 136.5 144.1 146.5 141.6 150.5 141 161.5 140.3Z" fill="#20ecb0" stroke="#20ecb0" stroke-width="0.6" fill-rule="evenodd"/>
<path d="M145 33.8 146 34 147.5 35 151.5 38.3 153.5 41 157.6 48.5 165.5 57.1 167.9 58.5 173.5 60 177 61.6 177 65.6 172.5 62.8 164.5 60.6 162 59.2 161.1 58 159.5 54.5 156 49.5 153.1 43.5 151.6 41 149 38.5 147.5 37.7 146 37.5 145 38 144 40.4 142.4 50.5 142.7 54.5 144.5 60 144.3 64 143.2 67.5 142 70 140.5 71.8 138 73.4 131.5 75.9 125.5 76.8 67 76.7 67 75.1 125.5 75.2 131 74.2 137.8 71.5 139.5 70.3 141 68.7 142.5 66 143.5 63 143.6 60 141.9 55 141.7 51 143.2 37 144 34.6ZM121 94 124.5 93.5 127.5 94.1 128.7 95 129.4 96 129.7 98.5 128 103.7 124.9 109.5 123.5 111 122 111.9 120.5 112.4 118.5 112.4 116.3 111.5 114.7 109.5 113.8 106.5 113.8 103 114.7 99.5 116.2 97 118.5 95ZM121 98 118.5 99.9 117.1 103 117 104.5 117.3 106 118 107.1 119 107.6 120.7 107.5 122.5 106.2 124.1 104 125.2 101 125.2 99 124.5 98 123 97.6ZM175.5 134.4 177 134.1 177 137.9 161.5 140.3 150.5 141 146.5 141.6 136.5 144.1 125.5 148.6 121 149.5 118.5 149.4 116 148.8 107.5 145.2 103 143.9 97.5 143.1 84.5 142.2 76.5 141.3 71.5 140.1 67 138.1 67 134.5 71.5 137.2 75.2 138.5 80 139.3 102 141.8 107 143.1 116 146.7 120.5 147.3 123 147.1 126 146.3 137 141.9 146 139.2 160.5 137.2Z" fill="#3cf078" stroke="#3cf078" stroke-width="0.6" fill-rule="evenodd"/>
<path d="M146 37.5 147.5 37.7 149 38.5 151.9 41.5 156 49.5 159.8 55 161.8 59 164.1 60.5 172.5 62.8 177 65.6 177 70.4 174 67.2 171.6 65.5 168.5 64.2 161.5 62 159.1 60.5 158 59 156.8 55.5 154.4 51 151.5 43.9 149.5 41.5 148 40.6 147 40.5 146 40.9 145 42.5 143.4 50 143.5 53.7 145.2 58.5 145.5 60.5 145.3 64 144.4 68.5 143.6 71 142.5 72.6 141 74 138.5 75.4 132.5 77.5 126 78.3 67 78.3 67 76.7 126 76.8 131.5 75.9 138 73.4 140.5 71.8 142 70 143.2 67.5 144.3 64 144.5 60 142.7 54.5 142.4 50.5 144 40.4 145 38ZM121.5 91 127 90.8 130.5 91.5 131.9 92.5 132.6 93.5 133.1 95 133.1 97 132.4 100 128.7 109.5 126.8 113 125.3 114.5 123.5 115.5 121 116.2 118.5 116.2 116.5 115.8 115 115.1 113.5 113.8 112.5 112.4 111.8 110.5 111.3 108 111.3 102.5 112.4 97.5 114.2 94 115.5 92.9 117 92.1ZM120.9 94 118 95.3 116.2 97 114.7 99.5 113.8 103 113.8 106.5 114.7 109.5 116.3 111.5 118.5 112.4 120.5 112.4 122 111.9 123.5 111 124.9 109.5 128 103.7 129.7 98.5 129.4 96 128.7 95 127.5 94.1 124.5 93.5ZM176.5 129.9 177 129.7 177 134.1 160.5 137.2 146 139.2 137 141.9 126 146.3 121 147.3 118.5 147.2 116 146.7 107 143.1 102 141.8 80 139.3 75.5 138.6 71.5 137.2 67 134.5 67 130.8 69 131.5 74 134.8 77.3 136 102 139.8 107 141.2 116 144.7 118.5 145.2 121 145.3 124 144.9 127.5 143.9 142 137.7 148 135.6 153 134.5 170 132 173.5 131.1Z" fill="#80f028" stroke="#80f028" stroke-width="0.6" fill-rule="evenodd"/>
<path d="M147 40.5 148 40.6 149.5 41.5 151.5 43.9 154.4 51 156.8 55.5 158 59 159 60.4 161.5 62 169.5 64.5 173.2 66.5 177 70.4 177 73.8 175.5 72.7 172.1 69 170 67.5 166.9 66 159.9 63.5 157 61.5 155.9 60 152.4 53.5 150.8 47.5 150 45.5 149 44.3 147.5 43.8 146.5 44.5 145.9 45.5 144.8 50.5 144.9 53 146.1 57 146.5 59.5 146.4 65 145.8 71 145 73.1 143.5 75.1 141.5 76.7 139 78.1 135 79.4 129.5 80 67 80 67 78.3 127.5 78.2 133.5 77.3 139 75.1 141 74 142.6 72.5 143.8 70.5 144.5 68 145.4 63.5 145.5 60.5 145.2 58.5 143.5 53.7 143.4 50 145 42.5 146 40.9ZM130.5 87.5 133.5 87.8 135.3 89 136.6 91.5 137.1 94.5 136.4 98 132.9 106 131.4 113 130.5 115.5 129.4 117 127.5 118.5 123.5 119.9 120.5 120.1 117.5 119.9 114.5 119.3 112.5 118.5 111 117.4 109.7 115.5 109 113.5 108.6 110.5 108.5 105 109.3 93 110 90.1 111.2 89 113.5 88.4ZM121.3 91 117 92.1 115.5 92.9 114.2 94 112.4 97.5 111.3 102.5 111.3 108 111.8 110.5 112.5 112.4 113.5 113.8 115 115.1 116.5 115.8 118.5 116.2 121 116.2 123.5 115.5 125.3 114.5 126.8 113 128.7 109.5 132.4 100 133.1 97 133.1 95 132.6 93.5 131.9 92.5 130.5 91.5 127 90.8ZM177 102.1 177 129.7 173.5 131.1 170 132 153 134.5 148 135.6 143 137.3 129.5 143.1 125 144.7 121 145.3 117.5 145.1 114.5 144.2 107 141.2 102.5 139.9 92.5 138.2 78 136.2 74.5 135 69 131.5 67 130.8 67 125.6 69.5 124.3 71 124.1 72.5 125.3 76.1 130.5 78 132 80.1 133 84 133.9 92.5 134.9 96.5 135.7 105.5 138.4 114.1 142 117.5 143 121.5 143.3 125.5 142.6 130.5 140.8 137.7 137 142.5 134 147.5 130 149.5 128.9 152 128.5 159.5 129.1 165 128.9 169.8 128 172.7 126.5 174 125 174.6 123.5 174.7 121.5 174 117.2 174 115 176 105.5Z" fill="#c0f818" stroke="#c0f818" stroke-width="0.6" fill-rule="evenodd"/>
<path d="M147.5 43.8 149 44.3 150 45.5 150.8 47.5 152.4 53.5 155.9 60 157 61.5 159.9 63.5 166.9 66 170 67.5 172.1 69 175.5 72.7 177 73.8 177 84.7 175.7 82 174.3 77 169.8 71 166.1 68.5 157.5 64.7 155.4 63 152.5 59 151.5 58 150 57.4 149 57.7 148.3 59 148 61 148 64.5 148.6 70.5 148.1 73.5 146 77.7 144.5 79.4 140.9 82.5 140 84.5 140 87 140.9 94.5 140.9 98.5 140 101.8 137.5 105.5 136.9 107 136.6 109.5 137.1 115.5 136.1 118.5 134.9 120 133 121.5 130.5 122.8 128 123.6 124 124 113 124 109 124.7 107 126 105 128.4 103.9 130.5 103.8 132.5 104.6 134 106.4 135.5 114.5 139.9 119 141.1 124 141 127 140.2 129.8 139 135.2 135.5 138.8 132 143 125.2 145 123.5 148.5 122.6 159.5 123 162 122.7 163.5 122.2 165.2 120.5 167.5 115 172.5 106.6 177 93.2 177 102.1 176 105.5 174 115 174.7 123 174.3 124.5 173.3 126 172 127 170 127.9 165.5 128.9 160 129.1 152 128.5 149.5 128.9 147.5 130 140.2 135.5 132.2 140 126 142.5 120.5 143.3 118 143.1 115.5 142.5 106 138.6 96.5 135.7 92.5 134.9 84 133.9 80.5 133.1 78 132 76.1 130.5 72.5 125.3 71.5 124.3 70 124.1 67 125.6 67 80 129.5 80 135 79.4 139 78.1 141.5 76.7 143.5 75.1 145 73.1 145.8 71 146.4 65 146.5 59.5 146.1 57 144.9 53 144.8 50.5 145.9 45.5 146.5 44.5ZM72.3 83 70.7 83.5 69.9 84.5 69.8 93.5 70.2 96 71 97.4 72 98.3 77.3 101 79.5 102.7 81.1 105 82 108 82.4 111 82.2 113.5 80 122 80 124 80.5 126 81.8 128 84 129.4 86.5 129.9 89 129.5 91.1 128 94.6 122.5 96.5 120.9 101.5 118.2 102.6 117 103.5 115 104.5 109 104.7 101 104.3 97.5 102.2 90 102.1 84.5 101.5 83.6 100.5 83.2 96 82.6 77.5 82.6ZM130.3 87.5 113.5 88.4 111.2 89 110 90.1 109.3 93 108.5 105 108.6 110.5 109 113.5 109.7 115.5 111 117.4 112.5 118.5 114.5 119.3 117.5 119.9 120.5 120.1 123.5 119.9 127.5 118.5 129.4 117 130.5 115.5 131.4 113 132.9 106 136.4 98 137.1 94.5 136.4 91 135 88.7 133 87.6Z" fill="#ffee00" stroke="#ffee00" stroke-width="0.6" fill-rule="evenodd"/>
<path d="M149.5 57.4 150.5 57.5 152 58.4 155 62.6 157 64.4 166.1 68.5 169.3 70.5 171.2 72.5 174.3 77 175.7 82 177 84.7 177 93.2 172.7 106 171 109.4 167.5 115 165.2 120.5 163.8 122 162 122.7 160 123 150 122.6 146 123.1 144.5 123.8 143.2 125 139.9 130.5 137.4 133.5 134.6 136 130.8 138.5 126.5 140.4 122.5 141.2 118.5 141.1 114.5 139.9 108.9 137 105.1 134.5 103.8 132.5 103.7 131.5 104.1 130 106.5 126.5 109 124.7 113 124 124 124 128 123.6 130.5 122.8 133 121.5 134.9 120 136.1 118.5 137.1 115.5 136.6 109.5 136.9 107 137.5 105.5 140 101.8 140.9 98.5 140.9 94.5 140 87 140 84.4 140.9 82.5 145.8 78 147.9 74 148.6 70.5 148 64.5 148 60.5 148.5 58.4ZM156.6 71 154.5 72.4 152.8 75 152 77.5 151.2 82 150.6 83.5 149.6 84.5 146.5 86.3 145.1 87.5 144.2 89 143.8 91 143.6 95 143.8 100 145.8 113.5 146.4 115 147.3 116 148.5 116.7 150 117.1 154 117.1 157 115.9 159.3 114 165.5 107.5 168.5 103.8 171.5 99 173.5 94.7 174.5 91 174.5 87.5 173.5 84.7 165.5 73.8 163.9 72.5 161.7 71.5 159 70.9ZM119.3 128 116.5 128.4 114 129.2 112.3 130.5 111.5 132 111.6 133.5 113 135.5 115 137 117.5 138.2 119.5 138.7 122 138.8 126.5 137.9 128.5 136.9 130.4 135.5 131.7 134 132.5 132.5 132.7 131 132.3 130 130.5 128.8 125.5 128.1ZM72.5 83 78 82.6 96 82.6 100.5 83.2 101.5 83.6 102.1 84.5 102.2 90 104.3 97.5 104.7 101 104.5 109 103.5 115 102.6 117 101.5 118.2 96.5 120.9 94.6 122.5 91.1 128 89 129.5 86.5 129.9 84 129.4 81.8 128 80.5 126 80 124 80 122 82.2 113.5 82.4 111 82 108 81.1 105 79.5 102.7 77.3 101 72 98.3 71 97.4 70.2 96 69.8 93.5 69.9 84.5 70.7 83.5Z" fill="#ffc60a" stroke="#ffc60a" stroke-width="0.6" fill-rule="evenodd"/>
<path d="M157 70.9 159.5 71 162 71.6 164 72.5 165.5 73.8 173.5 84.7 174.5 87.5 174.5 91 173.5 94.7 171.5 99 168.5 103.8 165.5 107.5 159.3 114 157 115.9 154 117.1 150 117.1 148.5 116.7 147.3 116 146.4 115 145.8 113.5 143.8 100 143.6 95 143.8 91 144.2 89 145.1 87.5 146.5 86.3 149.6 84.5 150.6 83.5 151.2 82 152.1 77 153 74.5 155 71.9ZM166.1 87 166.5 88 167.5 88 167.1 87 166.5 86.8ZM148.1 91 146.9 92 146.1 94 145.8 96.5 146.1 99 146.9 101.5 148 103.2 149.5 104.2 151 104.3 152 103.9 153 103 154 101 154.6 98 154.4 95 153.5 92.6 152 91.2 150 90.6ZM119.5 128 126 128.1 130.5 128.8 132.3 130 132.7 131 132.5 132.5 131.7 134 130.4 135.5 128.5 136.9 126.5 137.9 122 138.8 119.5 138.7 117.5 138.2 115 137 113 135.5 111.6 133.5 111.5 132 112.3 130.5 114 129.2 116.5 128.4Z" fill="#ffa010" stroke="#ffa010" stroke-width="0.6" fill-rule="evenodd"/>
<path d="M166.5 86.8 167.5 87.4 167.5 88 166.5 88 166.1 87ZM148.5 90.8 150.5 90.7 152.5 91.5 153.7 93 154.4 95 154.6 98 154 101 153 103 152 103.9 151 104.3 149.5 104.2 148 103.2 146.9 101.5 146 98.6 145.8 96 146.2 93.5 147 91.9Z" fill="#e87828" stroke="#e87828" stroke-width="0.6" fill-rule="evenodd"/>
<path d="M102.7 26 108 30.1 109.3 32 112 37.5 113.9 39.5 116.5 40.6 121.5 40.3 122.7 41 127 50.4 129 58.8 130.5 60.2 133 60.8 134.5 60.5 135.5 59.9 136.4 58.5 136.7 57 137.3 45 137.5 26M168.8 26 177 28.8M67 62.2 113.5 62.3 123 61.6 132 63.1 134 62.9 135.5 62.3 137.1 61 137.8 59 138.2 31.5 138.6 26M177 156.2 169.5 157.6 164 158.2 159 158.3 151.5 157.7 149 157.9 146.9 158.5 141 161.5 135.5 163.5 130.5 164.5 124.5 164.8 115 164.2 103 161.8 92.5 161.2 86.5 160.6 80.5 159.4 71.5 156.8 67 156.1M122 52.9 123 52.9 123.5 53.5 123.7 54.5 123.5 55.1 123 55.3 122 54.8 121.7 54M159.2 26 160.5 27.7 163 29.7 166 31.5 171.4 34 173 35.1 174.5 36.9 177 42.1M67 64.9 123 64.7 131 65.2 133.5 64.9 136 64 138 62.4 139 60 138.5 52.5 139.1 31.5 139.6 26M177 152.9 170 154.1 164.5 154.5 159 154.5 151.5 153.7 148.5 153.9 146.2 154.5 138.4 157.5 130.5 161.2 127.5 161.9 124 162.1 120 161.9 116 161.1 106 157.5 102 156.5 98 156.1 86 155.9 72.5 153.3 67 152.9M155.6 26 155.9 28 156.9 30 162.5 37 165 39 171.5 42.3 175.5 46.5 177 47.6M67 67 130 67 133.5 66.6 136 65.7 138.8 63.5 140 61 140 59.5 139.2 55 139.1 52 139.8 32 140.7 26M177 150.1 170.5 151.2 165 151.6 159.5 151.5 151.5 150.7 148 150.9 137 154.2 128.5 158.6 126 159.2 123 159.4 119.5 159.1 116 158.3 105.8 154 101 152.7 97 152.4 86 152.6 73 150.4 67 150.1M152.6 26 152.6 28.5 153.3 30.5 159.5 39.8 161.5 42.3 165 44.9 169.5 47.2 174 50 177 51.1M67 69 126.5 69 132.5 68.5 136.5 67.1 139.5 64.5 140.5 63 141 61.5 141 59.5 139.9 55 139.7 52 140.6 32 141.8 26M177 147.5 170.5 148.5 165 148.9 160 148.8 151.5 148.1 147.5 148.4 136.5 151.2 127 156 124.5 156.6 122 156.7 119 156.4 116 155.7 106 151.3 101 149.9 96.5 149.5 85.5 149.7 72.5 147.8 67 147.4M149.4 26 149.2 28.5 150 30.5 154.7 36.5 158.5 42.8 160.5 45.4 163 47.5 171 52.6 174 53.8 177 54.3M67 71 125 71.1 132 70.2 135 69.3 137 68.4 139 66.8 140.5 65 141.5 63.3 142 61.5 141.8 59.5 140.5 55 140.4 51 141.5 32.2 142 29.5 143.4 26M177 144.6 165 146.1 151.5 145.7 147.5 146 136.6 148.5 127 153.1 124.5 153.8 121.5 154.1 118.5 153.9 116 153.3 106.4 149 101 147.5 96.5 147.1 85 147.1 67 144.6M67 73.1 114 73.1 124.5 73.3 131 72.3 137.2 70 139 68.7 140.5 67 142 64.6 142.7 62.5 142.8 60 141.2 55 141 51 142.4 33.5 143.4 30.5 144.5 29.4 145 29.3 146 29.9 152.5 36.8 154.5 39.5 158 45.8 161 49 169.4 55.5 172 56.6 177 57.8M177 141.4 164 143.2 151 143.4 147 143.8 136.5 146.2 126 150.8 123.5 151.5 121 151.7 118.5 151.6 116 151 106.9 147 102 145.6 97 145 87 144.8 81.5 144.3 72.5 142.9 67 141.4M67 75.1 125 75.2 130.5 74.3 137.5 71.7 139.5 70.3 141 68.7 142.5 66 143.5 63 143.6 60 141.9 55 141.7 51 143.2 37 144 34.6 145 33.8 146 34 147.5 35 151.5 38.3 153.5 41 157.6 48.5 165.5 57.1 167.9 58.5 173.5 60 177 61.6M177 137.9 161.5 140.3 150.5 141 146.5 141.6 136.5 144.1 125.5 148.6 120.5 149.5 118 149.3 115.5 148.7 107.5 145.2 103 143.9 97.5 143.1 84.5 142.2 76.5 141.3 71.5 140.1 67 138.1M121 98 118.5 99.9 117.1 103 117 104.5 117.3 106 118 107.1 119 107.6 120.7 107.5 122.5 106.2 124.1 104 125.2 101 125.2 99 124.5 98 123 97.6M67 76.7 125.5 76.8 131.5 75.9 138 73.4 140.5 71.8 142 70 143.2 67.5 144.3 64 144.5 60 142.7 54.5 142.4 50.5 144 40.4 145 38 146 37.5 147.5 37.7 149 38.5 151.6 41 153.1 43.5 156 49.5 159.5 54.5 161.1 58 162 59.2 164.5 60.6 172.5 62.8 177 65.6M177 134.1 160.5 137.2 146 139.2 137 141.9 126 146.3 123 147.1 120.5 147.3 116 146.7 107 143.1 102 141.8 80 139.3 75.2 138.5 71.5 137.2 67 134.5M121 94 118.5 95 116.2 97 114.7 99.5 113.8 103 113.8 106.5 114.7 109.5 116.3 111.5 118.5 112.4 120.5 112.4 122 111.9 123.5 111 124.9 109.5 128 103.7 129.7 98.5 129.4 96 128.7 95 127.5 94.1 124.5 93.5M67 78.3 126 78.3 132.5 77.5 138.5 75.4 141 74 142.5 72.6 143.6 71 144.4 68.5 145.3 64 145.5 60.5 145.2 58.5 143.5 53.7 143.4 50 145 42.5 146 40.9 147 40.5 148 40.6 149.5 41.5 151.5 43.9 154.4 51 156.8 55.5 158 59 159.1 60.5 161.5 62 168.5 64.2 171.6 65.5 174 67.2 177 70.4M177 129.7 173.5 131.1 170 132 153 134.5 148 135.6 142 137.7 127.5 143.9 124 144.9 120.5 145.3 116 144.7 107 141.2 102 139.8 77.3 136 74 134.8 69 131.5 67 130.8M121.5 91 117 92.1 115.5 92.9 114.2 94 112.4 97.5 111.3 102.5 111.3 108 111.8 110.5 112.5 112.4 113.5 113.8 115 115.1 116.5 115.8 118.5 116.2 121 116.2 123.5 115.5 125.3 114.5 126.8 113 128.7 109.5 132.4 100 133.1 97 133.1 95 132.6 93.5 131.9 92.5 130.5 91.5 127 90.8M67 80 129.5 80 135 79.4 139 78.1 141.5 76.7 143.5 75.1 145 73.1 145.8 71 146.4 65 146.5 59.5 146.1 57 144.9 53 144.8 50.5 145.9 45.5 146.5 44.5 147.5 43.8 149 44.3 150 45.5 150.8 47.5 152.4 53.5 155.9 60 157 61.5 159.9 63.5 166.9 66 170 67.5 172.1 69 175.5 72.7 177 73.8M177 102.1 176 105.5 174 115 174 117.2 174.7 121.5 174.6 123.5 174 125 172.7 126.5 169.8 128 165 128.9 159.5 129.1 152 128.5 149.5 128.9 147.5 130 141.7 134.5 136 138 129.5 141.2 124.5 142.9 120.5 143.3 117 142.9 114 142 105.5 138.4 96.5 135.7 81 133.3 78.5 132.3 76.5 130.9 74.9 129 72.5 125.3 71.5 124.3 70 124.1 67 125.6M130.5 87.5 113.5 88.4 111.2 89 110 90.1 109.3 93 108.5 105 108.6 110.5 109 113.5 109.7 115.5 111 117.4 112.5 118.5 114.5 119.3 117.5 119.9 120.5 120.1 123.5 119.9 127.5 118.5 129.4 117 130.5 115.5 131.4 113 132.9 106 136.4 98 137.1 94.5 136.6 91.5 135.3 89 133.5 87.8M177 93.2 172.5 106.6 167.5 115 165.2 120.5 163.5 122.2 162 122.7 159.5 123 148.5 122.6 145 123.5 143 125.2 138.8 132 135.2 135.5 129.5 139.1 126.5 140.4 123.9 141 121 141.3 118.5 141.1 113.7 139.5 105.7 135 104.3 133.5 103.7 132 104.1 130 105.5 127.7 107 126 109 124.7 113 124 124 124 128 123.6 130.5 122.8 133 121.5 134.9 120 136.1 118.5 137.1 115.5 136.6 109.5 136.9 107 137.5 105.5 140 101.8 140.9 98.5 140.9 94.5 140 87 140 84.5 140.9 82.5 144.5 79.4 146 77.7 148.1 73.5 148.6 70.5 148 64.5 148 61 148.3 59 149 57.7 150 57.4 151.5 58 152.5 59 155.4 63 157.5 64.7 166.1 68.5 169.8 71 174.3 77 175.7 82 177 84.7M72.5 83 78 82.6 96 82.6 100.5 83.2 101.5 83.6 102.1 84.5 102.2 90 104.3 97.5 104.7 101 104.5 109 103.5 115 102.6 117 101.5 118.2 96.5 120.9 94.6 122.5 91.1 128 89 129.5 86.5 129.9 84 129.4 81.8 128 80.5 126 80 124 80 122 82.2 113.5 82.4 111 82 108 81.1 105 79.5 102.7 77.3 101 72 98.3 71 97.4 70.2 96 69.8 93.5 69.9 84.5 70.7 83.5M157 70.9 159.5 71 162 71.6 164 72.5 165.5 73.8 173.5 84.7 174.5 87.5 174.5 91 173.5 94.7 171.5 99 168.5 103.8 165.5 107.5 159.3 114 157 115.9 154 117.1 150 117.1 148.5 116.7 147.3 116 146.4 115 145.8 113.5 143.8 100 143.6 95 143.8 91 144.2 89 145.1 87.5 146.5 86.3 149.6 84.5 150.6 83.5 151.2 82 152.1 77 153 74.5 155 71.9M119.5 128 126 128.1 130.5 128.8 132.3 130 132.7 131 132.5 132.5 131.7 134 130.4 135.5 128.5 136.9 126.5 137.9 122 138.8 119.5 138.7 117.5 138.2 115 137 113 135.5 111.6 133.5 111.5 132 112.3 130.5 114 129.2 116.5 128.4M166.5 86.8 167.5 87.4 167.5 88 166.5 88 166.1 87M148.5 90.8 150.5 90.7 152.5 91.5 153.7 93 154.4 95 154.6 98 154 101 153 103 152 103.9 151 104.3 149.5 104.2 148 103.2 146.9 101.5 146 98.6 145.8 96 146.2 93.5 147 91.9" fill="none" stroke="#000" stroke-width="1.0" stroke-linejoin="round" shape-rendering="crispEdges"/>
</g>
<rect x="133" y="26.5" width="8" height="33" fill="#000"/>
<clipPath id="p3b"><polygon points="225.6,26.5 277.6,26.5 277.6,58.8 334.8,58.8 334.8,163 333,165.8 255.5,165.8 255.5,159 225.6,159"/></clipPath>
<g clip-path="url(#p3b)">
<path d="M226.5 26 226.6 140.5 226.5 141.8 226 142 226 26ZM262 26 263.1 26 263 139.5 262.5 140.8 262 140.1 261.8 26ZM269.5 26 269.9 26 269.9 58.5 269.5 63.5ZM276 26 278 26 278 55.5 277.5 57.3 276.5 57.5 276 57.2 275.8 55.5 275.8 26ZM270.5 71.5 271 73.1 272 73.5 272.5 74.3 272.6 136 272.5 139.8 272 140.8 271 140.8 270.5 139.5 270.2 76ZM287.5 78.6 290.5 78.6 290.9 79.5 290.9 148.5 290.5 150.8 290 151 287.5 150.9 287 149 287.2 79.5ZM297.5 78.8 301 78.9 301.2 145.5 301 147.2 300.5 147.5 298 147.5 297.5 147.3 297.3 146 297.3 80Z" fill="#000" stroke="#000" stroke-width="0.6" fill-rule="evenodd"/>
<path d="M226.9 26.5 227 140.5 226.5 143.5 226 143.7 226 142 226.5 141.8 226.6 31 226.6 26 226.9 26ZM261.5 26 261.8 26 261.9 136 262 140.1 262.5 140.8 263 139.5 263.1 26 263.4 26 263.4 136 263 144.2 262.5 144.5 262 144.3 261.5 140.5ZM269.4 26.5 269.5 63.5 269.9 58.5 269.9 26 270.3 26 270.3 63.5 271 69.2 271.5 69.7 272.5 70 272.9 75.5 272.9 136.5 272.5 144.2 272 144.5 271 144.5 270.5 144.2 270.1 136.5 270.1 90.5 269.1 61.5 269.1 26 269.4 26ZM270.5 71.5 270.2 76 270.5 139.5 271 140.8 272 140.8 272.5 139.8 272.6 76 272.5 74.3 272 73.5 271 73.1ZM275.5 26 275.8 26 275.8 55.5 276 57.2 276.5 57.5 277.5 57.3 278 55.5 278 26 334 26 334 60 302.5 60 301 60.5 297.5 60.5 297 61 296 63.9 287.5 64 287 63.4 286.3 60.5 285.5 59.8 276 59.6 275.5 57.7 275.4 55.5ZM288.5 77.5 290.5 77.5 291 77.8 291.3 79.5 291.3 149 291 153.4 290.5 154.4 287.5 154.5 287 154 286.6 149 286.9 79.5 287.1 78 287.5 77.5ZM287.3 79 287 149 287.5 150.9 290 151 290.5 150.8 290.9 148.5 290.9 79.5 290.5 78.6 287.5 78.6ZM297 78.5 297.5 78.1 301 78.2 301.4 79.5 301.5 146 301 149.9 297.5 149.9 296.9 146.5ZM297.4 79 297.3 146 297.5 147.3 298 147.5 300.5 147.5 301 147.2 301.2 145.5 301 78.9 300.5 78.8ZM226.5 153.2 227.5 155.6 228.5 156.1 259.5 156.1 260.5 155.8 261.5 153.6 262 153.1 263 153.3 263.9 158 264.5 159 268.5 159 269 159 269.5 158.5 270.5 153.3 272 153.1 272.5 153.3 273.4 159.5 274 160.9 275 161.1 285 161.1 286 160.6 287 159.1 290.5 159 291 159.6 292 163.2 293 163.5 296 163.4 296.5 162.7 297 160 297.5 159 301 158.9 302.5 158 334 158 334 166 226 166 226 153.1Z" fill="#4c008c" stroke="#4c008c" stroke-width="0.6" fill-rule="evenodd"/>
<path d="M227 26 227.2 141 227 144 226.5 145.2 226 145.3 226 143.7 226.5 143.5 227 140.5ZM261.4 26.5 261.5 141 262 144.3 262.5 144.5 263 144.2 263.4 136 263.4 36 263.6 26 263.6 136 263.2 146.5 263.8 153.5 264.5 155.9 269 155.9 269.6 154 270.2 148 269.9 136 269.9 88 268.9 62 268.9 26 269.1 62 269.8 75 270.1 91 270.2 140.5 270.5 144.2 271 144.5 272.5 144.2 272.8 141 272.9 76 272.5 70 271.5 69.7 271 69.2 270.3 63 270.3 26 270.7 26 270.5 62.5 271 66.3 271.5 67.2 272.5 67.5 273 71 273.1 140.5 272.8 146.5 273 151 274 157.1 275 157.5 285.5 157.5 286 157 286.3 156 286.8 114 286.7 79 287 77.1 287.5 76.5 291 76.6 291.3 77 291.7 79 291.5 156 292 158.3 292.5 158.9 296 158.8 296.8 155.5 297 151.5 296.6 145.5 296.6 79 297 77.7 301 77.6 301.6 79 301.5 151.5 302 155.3 302.5 155.9 334 156 334 158 302.5 158 301 158.9 297.5 159 297 160 296.5 162.7 296 163.4 292.5 163.5 292 163.2 291 159.6 290.5 159 287 159.1 286 160.6 285 161.1 275 161.1 274 160.9 273.4 159.5 272.5 153.3 272 153.1 270.5 153.3 269.6 158 269 159 265.5 159 264.5 159 264 158.5 263 153.3 262 153.1 261.5 153.6 260.5 155.8 260 156.1 228 156.1 227.5 155.6 226.5 153.2 226 153.1 226 148.9 226.5 149 228 152.9 259.5 153.1 260.5 152.7 261.2 151 261.5 146.5ZM288.5 77.5 287.5 77.5 287.1 78 286.9 79.5 286.6 149 287 154 287.5 154.5 290.5 154.4 291 153.4 291.3 149 291.3 79.5 291 77.8 290.5 77.5ZM297 78.5 296.9 146.5 297.5 149.9 301 149.9 301.5 146 301.4 79.5 301 78.2 297.5 78.1ZM275.4 26.5 275.4 56 276 59.6 285.5 59.8 286.3 60.5 287 63.4 287.5 64 296 63.9 297 61 297.5 60.5 301 60.5 303 60 334 60 334 62 303 62.1 302.1 62.5 301 64 297.5 64.1 296.9 65.5 296 70.7 295.5 71 292.5 71 291 68.7 287.5 68.4 287 67.3 286 62 285.5 61.3 276 61.1 275.5 60 275.1 55.5 275.1 26 275.4 26Z" fill="#1616b0" stroke="#1616b0" stroke-width="0.6" fill-rule="evenodd"/>
<path d="M227.2 26.5 227.1 146 227.5 148.2 228 149.2 229 149.6 236 151 260 151 260.5 150.5 260.9 148.5 261.3 136.5 261.2 26 261.5 146.5 261.2 151 260.5 152.7 260 153 228 152.9 226.5 149 226 148.9 226 145.3 226.5 145.2 227 144 227.2 141ZM263.7 26.5 263.7 147 263.9 150.5 264.5 152.8 268.5 153 269 152.8 269.5 151.1 269.9 146 269.8 91 268.8 62.5 268.9 26 268.9 62 269.9 87 269.9 136 270.3 146.5 269.5 154.7 269 155.9 268.5 156 264.5 155.9 264 154.5 263.3 148.5 263.6 136ZM271 26 271 58 270.8 62 271.5 64.9 272.5 65.1 272.8 66 273.2 71 273.2 146 273.4 151 274 153.9 274.5 154.5 285 154.5 285.5 154.4 286 152.7 286.6 114 286.6 79 287 75.5 286.7 69 286 64 285.5 63.1 276 62.9 275.5 61.6 274.7 55.5 274.7 26 275.1 26 275.1 55.5 275.5 60 276 61.1 285.5 61.3 286 62 287 67.3 287.5 68.4 291 68.7 292.5 71 295.5 71 296 70.7 296.9 65.5 297.5 64.1 301 64 302.1 62.5 303 62.1 334 62 334 64.7 303 64.7 302.5 64.9 301 68.4 297.5 68.6 297 70.3 296.5 76 297 76.8 301 77 301.5 77.7 301.7 79 301.7 141 301.9 151 302.5 153.7 303.5 154 334 154 334 156 302.5 155.9 302 155.3 301.5 151.5 301.6 79 301 77.6 297.5 77.5 296.8 78 296.6 79 296.6 145.5 297 151.5 296.8 155.5 296 158.8 292.5 158.9 292 158.3 291.5 156 291.7 79 291.5 77.5 291 76.6 287.5 76.5 287 77.1 286.7 79 286.8 114 286.3 156 286 157 285.5 157.5 275 157.5 274 157.1 273 151 272.8 146.5 273.1 140.5 273 71 272.5 67.5 271.5 67.2 271 66.3 270.5 62 270.7 26ZM292.4 79.5 292 82.5 292 151 292.5 152.9 295.5 153.1 296 152.9 296.5 151 296.2 145.5 296.2 82 296 79.5 295.5 79 293 79Z" fill="#1030e8" stroke="#1030e8" stroke-width="0.6" fill-rule="evenodd"/>
<path d="M227.4 26.5 227.4 135.5 227.8 145.5 228 146.1 236 148.9 260 148.9 260.7 147 261.2 136 261 26 261.3 136 261.1 147 260.6 150 260 151 236 151 229 149.6 228 149.2 227.5 148.2 227.1 146ZM263.9 26.5 263.9 146 264.5 149.9 268.5 150 269 149.9 269.6 146.5 269.7 91 268.7 62 268.8 26 268.8 62.5 269.8 91 269.9 146 269.5 151.1 269 152.8 268.5 153 264.5 152.8 263.9 150.5 263.7 147ZM271.5 26 274.7 26 274.7 55.5 275.5 61.6 276 62.9 285.5 63.1 286 64 286.8 69.5 287 75.5 286.6 79.5 286.7 110 286.3 146 286 152.7 285.5 154.4 274.5 154.5 274 153.9 273.4 151 273.2 70.5 272.8 66 272.5 65.1 271.5 64.9 270.8 62 271 58.5 271 26ZM274 59 272.5 60.5 271.5 60.7 271.2 62 271.5 62.9 272.5 63.1 273 64 273.3 68 273.2 114 273.4 146 274 151.5 274.5 152 285.5 151.9 286 148.5 286.3 137.5 286.4 79 286.7 75.5 286.3 68 285.5 65.1 276 64.9 274.5 59.1ZM302.5 64.9 303.5 64.7 334 64.7 334 67 303 67 302.5 67.3 302 68.4 301 73.3 297.5 73.7 297.1 75.5 297.5 76.2 301 76.3 301.5 76.9 301.8 78.5 301.8 141 302.5 151.5 303 152 334 152 334 154 303.5 154 302.4 153.5 301.9 151 301.7 141 301.7 79 301.5 77.7 301 77 297 76.8 296.5 76 297 70.3 297.5 68.6 301 68.4ZM292.5 79.2 295.5 79 296 79.5 296.2 82 296.2 145.5 296.5 151 296 152.9 295.5 153.1 292.5 152.9 292 151 292 82.5Z" fill="#1e6cf0" stroke="#1e6cf0" stroke-width="0.6" fill-rule="evenodd"/>
<path d="M227.5 26 227.6 135.5 228 142.8 228.5 143.3 237 146.3 239.5 146.9 259.5 147 260 146.9 260.5 145.8 261 136.5 260.9 26 261.1 36 261.2 135.5 260.8 146 260.5 148.1 260 148.9 236 148.9 228 146.1 227.8 145.5 227.4 135.5ZM264 26 264.1 141 264.5 147.3 265.5 147.5 268.5 147.5 269 147.3 269.4 141 269.6 91 268.7 70.5 268.6 26 268.8 69 269.7 91 269.6 146.5 269 149.9 268.5 150 264.5 149.9 263.9 146ZM274 59 274.5 59.1 276 64.9 285.5 65.1 286 66.2 286.3 68.5 286.7 75.5 286.4 79 286.3 138.5 286 148.5 285.5 151.9 274.5 152 274 151.5 273.4 146 273.2 114 273.3 68 273 64 272.5 63.1 271.5 62.9 271.2 62 271.5 60.7 272.5 60.5ZM273.7 61.5 273.4 62.5 273.2 106.5 273.5 134.2 274 148 274.5 149 285 149 285.5 148.7 285.9 146 286.2 135.5 286.5 75.5 286.1 69 285.5 66.9 276 66.8 275.5 66 274.5 61.2 274 61.1ZM304 67 334 67 334 69 303.5 69 302.5 69.4 301.9 71.5 301.5 75.5 301.9 79 301.9 141 302.5 149 303 149.9 334 150 334 152 303 152 302.5 151.5 301.8 141 301.8 78.5 301.5 76.9 301 76.3 297.5 76.2 297.1 75.5 297.5 73.7 301 73.3 302.4 67.5 303 67Z" fill="#20a8f0" stroke="#20a8f0" stroke-width="0.6" fill-rule="evenodd"/>
<path d="M227.9 26.5 227.6 58.5 228 138.2 228.5 139.4 230.4 141 235.7 143 238 144.5 240 145.2 260 145.2 260.5 143.8 261 135.5 260.7 26 261 36 261.1 126 260.8 143 260.5 145.8 260 146.9 240 147 236.5 146.2 228.5 143.3 228 142.8 227.6 135.5 227.4 30.5 227.6 26 227.9 26ZM264.4 26.5 264.1 36.5 264.1 125 264.5 142.5 265 143 268.5 143 269 142.5 269.4 92 268.7 78.5 268.1 26 268.4 26 268.7 71 269.6 91.5 269.4 141 269 147.3 268.5 147.5 265 147.5 264.5 147.3 264.1 141.5 264.1 26 264.4 26ZM274 61.1 274.5 61.2 275.5 66 276 66.8 285.5 66.9 286.1 69 286.5 75.5 286.2 135.5 285.9 146 285.5 148.7 285 149 274.5 149 273.9 147.5 273.4 125 273.2 96.5 273.4 62.5ZM274.3 64.5 273.9 66 273.5 77.2 273.3 96 273.5 124.5 274 143.2 274.5 145.8 285 145.9 285.5 145.3 285.9 139.5 286.2 124.5 286.3 76 286 70.1 285.5 68.6 276 68.5 275.5 68 274.5 64.3ZM302.5 69.4 303.5 69 334 69 334 71 303 71 302.4 72 301.8 76 302 79 302 140.5 302.5 146.6 303 147.9 334 148 334 150 303 149.9 302.5 149 301.9 141 301.9 79 301.5 75.5 301.9 71.5Z" fill="#20d0e0" stroke="#20d0e0" stroke-width="0.6" fill-rule="evenodd"/>
<path d="M228 26 237.8 26 236 27.5 228.5 28.4 228 29.3 227.9 58.5 228.2 62.5 228.4 79 230.9 81 231.7 82 231.8 91 233.2 93.5 235.7 96 235.9 96.5 235.7 109.5 235.5 110.1 233 112.2 231.8 114 231.7 118 230.4 124 230.3 135.5 230.9 136.5 238 142.5 240 143.7 259.5 143.7 260 143.6 260.5 141.5 261 125.5 260.6 29.5 260.2 26 260.6 26 260.9 36 261 126 260.8 139 260.5 143.8 260 145.2 240 145.2 238 144.5 235.7 143 230.4 141 228.5 139.4 228 138.2 227.6 31ZM264.5 26 268.1 26 268.6 75 269.4 91.5 269 142.5 268.5 143 265 143 264.5 142.5 264.1 125.5 264.1 36.5ZM264.9 31.5 264.5 32.7 264.4 126 264.5 127.3 265 128 268.5 128 269 127.3 269.1 91.5 268.2 76.5 268 32.7 267.5 31 265 31ZM274.5 64.3 275.5 68 276 68.5 285.5 68.6 286 70.1 286.3 76 286.2 124.5 285.9 139.5 285.5 145.3 285 145.9 274.5 145.8 274 143.2 273.5 124.5 273.3 95.5 274 65ZM274.4 69 274 71.1 273.7 77.5 273.4 96 273.4 114 274 137.8 274.5 140.8 275 141 285 141 285.5 140.3 286.1 124 286.3 96 286 72.7 285.5 70.3 275.5 70 274.5 68.8ZM303 71 334 71 334 73 303 73 302.5 73.6 302.1 76 301.9 97 302.2 141 302.5 144.8 303 145.9 334 146 334 148 303 147.9 302.5 146.6 302 140.5 302 79 301.8 76 302.4 72Z" fill="#20ecb0" stroke="#20ecb0" stroke-width="0.6" fill-rule="evenodd"/>
<path d="M237.5 26.3 237.8 26 260.2 26 260.5 27.4 260.8 36 260.9 126.5 260.5 141.5 260 143.6 240 143.7 235.4 140.5 230.9 136.5 230.3 135.5 230.4 124 231.7 118 231.8 114 233 112.2 235.5 110.1 235.7 109.5 235.9 96.5 235.7 96 233.2 93.5 231.8 91 231.7 82 230.9 81 228.4 79 228.2 62.5 227.9 58.5 228 29.3 228.5 28.4 236 27.5ZM242.5 27 240 27.3 238.4 28.5 233.5 33.1 232.2 35 231.8 36.5 231.8 46 233.2 51 235.6 56 235.8 65.5 236.9 70.5 238.1 82.5 238.9 84.5 242.2 90.5 243.3 93.5 244.6 96 241.5 101.5 237.4 114 236.9 118.5 235.8 124.5 235.9 135.5 238.4 140.5 240 141.9 259.5 142 260 141.8 260.5 139.5 260.9 126 260.5 29.4 260 27 259.5 26.8ZM265 31 267.5 31 268 32.7 268.2 76.5 269.1 91.5 269 127.3 268.5 128 265 128 264.5 127.3 264.4 36.5 264.5 32.7ZM274.5 68.8 275.5 70 285.5 70.3 286 72.7 286.3 96 286.1 124 285.5 140.3 285 141 275 141 274.5 140.8 274 137.8 273.4 114 273.4 95.5 273.7 76.5 274 71.1ZM274.5 72.5 274 74 273.7 81.5 273.5 105.5 274 131.6 274.5 135.7 275 136 285 136 285.5 135.1 286.2 114 286 75.9 285.5 72.5 285 72.3 275 72.3ZM303 73 334 73 334 75 303 75.1 302.5 75.8 302 97 302.3 140.5 302.5 143.1 303 144.4 334 144.5 334 146 303 145.9 302.6 145 302.2 140.5 302.1 76 302.5 73.6Z" fill="#3cf078" stroke="#3cf078" stroke-width="0.6" fill-rule="evenodd"/>
<path d="M242.5 27 259.5 26.8 260 27 260.5 29.4 260.9 126 260.5 139.5 260 141.8 259.5 142 240 141.9 238.4 140.5 235.9 135.5 235.8 124.5 236.9 118.5 237.4 114 241.5 101.5 244.6 96 243.3 93.5 242.2 90.5 238.9 84.5 238.1 82.5 236.9 70.5 235.8 65.5 235.6 56 233.2 51 231.8 46 231.8 36.5 232.2 35 233.5 33.1 238.4 28.5 240 27.3ZM249.2 28.5 244.5 28.6 240 29.8 238.5 31.5 237 36 238 59 238.6 62 238.7 66.5 239.3 73 240 75.8 241.6 79 242.3 81.5 245 86.2 248.2 96 245 105.7 242 109.5 239.8 114.5 238 124 238.1 131 238.7 136 240 138.4 241 139.1 243 139.7 246 140.1 259.5 140.4 260 140.2 260.5 138.3 260.8 126 260.4 31 260 28.7 259.5 28.5ZM274.5 72.4 285 72.3 285.5 72.5 286 75.9 286.2 114 285.5 135.1 285 136 275 136 274.5 135.7 274 131.6 273.5 105 273.7 81.5 274 74ZM274.5 75 274 77 273.8 82 273.6 105.5 274 126.5 274.5 129.8 275 130.1 285 130 285.5 129.3 286.1 113.5 286 82 285.5 75 284.5 74.8 275 74.8ZM303 75.1 334 75 334 77 303 77.1 302.5 79 302.2 96.5 302.4 140.5 303 142.9 334 143 334 144.5 303 144.4 302.5 143.1 302.3 140.5 302 97 302.5 75.8ZM333.5 85 334 84.9 334 113.8 332.1 110 332 106 331 96 330 90.5 330 86.5 331 85.7Z" fill="#80f028" stroke="#80f028" stroke-width="0.6" fill-rule="evenodd"/>
<path d="M249.5 28.5 259.5 28.5 260 28.7 260.4 31 260.8 126 260.5 138.3 260 140.2 259.5 140.4 246 140.1 243 139.7 241 139.1 240 138.4 238.7 136 238.1 131 238 124 239.8 114.5 242 109.5 245 105.7 248.2 96 245 86.2 242.3 81.5 241.6 79 240 75.8 239.3 73 238.7 66.5 238.6 62 238 59 237 36 238.5 31.5 240 29.8 244.5 28.6ZM243.9 30.5 242 31.4 240.8 32.5 240 33.6 239.1 36 239.9 46 240.1 59 241.2 62 241.4 68.5 242 72 243.4 76 246.9 82.5 250 90.9 252.3 96 249.5 100.5 247.5 106 242.5 114 241.3 118 240.1 123.5 240.1 130 241.8 136 244 137.6 246 138.2 250 138.8 259.5 139.1 260 139 260.5 136.8 260.7 126 260.3 96 260.5 78.5 260.4 36.5 260 30.4 259.5 30.2 245.5 30.2ZM274.5 74.9 285 74.8 285.5 75 286 82 286.1 113.5 285.5 129.3 285 130 275 130.1 274.5 129.8 274 126 273.6 105 274 77ZM275.5 77.5 274.5 77.7 273.9 82.5 273.8 113 274.5 125.7 275 126 285 126 285.5 125.2 286 112.3 286 92 285.5 78 285 77.5ZM304 77 334 77 334 79 303 79.2 302.5 82 302.3 96.5 302.5 128.8 303 141.5 334 141.7 334 143 303 142.9 302.4 140.5 302.2 86 302.6 78.5 303 77.1ZM332.5 83.9 334 83.7 334 84.9 330.4 86 330 86.5 330 90.5 331 96 332 106 332.1 110 334 113.8 334 124.3 332 122.5 330.8 120.5 330 118 329.9 114 328.1 110 328 96 325.8 86.5 325.8 86 327 85.3Z" fill="#c0f818" stroke="#c0f818" stroke-width="0.6" fill-rule="evenodd"/>
<path d="M244 30.5 245.5 30.2 259.5 30.2 260 30.4 260.4 36.5 260.5 78.5 260.3 96 260.7 126 260.5 136.8 260 139 259.5 139.1 250 138.8 246 138.2 244 137.6 241.8 136 240.1 130 240.1 123.5 241.3 118 242.5 114 247.5 106 249.5 100.5 252.3 96 250 90.9 246.9 82.5 243.4 76 242 72 241.4 68.5 241.2 62 240.1 59 239.9 46 239.1 36 240 33.6 240.8 32.5 242 31.4ZM244.7 32.5 242.4 34.5 241.6 35.5 241.3 36.5 242.5 58.5 243.7 62 243.8 66 244.2 68 246.7 76 254.5 90 255.5 91.4 259.5 95 260 93.9 260.4 78.5 260 34.3 259.5 33.5 255 33.4 250.5 32.3 245.5 32.3ZM259.2 98 257.5 99.6 255 101.1 252.5 104 250 106.1 245.1 114 244.5 115.6 242.6 123.5 242.5 126 244.9 135.5 246.4 136.5 250 137.4 253 137.7 260 137.7 260.5 132.6 260.5 114.6 260 99.7 259.5 97.7ZM275.5 77.5 285 77.5 285.5 78 286 92 286 112.3 285.5 125.2 285 126 275 126 274.5 125.7 273.8 113 273.9 82.5 274.5 77.7ZM275.5 80.5 274.5 80.7 274 86 273.9 113.5 274.5 117.9 275 118.2 285 118.2 285.5 117.4 285.9 106 285.5 81.1 285 80.5ZM304 79 334 79 334 81 303 81.2 302.5 85 302.4 96.5 302.5 119.5 303 129.3 303.5 130 308 130.2 310.5 132 313 133 317.5 133 319.5 132.5 322.5 130.5 324 129 324.9 127.5 325.5 126 326.3 118 326.3 114 325.5 109.5 325.5 96 323.8 90 323 88.6 320.7 86 322 84.5 324 83.7 328.5 82.9 334 82.6 334 83.7 328 85 326 85.9 325.8 86.5 328 96 328.1 110 329.9 114 330 118 330.8 120.5 332 122.5 334 124.3 334 141.7 303 141.5 302.4 118 302.4 86 303 79.2Z" fill="#ffee00" stroke="#ffee00" stroke-width="0.6" fill-rule="evenodd"/>
<path d="M245 32.3 250.5 32.3 255 33.4 259.5 33.5 260 34.3 260.4 78.5 260 93.9 259.5 95 255.5 91.4 254.5 90 246.7 76 244.2 68 243.8 66 243.7 62 242.5 58.5 241.3 36.5 241.6 35.5 242.5 34.3ZM244.8 35 244 35.8 243.8 36.5 244 46 245.2 56 245.2 58.5 246.6 61.5 246.8 66.5 250.2 76 254.8 79 255.5 81.6 259.5 82.2 260 80.9 260.1 66 260 59.3 259.5 54.4 257.5 52.4 252.7 49.5 250.3 46.5 250.2 45.5 251.9 40 252.3 36 250 34.8 245.5 34.8ZM275.5 80.5 285 80.5 285.5 81.1 285.9 106 285.5 117.4 285 118.2 275 118.2 274.5 117.9 273.9 113.5 274 86 274.5 80.7ZM274.7 86.5 274 96 274 109.4 274.5 115.1 285 115.3 285.5 114.5 285.7 105 285.5 88.3 285 86.1 275 86ZM303 81.2 334 81 334 82.6 328.5 82.9 324 83.7 322 84.5 320.7 86 323 88.6 323.8 90 325.5 96 325.5 109.5 326.3 114 326.3 118 325.5 126 324.7 128 322 131 318.5 132.8 313 133 310.5 132 308 130.2 303.5 130 303 129.3 302.5 119.5 302.4 96.5 302.5 85ZM304 84 303 84.4 302.5 94.7 302.5 106.9 303 120.4 303.5 121 308 121.1 311.3 125 313 126 317.5 125.7 318.2 124 321.5 120.8 322.9 118 322.7 96 317.5 90.4 316.3 88.5 315.4 86 314 84.5 312.5 84ZM259.5 97.7 260 99.7 260.5 114.6 260.5 132.6 260 137.7 253 137.7 250 137.4 246.4 136.5 244.9 135.5 242.5 126 242.6 123.5 244.7 115 250 106.1 252.5 104 255 101.1 257.6 99.5ZM256.5 108 254.5 108.2 251 109.6 250 110.4 246.7 118 245.2 123.5 245.1 126 247.5 132 249.7 135.5 250.8 136 254 136.5 259.5 136.6 260 136.4 260.5 126.5 260 108.7 259.5 108Z" fill="#ffc60a" stroke="#ffc60a" stroke-width="0.6" fill-rule="evenodd"/>
<path d="M245 34.9 250 34.8 252.3 36 251.9 40 250.2 45.5 250.3 46.5 252.7 49.5 257.5 52.4 259.5 54.4 260 59.3 260.1 79.5 260 80.9 259.5 82.2 255.5 81.6 254.8 79 250.2 76 246.8 66.5 246.6 61.5 245.2 58.5 245.2 56 244 46 243.8 36.5 244.2 35.5ZM252.9 62 250.5 62.5 250.3 66 255 70.7 255.9 70 256.9 68.5 257.6 66.5 257.6 65.5 256.5 63.5 255 61.9 254.5 61.7ZM304 84 312.5 84 314 84.5 315.4 86 316.3 88.5 317.5 90.4 322.7 96 322.9 118 321.5 120.8 318.2 124 317.5 125.7 313 126 311.3 125 308 121.1 303.5 121 303 120.4 302.5 106.9 302.5 94.7 303 84.4ZM304 91 303.5 91 303 92.1 302.9 96 303 109 303.5 109.9 307.9 109.5 308 106 309.6 101.5 310.4 96 309.4 93 308 91.1ZM310.5 110.5 310.7 114.5 311.5 116.3 312.5 117.5 313.5 118 317.5 117.6 317.9 114.5 317.4 113.5 313 110.1 311.5 110.1ZM275 86 285 86.1 285.5 88.3 285.7 97.5 285.5 114.7 285 115.3 274.5 115.1 274 109.4 274 95.5 274.5 86.7ZM275.5 93.5 274.5 93.9 274.3 96 274.5 109.4 275 110 285 110 285.5 108 285.5 105 285.5 94.7 285 93.5ZM256.5 108 259.5 108 260 108.7 260.5 126.5 260 136.4 259.5 136.6 254 136.5 250.8 136 249.7 135.5 247.5 132 245.1 126 245.2 123.5 246.7 118 250 110.4 251 109.6 254.5 108.2ZM256.5 114 254.5 114.4 250.2 118 248.5 123.5 248.4 126 250 129.8 251 130.6 255 132.9 259.5 133 260 131.9 260.3 126 260 115.4 259.5 114Z" fill="#ffa010" stroke="#ffa010" stroke-width="0.6" fill-rule="evenodd"/>
<path d="M253 62 254.5 61.7 255 61.9 256.5 63.5 257.6 65.5 257.6 66.5 256.9 68.5 255.9 70 255 70.7 250.3 66 250.5 62.5ZM304 91 308 91.1 309.4 93 310.4 96 309.6 101.5 308 106 307.9 109.5 303.5 109.9 303 109 302.9 96 303 92.1 303.5 91ZM275.5 93.5 285 93.5 285.5 94.7 285.5 97 285.5 108 285 110 275 110 274.5 109.4 274.3 96 274.5 93.9ZM311 110.2 313 110.1 317.5 113.7 317.9 114.5 317.5 117.6 313.5 118 312 117 310.5 114 310.5 110.5ZM256.5 114 259.5 114 260 115.4 260.3 126 260 131.9 259.5 133 255 132.9 251 130.6 250 129.8 248.4 126 248.5 123.5 250.2 118 254.5 114.4ZM256.5 121 255 121.1 253.5 122.6 252.6 124 252.6 126 255 127.9 259.5 128 260 127.2 260 122.1 259.5 121Z" fill="#e87828" stroke="#e87828" stroke-width="0.6" fill-rule="evenodd"/>
<path d="M256.5 121 259.5 121 260 122.1 260 127.2 259.5 128 255 127.9 252.6 126 252.6 124 253.5 122.6 255 121.1Z" fill="#c85048" stroke="#c85048" stroke-width="0.6" fill-rule="evenodd"/>
<path d="M261.8 26 262 140.1 262.5 140.8 263 139.5 263.1 26M269.4 26 269.5 63.5 269.9 58.5 269.9 26M275.8 26 275.8 55.5 276 57.2 276.5 57.5 277.5 57.3 278 55.5 278 26M226 142 226.5 141.8 226.6 26M270.5 71.5 270.2 76 270.5 139.5 271 140.8 272 140.8 272.5 139.8 272.6 76 272.5 74.3 272 73.5 271 73.1M287.5 78.6 287.2 79.5 287 149 287.5 150.9 290 151 290.5 150.8 290.9 148.5 290.9 79.5 290.5 78.6M297.5 78.8 297.3 80 297.3 146 297.5 147.3 298 147.5 300.5 147.5 301 147.2 301.2 145.5 301 78.9 300.5 78.8M261.4 26 261.5 140.5 262 144.3 262.5 144.5 263 144.2 263.4 136 263.4 26M269.1 26 269.1 62 269.8 75 270.1 91 270.1 136.5 270.5 144.2 271.5 144.5 272.5 144.2 272.9 139.5 272.9 76 272.5 70 271.5 69.7 271 69.2 270.3 63.5 270.3 26M275.4 26 275.4 56 276 59.6 285.5 59.8 286.3 60.5 287 63.4 287.5 64 296 63.9 297 61 297.5 60.5 301 60.5 302.5 60 334 60M226 143.7 226.5 143.5 227 140.5 226.9 26M334 158 302.5 158 301 158.9 297.5 159 297 160 296.5 162.7 296 163.4 292.5 163.5 292 163.2 291 159.6 290.5 159 287 159.1 286 160.6 285 161.1 275 161.1 274 160.9 273.4 159.5 272.5 153.3 272 153.1 270.5 153.3 269.6 158 269 159 265.5 159 264.5 159 264 158.5 263 153.3 262 153.1 261.5 153.6 260.5 155.8 260 156.1 228 156.1 227.5 155.6 226.5 153.2 226 153.1M288.5 77.5 287.5 77.5 287.1 78 286.9 79.5 286.6 149 287 154 287.5 154.5 290.5 154.4 291 153.4 291.3 149 291.3 79.5 291 77.8 290.5 77.5M297 78.5 296.9 146.5 297.5 149.9 301 149.9 301.5 146 301.4 79.5 301 78.2 297.5 78.1M261.2 26 261.5 146.5 261.2 151 260.5 152.7 259.5 153.1 228 152.9 226.5 149 226 148.9M268.9 26 268.9 62 269.9 87 269.9 136 270.3 146.5 269.5 154.7 269 155.9 268 156 264.5 155.9 263.9 154 263.3 148 263.6 136 263.6 26M275.1 26 275.1 55.5 275.5 60 276 61.1 285.5 61.3 286 62 287 67.3 287.5 68.4 291 68.7 292.5 71 295.5 71 296 70.7 296.9 65.5 297.5 64.1 301 64 302.1 62.5 303 62.1 334 62M226 145.3 226.5 145.2 227 144 227.2 141 227.1 26M334 156 302.5 155.9 302 155.3 301.5 151.5 301.6 79 301 77.6 297.5 77.5 296.8 78 296.6 79 296.6 145.5 297 151.5 296.8 155.5 296 158.8 292.5 158.9 292 158.3 291.5 156 291.7 79 291.5 77.5 291 76.6 287.5 76.5 287 77.1 286.7 79 286.8 114 286.3 156 286 157 285.5 157.5 275 157.5 274 157.1 273 151 272.8 146.5 273.1 140.5 273 71 272.5 67.5 271.5 67.2 271 66.3 270.5 62.5 270.7 26M261 26 261.3 124.5 261.1 145.5 260.5 150.5 260 151 236 151 229 149.6 228 149.2 227.5 148.2 227.1 146 227.2 26M268.8 26 268.8 62.5 269.8 91 269.9 146 269.5 151.1 269 152.8 268 153 264.5 152.8 263.9 150.5 263.6 146.5 263.7 26M274.7 26 274.7 55.5 275.5 61.6 276 62.9 285.5 63.1 286.1 64.5 286.9 70.5 287 75.5 286.6 79.5 286.7 111.5 286.3 146.5 286 152.7 285.5 154.4 274.5 154.5 274 153.9 273.4 151 273.2 71 272.8 66 272.5 65.1 271.5 64.9 270.8 62 271 58.5 271 26M334 154 303.5 154 302.5 153.7 301.9 151 301.7 141 301.7 79 301.5 77.7 301 77 297 76.8 296.5 76 297 70.3 297.5 68.6 301 68.4 302.5 64.9 303 64.7 334 64.7M292.5 79.2 295.5 79 296 79.5 296.2 82 296.2 145.5 296.5 151 296 152.9 295.5 153.1 292.5 152.9 292 151 292 82.5M260.9 26 261.1 36 261.2 136 260.6 147.5 260 148.9 236 148.9 228 146.1 227.8 145.5 227.4 135.5 227.4 26M268.6 26 268.8 69 269.7 91 269.6 145.5 269 149.9 268 150 264.5 149.9 263.9 146 263.9 26M334 152 303 152 302.5 151.5 301.8 141 301.8 78.5 301.5 76.9 301 76.3 297.5 76.2 297.1 75.5 297.5 73.7 301 73.3 302 68.4 302.5 67.3 303 67 334 67M274 59 274.5 59.1 276 64.9 285.5 65.1 286 66.2 286.3 68.5 286.7 75.5 286.4 79 286.3 138.5 286 148.5 285.5 151.9 274.5 152 274 151.5 273.4 146 273.2 114 273.3 68 273 64 272.5 63.1 271.5 62.9 271.2 62 271.5 60.7 272.5 60.5M260.7 26 261 36 261.1 136 260.5 145.8 260 146.9 239.5 146.9 236.5 146.2 229 143.5 228 142.8 227.6 135.5 227.6 26M268.4 26 268.7 71 269.6 91 269.6 125.5 269.3 145.5 269 147.3 268 147.5 265 147.5 264.5 147.3 264.1 141 264.1 26M334 150 303 149.9 302.5 149 301.9 141 301.9 79 301.5 75.5 302 71 302.5 69.4 303 69 334 69M274 61.1 274.5 61.2 275.5 66 276 66.8 285.5 66.9 286.1 69 286.5 75.5 286.2 135.5 285.9 146 285.5 148.7 285 149 274.5 149 273.9 147.5 273.4 125 273.2 96.5 273.4 62.5M260.6 26 260.9 36 261 135.5 260.5 143.8 260 145.2 240 145.2 238 144.5 235.7 143 230.4 141 228.5 139.4 228 138.2 227.6 31.5 227.9 26M268.1 26 268.6 75 269.4 91.5 269.4 125 269 142.5 268.5 143 268 143.1 265 143 264.5 142.5 264.1 125 264.1 36.5 264.4 26M334 148 303 147.9 302.5 146.6 302 141 302 79 301.8 76 302.4 72 303 71 334 71M274.5 64.3 275.5 68 276 68.5 285.5 68.6 286 70.1 286.3 76 286.2 124.5 285.9 139.5 285.5 145.3 285 145.9 274.5 145.8 274 143.2 273.5 124.5 273.3 95.5 274 65M260.2 26 260.6 29.5 260.9 135.5 260.3 142.5 260 143.6 240 143.7 235.4 140.5 230.9 136.5 230.3 135.5 230.4 124 231.7 118 231.8 114 233 112.2 235.5 110.1 235.7 109.5 235.9 96.5 235.7 96 233.2 93.5 231.8 91 231.7 82 230.9 81 228.4 79 228.2 62.5 227.9 58.5 228 29.3 228.5 28.4 236 27.5 237.8 26M334 146 303 145.9 302.5 144.8 302.2 141 301.9 97 302.1 76 302.5 73.6 303 73 334 73M265 31 267.5 31 268 32.7 268.2 76.5 269.1 91.5 269 127.3 268.5 128 265 128 264.5 127.3 264.4 36.5 264.5 32.7M274.5 68.8 275.5 70 285.5 70.3 286 72.7 286.3 96 286.1 124 285.5 140.3 285 141 275 141 274.5 140.8 274 137.8 273.4 114 273.4 95.5 273.7 76.5 274 71.1M334 144.5 303 144.4 302.5 143.1 302.3 140.5 302 97 302.5 75.8 303 75.1 334 75M242.5 27 259.5 26.8 260 27 260.5 29.4 260.9 126 260.5 139.5 260 141.8 259.5 142 240 141.9 238.4 140.5 235.9 135.5 235.8 124.5 236.9 118.5 237.4 114 241.5 101.5 244.6 96 243.3 93.5 242.2 90.5 238.9 84.5 238.1 82.5 236.9 70.5 235.8 65.5 235.6 56 233.2 51 231.8 46 231.8 36.5 232.2 35 233.5 33.1 238.4 28.5 240 27.3M274.5 72.4 285 72.3 285.5 72.5 286 75.9 286.2 114 285.5 135.1 285 136 275 136 274.5 135.7 274 131.6 273.5 105 273.7 81.5 274 74M334 84.9 330.4 86 330 86.5 330 91 331 96 332 106 332.1 110 334 113.8M334 143 303 142.9 302.4 140.5 302.2 97 302.5 79 303 77.1 334 77M249.5 28.5 259.5 28.5 260 28.7 260.4 31 260.8 126 260.5 138.3 260 140.2 259.5 140.4 246 140.1 243 139.7 241 139.1 240 138.4 238.7 136 238.1 131 238 124 239.8 114.5 242 109.5 245 105.7 248.2 96 245 86.2 242.3 81.5 241.6 79 240 75.8 239.3 73 238.7 66.5 238.6 62 238 59 237 36 238.5 31.5 240 29.8 244.5 28.6M274.5 74.9 285 74.8 285.5 75 286 82 286.1 113.5 285.5 129.3 285 130 275 130.1 274.5 129.8 274 126 273.6 105 274 77M334 83.7 328 85 326 85.9 325.8 86.5 328 96 328.1 110 329.9 114 330 118 330.8 120.5 332 122.5 334 124.3M334 141.7 303 141.5 302.5 128.8 302.3 97 302.5 82 303 79.2 334 79M244 30.5 245.5 30.2 259.5 30.2 260 30.4 260.4 36.5 260.5 78.5 260.3 96 260.7 126 260.5 136.8 260 139 259.5 139.1 250 138.8 246 138.2 244 137.6 241.8 136 240.1 130 240.1 123.5 241.3 118 242.5 114 247.5 106 249.5 100.5 252.3 96 250 90.9 246.9 82.5 243.4 76 242 72 241.4 68.5 241.2 62 240.1 59 239.9 46 239.1 36 240 33.6 240.8 32.5 242 31.4M275.5 77.5 285 77.5 285.5 78 286 92 286 112.3 285.5 125.2 285 126 275 126 274.5 125.7 273.8 113 273.9 82.5 274.5 77.7M334 82.6 328.5 82.9 324 83.7 322 84.5 320.7 86 323 88.6 323.8 90 325.5 96 325.5 109.5 326.3 114 326.3 118 325.5 126 324.9 127.5 324 129 322.5 130.5 319.5 132.5 317.5 133 313 133 310.5 132 308 130.2 303.5 130 303 129.3 302.5 119.5 302.4 96.5 302.5 85 303 81.2 334 81M245 32.3 250.5 32.3 255 33.4 259.5 33.5 260 34.3 260.4 78.5 260 93.9 259.5 95 255.5 91.4 254.5 90 246.7 76 244.2 68 243.8 66 243.7 62 242.5 58.5 241.3 36.5 241.6 35.5 242.5 34.3M275.5 80.5 285 80.5 285.5 81.1 285.9 106 285.5 117.4 285 118.2 275 118.2 274.5 117.9 273.9 113.5 274 86 274.5 80.7M259.5 97.7 260 99.7 260.5 114.6 260.5 132.6 260 137.7 253 137.7 250 137.4 246.4 136.5 244.9 135.5 242.5 126 242.6 123.5 244.7 115 250 106.1 252.5 104 255 101.1 257.6 99.5M245 34.9 250 34.8 252.3 36 251.9 40 250.2 45.5 250.3 46.5 252.7 49.5 257.5 52.4 259.5 54.4 260 59.3 260.1 79.5 260 80.9 259.5 82.2 255.5 81.6 254.8 79 250.2 76 246.8 66.5 246.6 61.5 245.2 58.5 245.2 56 244 46 243.8 36.5 244.2 35.5M304 84 312.5 84 314 84.5 315.4 86 316.3 88.5 317.5 90.4 322.7 96 322.9 118 321.5 120.8 318.2 124 317.5 125.7 313 126 311.3 125 308 121.1 303.5 121 303 120.4 302.5 106.9 302.5 94.7 303 84.4M275 86 285 86.1 285.5 88.3 285.7 97.5 285.5 114.7 285 115.3 274.5 115.1 274 109.4 274 95.5 274.5 86.7M256.5 108 259.5 108 260 108.7 260.5 126.5 260 136.4 259.5 136.6 254 136.5 250.8 136 249.7 135.5 247.5 132 245.1 126 245.2 123.5 246.7 118 250 110.4 251 109.6 254.5 108.2M253 62 254.5 61.7 255 61.9 256.5 63.5 257.6 65.5 257.6 66.5 256.9 68.5 255.9 70 255 70.7 250.3 66 250.5 62.5M304 91 308 91.1 309.4 93 310.4 96 309.6 101.5 308 106 307.9 109.5 303.5 109.9 303 109 302.9 96 303 92.1 303.5 91M275.5 93.5 285 93.5 285.5 94.7 285.5 97 285.5 108 285 110 275 110 274.5 109.4 274.3 96 274.5 93.9M311 110.2 313 110.1 317.5 113.7 317.9 114.5 317.5 117.6 313.5 118 312 117 310.5 114 310.5 110.5M256.5 114 259.5 114 260 115.4 260.3 126 260 131.9 259.5 133 255 132.9 251 130.6 250 129.8 248.4 126 248.5 123.5 250.2 118 254.5 114.4M256.5 121 259.5 121 260 122.1 260 127.2 259.5 128 255 127.9 252.6 126 252.6 124 253.5 122.6 255 121.1" fill="none" stroke="#000" stroke-width="1.0" stroke-linejoin="round" shape-rendering="crispEdges"/>
</g>
</g>
<path d="M67.5 485.5h6M336.5 485.5h-6M67.5 481.5h3M336.5 481.5h-3M67.5 478.5h3M336.5 478.5h-3M67.5 475.5h3M336.5 475.5h-3M67.5 472.5h3M336.5 472.5h-3M67.5 469.5h3M336.5 469.5h-3M67.5 466.5h3M336.5 466.5h-3M67.5 462.5h3M336.5 462.5h-3M67.5 459.5h3M336.5 459.5h-3M67.5 456.5h3M336.5 456.5h-3M67.5 453.5h6M336.5 453.5h-6M67.5 450.5h3M336.5 450.5h-3M67.5 447.5h3M336.5 447.5h-3M67.5 444.5h3M336.5 444.5h-3M67.5 440.5h3M336.5 440.5h-3M67.5 437.5h3M336.5 437.5h-3M67.5 434.5h3M336.5 434.5h-3M67.5 431.5h3M336.5 431.5h-3M67.5 428.5h3M336.5 428.5h-3M67.5 425.5h3M336.5 425.5h-3M67.5 422.5h6M336.5 422.5h-6M67.5 418.5h3M336.5 418.5h-3M67.5 415.5h3M336.5 415.5h-3M67.5 412.5h3M336.5 412.5h-3M67.5 409.5h3M336.5 409.5h-3M67.5 406.5h3M336.5 406.5h-3M67.5 403.5h3M336.5 403.5h-3M67.5 399.5h3M336.5 399.5h-3M67.5 396.5h3M336.5 396.5h-3M67.5 393.5h3M336.5 393.5h-3M67.5 390.5h6M336.5 390.5h-6M67.5 387.5h3M336.5 387.5h-3M67.5 384.5h3M336.5 384.5h-3M67.5 381.5h3M336.5 381.5h-3M67.5 377.5h3M336.5 377.5h-3M67.5 374.5h3M336.5 374.5h-3M67.5 371.5h3M336.5 371.5h-3M67.5 368.5h3M336.5 368.5h-3M67.5 365.5h3M336.5 365.5h-3M67.5 362.5h3M336.5 362.5h-3M67.5 359.5h6M336.5 359.5h-6M67.5 355.5h3M336.5 355.5h-3M67.5 352.5h3M336.5 352.5h-3M67.5 349.5h3M336.5 349.5h-3M67.5 346.5h3M336.5 346.5h-3M67.5 343.5h3M336.5 343.5h-3M67.5 340.5h3M336.5 340.5h-3M67.5 336.5h3M336.5 336.5h-3M67.5 333.5h3M336.5 333.5h-3M67.5 330.5h3M336.5 330.5h-3M67.5 327.5h6M336.5 327.5h-6M67.5 324.5h3M336.5 324.5h-3M67.5 321.5h3M336.5 321.5h-3M67.5 318.5h3M336.5 318.5h-3M67.5 314.5h3M336.5 314.5h-3M67.5 311.5h3M336.5 311.5h-3M67.5 308.5h3M336.5 308.5h-3M67.5 305.5h3M336.5 305.5h-3M67.5 302.5h3M336.5 302.5h-3M67.5 299.5h3M336.5 299.5h-3M67.5 296.5h6M336.5 296.5h-6M134.5 296.5v4M134.5 485.5v-4M202.5 296.5v4M202.5 485.5v-4M269.5 296.5v4M269.5 485.5v-4" stroke="#000" stroke-width="1" fill="none"/>
<rect x="67.5" y="296.5" width="269" height="189" fill="none" stroke="#000" stroke-width="1"/>
<text transform="translate(94,290) scale(1,1.22)">Inverted</text><text transform="translate(148,290) scale(1,1.22)">Winds</text><text transform="translate(184,290) scale(1,1.22)">Meridional</text><text transform="translate(250,290) scale(1,1.22)">(warmside)</text>
<text class="d" transform="translate(0,485) scale(1,1.13)" x="54 60" text-anchor="middle">60</text>
<text class="d" transform="translate(0,458) scale(1,1.13)" x="54 60" text-anchor="middle">70</text>
<text class="d" transform="translate(0,426) scale(1,1.13)" x="54 60" text-anchor="middle">80</text>
<text class="d" transform="translate(0,394) scale(1,1.13)" x="54 60" text-anchor="middle">90</text>
<text class="d" transform="translate(0,363) scale(1,1.13)" x="48 54 60" text-anchor="middle">100</text>
<text class="d" transform="translate(0,332) scale(1,1.13)" x="48 54 60" text-anchor="middle">110</text>
<text class="d" transform="translate(0,303) scale(1,1.13)" x="48 54 60" text-anchor="middle">120</text>
<text transform="translate(57.75,500) scale(1,1.22)">−</text><text class="d" transform="translate(0,500) scale(1,1.13)" x="66.75 72.75" text-anchor="middle">90</text>
<text class="d" transform="translate(0,500) scale(1,1.13)" x="133.75" text-anchor="middle">0</text>
<text class="d" transform="translate(0,500) scale(1,1.13)" x="198.25 204.25" text-anchor="middle">90</text>
<text class="d" transform="translate(0,500) scale(1,1.13)" x="268.75" text-anchor="middle">0</text>
<text transform="translate(326.75,500) scale(1,1.22)">−</text><text class="d" transform="translate(0,500) scale(1,1.13)" x="335.75 341.75" text-anchor="middle">90</text>
<text transform="translate(175,513) scale(1,1.22)">Lat</text><text transform="translate(199,513) scale(1,1.22)">(deg)</text>
<text transform="translate(33.8,324.7) scale(1,1.22)">A</text>
<text transform="translate(33.8,334.7) scale(1,1.22)">l</text>
<text transform="translate(33.8,344.7) scale(1,1.22)">t</text>
<text transform="translate(33.8,354.7) scale(1,1.22)">i</text>
<text transform="translate(33.8,364.7) scale(1,1.22)">t</text>
<text transform="translate(33.8,374.7) scale(1,1.22)">u</text>
<text transform="translate(33.8,384.7) scale(1,1.22)">d</text>
<text transform="translate(33.8,394.7) scale(1,1.22)">e</text>
<text transform="translate(33.8,412.9) scale(1,1.22)">(</text>
<text transform="translate(33.8,424.7) scale(1,1.22)">k</text>
<text transform="translate(33.8,434.7) scale(1,1.22)">m</text>
<text transform="translate(33.8,442.9) scale(1,1.22)">)</text>
<rect x="374" y="475.60" width="28" height="9.70" fill="#2a0040"/>
<rect x="374" y="466.20" width="28" height="9.70" fill="#4c008c"/>
<rect x="374" y="456.80" width="28" height="9.70" fill="#1616b0"/>
<rect x="374" y="447.40" width="28" height="9.70" fill="#1030e8"/>
<rect x="374" y="438.00" width="28" height="9.70" fill="#1e6cf0"/>
<rect x="374" y="428.60" width="28" height="9.70" fill="#20a8f0"/>
<rect x="374" y="419.20" width="28" height="9.70" fill="#20d0e0"/>
<rect x="374" y="409.80" width="28" height="9.70" fill="#20ecb0"/>
<rect x="374" y="400.40" width="28" height="9.70" fill="#3cf078"/>
<rect x="374" y="391.00" width="28" height="9.70" fill="#80f028"/>
<rect x="374" y="381.60" width="28" height="9.70" fill="#c0f818"/>
<rect x="374" y="372.20" width="28" height="9.70" fill="#ffee00"/>
<rect x="374" y="362.80" width="28" height="9.70" fill="#ffc60a"/>
<rect x="374" y="353.40" width="28" height="9.70" fill="#ffa010"/>
<rect x="374" y="344.00" width="28" height="9.70" fill="#e87828"/>
<rect x="374" y="334.60" width="28" height="9.70" fill="#c85048"/>
<rect x="374" y="325.20" width="28" height="9.70" fill="#e02060"/>
<rect x="374" y="315.80" width="28" height="9.70" fill="#ff0060"/>
<rect x="374" y="306.40" width="28" height="9.70" fill="#ff30b0"/>
<rect x="374" y="297.00" width="28" height="9.70" fill="#ff60ff"/>
<rect x="374.5" y="297.5" width="28" height="188" fill="none" stroke="#000" stroke-width="1"/>
<path d="M402.5 461.5h-7M402.5 438.5h-7M402.5 414.5h-7M402.5 391.5h-7M402.5 367.5h-7M402.5 344.5h-7M402.5 320.5h-7" stroke="#000" stroke-width="1" fill="none"/>
<text transform="translate(407,486.5) scale(1,1.22)">−</text><text class="d" transform="translate(0,486.5) scale(1,1.13)" x="416 422 428" text-anchor="middle">200</text><text transform="translate(431,486.5) scale(1,1.22)">.</text><text class="d" transform="translate(0,486.5) scale(1,1.13)" x="440" text-anchor="middle">0</text>
<text transform="translate(407,463) scale(1,1.22)">−</text><text class="d" transform="translate(0,463) scale(1,1.13)" x="416 422 428" text-anchor="middle">150</text><text transform="translate(431,463) scale(1,1.22)">.</text><text class="d" transform="translate(0,463) scale(1,1.13)" x="440" text-anchor="middle">0</text>
<text transform="translate(407,440) scale(1,1.22)">−</text><text class="d" transform="translate(0,440) scale(1,1.13)" x="416 422 428" text-anchor="middle">100</text><text transform="translate(431,440) scale(1,1.22)">.</text><text class="d" transform="translate(0,440) scale(1,1.13)" x="440" text-anchor="middle">0</text>
<text transform="translate(413,416) scale(1,1.22)">−</text><text class="d" transform="translate(0,416) scale(1,1.13)" x="422 428" text-anchor="middle">50</text><text transform="translate(431,416) scale(1,1.22)">.</text><text class="d" transform="translate(0,416) scale(1,1.13)" x="440" text-anchor="middle">0</text>
<text class="d" transform="translate(0,393) scale(1,1.13)" x="428" text-anchor="middle">0</text><text transform="translate(431,393) scale(1,1.22)">.</text><text class="d" transform="translate(0,393) scale(1,1.13)" x="440" text-anchor="middle">0</text>
<text class="d" transform="translate(0,369) scale(1,1.13)" x="422 428" text-anchor="middle">50</text><text transform="translate(431,369) scale(1,1.22)">.</text><text class="d" transform="translate(0,369) scale(1,1.13)" x="440" text-anchor="middle">0</text>
<text class="d" transform="translate(0,346) scale(1,1.13)" x="416 422 428" text-anchor="middle">100</text><text transform="translate(431,346) scale(1,1.22)">.</text><text class="d" transform="translate(0,346) scale(1,1.13)" x="440" text-anchor="middle">0</text>
<text class="d" transform="translate(0,322) scale(1,1.13)" x="416 422 428" text-anchor="middle">150</text><text transform="translate(431,322) scale(1,1.22)">.</text><text class="d" transform="translate(0,322) scale(1,1.13)" x="440" text-anchor="middle">0</text>
<text class="d" transform="translate(0,299) scale(1,1.13)" x="416 422 428" text-anchor="middle">200</text><text transform="translate(431,299) scale(1,1.22)">.</text><text class="d" transform="translate(0,299) scale(1,1.13)" x="440" text-anchor="middle">0</text>
<rect x="547.5" y="296.5" width="269" height="189" fill="#fff" stroke="#000" stroke-width="1"/>
<g transform="translate(480,270)">
<clipPath id="p4a"><polygon points="68,62 72,59 134,59 134,26.5 178,26.5 178,158.5 134.6,158.5 134.6,166.5 74,166.5 70,162 68,156"/></clipPath>
<g clip-path="url(#p4a)">
<path d="M93 26 137.5 26 136 51.9 135.3 55.5 134 58.3 133 59.2 131.5 59.8 130 59.4 129 58 128 43.3 127.4 38.5 126 33.8 124 30.9 123 30.5 122 30.8 117.5 35.5 116.5 36.1 115 36.4 104.7 32.5 99 28.5 94 26.7Z" fill="#2a0040" stroke="#2a0040" stroke-width="0.6" fill-rule="evenodd"/>
<path d="M67.5 26 92.7 26 99 28.5 104.7 32.5 115 36.4 117 35.9 121.5 31.2 122.5 30.6 123.5 30.6 124.5 31.4 125.5 32.8 126.5 35 127.3 38 128 43.3 129 58 130 59.4 131.5 59.8 133 59.2 134 58.3 135 56.4 135.6 54.5 136.2 49.5 137.5 26 138.5 26 137.6 36.5 136.9 52.5 136.3 56.5 135.2 59.5 133.5 61.8 132 62.6 130.5 62.7 123 61.5 113.5 62.2 67 62.1 67 26ZM122.9 44.5 122 45.4 121.5 46.5 120.7 50.5 120.9 52 121.4 53.5 122 54.2 123 54.6 124 54.2 124.5 53.5 125 50.5 124.3 46 123.5 44.6ZM139 158 143.5 158.3 177 158.2 177 166 67 166 67 164.3 126.5 164.4 130 163.4 136 158.8 137.5 158.2Z" fill="#4c008c" stroke="#4c008c" stroke-width="0.6" fill-rule="evenodd"/>
<path d="M138.5 26 139.4 26 138.3 35.5 137.4 55 136 60.9 135 62.7 133.5 64.1 132 64.7 130 65 123 64.6 67 64.8 67 62.1 113.5 62.2 123 61.5 130.5 62.7 133 62.1 135 60 136 57.5 136.6 55 137.1 50 137.6 36ZM123 44.5 123.5 44.6 124 45.2 124.5 46.5 125 50.5 124.5 53.5 124 54.2 123 54.6 122 54.2 121.4 53.5 120.9 52 120.7 50.5 121.5 46.5 122.3 45ZM138 154 177 154.1 177 158.2 138 158.1 135.5 159.1 130 163.4 128 164.1 125.5 164.5 114.5 164.2 67 164.3 67 161 113.5 160.9 122 161.5 125 161.4 128.5 160.3 135 155.2Z" fill="#1616b0" stroke="#1616b0" stroke-width="0.6" fill-rule="evenodd"/>
<path d="M139.5 26 140.3 26 139.5 30 139 35 138.4 50.5 137.9 57 136.5 62.7 135.5 64.5 134 65.8 131.5 66.8 128 67.1 67 67.2 67 64.8 123 64.6 130 65 132 64.7 133.5 64.1 134.8 63 135.7 61.5 137.2 56.5 137.8 50.5 138.3 35ZM138 151 177 151.1 177 154.1 138 154 135 155.2 128.5 160.3 126.5 161.1 124 161.5 113.5 160.9 67 161 67 157.7 113 157.6 121.5 158.4 124.5 158.3 126.5 157.8 128.1 157 134.7 152Z" fill="#1030e8" stroke="#1030e8" stroke-width="0.6" fill-rule="evenodd"/>
<path d="M140.5 26 141.4 26 140.3 29.5 139.6 34.5 139 52 138.3 59 137 64.5 136 66.1 134.5 67.4 130 69.1 124 69.9 113.5 69.6 67 69.7 67 67.2 128 67.1 131.5 66.8 134 65.8 135.5 64.5 136.4 63 137.7 58 138.4 51.5 139.1 34 139.7 29ZM136 148.9 139 148.6 177 148.6 177 151.1 137.5 151 135.8 151.5 134 152.4 128 157.1 124.5 158.3 121.5 158.4 113 157.6 67 157.7 67 154.3 104 154.4 114.5 153.9 122 154.9 124.5 154.9 127.5 154 133 150.2Z" fill="#1e6cf0" stroke="#1e6cf0" stroke-width="0.6" fill-rule="evenodd"/>
<path d="M141.5 26 143 26 141.4 29 140.4 33.5 139.5 54.5 138.7 62 137.3 66.5 136.2 68 134.5 69.3 128 72.3 123.5 73.1 113.5 72.6 67 72.4 67 69.7 113.5 69.6 124 69.9 130 69.1 134.5 67.4 136 66.1 137 64.5 138.2 60 138.9 52.5 139.7 34 140.5 29ZM137 145.9 177 145.8 177 148.6 137.5 148.6 135.5 149 133.5 149.9 127 154.2 124 155 114.5 153.9 104 154.4 67 154.3 67 151 113 150.9 124.5 151.6 127 150.9 133 147.3Z" fill="#20a8f0" stroke="#20a8f0" stroke-width="0.6" fill-rule="evenodd"/>
<path d="M143 26 155.2 26 145 27.3 143.5 28 142.3 29.5 141.5 31.8 140.9 36 139.9 58 139 65.6 138.1 68 137 69.6 131 74.2 128 75.7 124 76.2 113.5 75.8 95.5 76.2 67 76.1 67 72.4 113.5 72.6 124 73.1 128 72.3 135 69 136.5 67.7 137.3 66.5 138.6 62.5 139.5 54.5 140.4 33.5 141.4 29ZM170 26 177 26 177 26.4ZM136 141.5 139 141 177 141.1 177 145.8 137.5 145.8 133 147.3 127 150.9 124 151.7 113 150.9 67 151 67 147.7 94.5 147.8 103.5 147.4 115.3 149 123 149.1 125 148.6 127 147.7 134.2 142.5Z" fill="#20d0e0" stroke="#20d0e0" stroke-width="0.6" fill-rule="evenodd"/>
<path d="M150.5 26.5 155.2 26 169.9 26 177 26.4 177 28.1 167.5 27 157.5 27 152.5 27.7 144 30.2 142.5 32.4 141.7 36.5 140.6 60.5 140.1 66.5 139.1 70 137.5 72.4 133.3 77 131.5 78.1 129.5 78.8 126 79 113 78.4 108.5 78.8 105.4 79.5 102.7 81 100 84 97 86.5 96.5 87.5 96.8 88.5 97.5 89.2 103 92.1 107.1 96 112.4 100 116.5 105.5 118.5 105.9 122.5 105 124.5 105 126 105.5 127.5 106.6 129.5 109.8 131.1 115 131.7 119.5 130.9 122 126.2 127 122.5 133.4 121 134.7 119 135.6 117.5 135.9 116 135.7 108 132.3 103.5 131.2 100 130.8 98 130.9 96 131.5 91 134.7 89 135.6 86 135.8 83.5 135 82 133.5 81.2 130.5 82 120 81.4 108.5 82.3 100 81.9 96.5 81 94.5 79 92.5 76.5 91.2 74 90.6 72 90.6 70 91.3 68.7 92.5 67 94.9 67 76.1 95.5 76.2 113.5 75.8 124 76.2 127.5 75.8 130.5 74.5 137 69.6 138.1 68 138.9 66 139.9 58.5 140.9 36 142 30.2 143 28.5 144.5 27.4ZM106.5 110.5 104 111.2 102.5 112.2 101.4 114 101.2 116 102 118.3 103.5 119.9 105.5 120.8 107.5 121 110 120.2 111.8 118.5 112.9 116 113 113.5 112.5 111.7 111.5 110.8 109.5 110.3ZM155.5 110.4 157.5 110.7 159.3 112.5 161.9 118 163 121.5 163.1 124 162.5 125.5 161 127 158.5 127.9 155.5 127.8 152.5 126.5 150.4 124.5 149.7 122.5 150 119.5 152.2 114 153.8 111.5ZM138 138.5 177 138.4 177 141.1 137.5 141.1 134.9 142 127 147.7 125 148.6 123 149.1 115.3 149 103.5 147.4 94.5 147.8 67 147.7 67 144 92 144.1 104.5 143.6 108 144.2 114.5 146.8 117.5 147.1 120.5 147 122.5 146.5 125 145.3 127.5 143.5 130.9 140.5 132.5 139.5 135 138.8Z" fill="#20ecb0" stroke="#20ecb0" stroke-width="0.6" fill-rule="evenodd"/>
<path d="M157.5 27 167.5 27 177 28.1 177 30.8 174 29.2 169.5 28.2 163.5 27.7 157.5 27.9 152.9 29 148 32.5 145 33.2 143.6 34.5 143 36.5 142.5 40.2 141.7 55.5 141.6 70 140.9 73 137.5 79.5 136.9 81.5 137.1 94.5 136.2 102 137 105.2 137.6 106 138.5 106.6 141.5 106.1 146 106.2 153 103.6 155.5 103 158 103.3 160.5 104.8 162.5 107 163.8 110 166.8 122 167.1 124 166.9 126 166.1 128 164.5 129.7 162.5 131 160 131.8 157.5 132 155 131.8 146 129.1 138 129.1 135.8 129.5 133.9 130.5 132.7 132 132.4 133.5 132.7 134.5 133.5 135.1 137 135.8 177 135.9 177 138.4 135.5 138.7 133.5 139.1 131.6 140 126.9 144 124 145.9 121.5 146.8 119 147.1 114 146.7 108 144.2 104.5 143.6 92 144.1 67 144 67 94.9 69.1 92 70 91.3 71.5 90.7 74.5 90.7 78 91.9 80.6 94 81.9 96.5 82.3 100 81.4 108.5 82 120 81.2 130.5 81.7 133 83 134.7 85.5 135.7 88.5 135.7 91 134.7 96 131.5 99.5 130.8 103 131.1 107.5 132.1 111 133.4 115 135.3 117 135.9 118.5 135.7 120.4 135 122.8 133 125.8 127.5 130.5 122.5 131.5 120.5 131.7 118.5 131.1 115 130.2 111.5 128.8 108.5 127 106.2 125 105.1 123 105 118 105.9 116.5 105.5 112.4 100 107.1 96 103 92.1 97.5 89.2 96.6 88 96.7 87 97.5 86 100 84 102.7 81 104.2 80 106 79.3 109.5 78.6 114 78.4 128.5 78.9 131.5 78.1 134 76.4 138.5 71.1 139.9 67.5 140.6 61 141.6 37.5 142 34.2 142.9 31.5 144 30.2 145 29.7 148 29.2 153 27.6ZM112.9 81.5 110.9 82.5 110.4 84 111.3 86.5 113 89.2 114.5 90.6 116.5 91.5 118.5 91.5 120.5 90.5 121.8 89 122.9 86.5 123.2 84.5 122.7 83 121.2 82 119 81.4 116 81.2ZM155.3 110.5 153.5 111.8 151.7 115 149.9 120 149.8 123 151 125.3 153.3 127 156 127.8 159 127.8 161 127 162.5 125.5 163.1 123.5 162.9 121 161 115.8 159 112 157 110.4ZM107 110.4 109.5 110.3 111.5 110.8 112.7 112 113.1 114 112.6 117 111.4 119 109.5 120.4 107 121 105 120.7 103 119.5 101.6 117.5 101.2 115.5 101.6 113.5 102.7 112 104.5 111Z" fill="#3cf078" stroke="#3cf078" stroke-width="0.6" fill-rule="evenodd"/>
<path d="M156.5 28 162.5 27.7 169 28.1 173.5 29 177 30.8 177 52.8 175.1 42.5 174.4 33.5 173.8 32 173 31.1 171.2 30 169 29.3 162 28.5 156.5 29.1 154.5 29.8 152.9 31 151.6 32.5 150.3 35 147.5 44.3 147 44.9 145.5 45.1 145 45.6 144 48.5 143.3 53 143.2 57 143.7 64 144.9 70.5 142.5 78.6 140.3 84 140.1 86.5 140.3 89 141.1 91.5 142.5 94 144.5 96.6 146.5 98.4 148 99 150 98.9 152.5 98.1 156 96.3 157.5 96.2 160.5 98.7 165.7 104 166.9 106 167.8 108.5 168.9 116 170.9 124 171.6 130 172.1 131 173.5 132 177 132.8 177 135.9 137 135.8 133.5 135.1 132.7 134.5 132.4 133.5 132.7 132 133.9 130.5 135.8 129.5 138 129.1 146 129.1 155 131.8 157.5 132 160 131.8 162.5 131 164.5 129.7 166.1 128 166.9 126 167.1 124 166.8 122 163.8 110 162.5 107 160.1 104.5 158 103.3 155.5 103 153 103.6 146 106.2 141.5 106.1 138.5 106.6 137.6 106 137 105.2 136.2 102.5 136.2 100.5 137.1 94.5 136.9 81.5 137.5 79.5 140.9 73 141.6 70 141.8 54 142.5 40.2 143 36.3 143.5 34.7 144.5 33.5 148 32.5 152.9 29ZM177 73.2 177 74.3ZM113 81.5 116 81.2 119 81.4 121.2 82 122.7 83 123.2 84.5 122.9 86.5 121.8 89 120.5 90.5 118.5 91.5 116.5 91.5 114.5 90.6 113 89.2 111.1 86 110.4 83.5 111 82.4Z" fill="#80f028" stroke="#80f028" stroke-width="0.6" fill-rule="evenodd"/>
<path d="M157 28.9 162 28.5 168 29.1 172.2 30.5 173.4 31.5 174.1 32.5 174.5 34 175.2 43.5 177 52.8 177 79.3 174.5 79.7 170.5 81.1 168.7 81 168.6 80.5 171.8 78 172.5 75.5 171.7 66.5 170.1 61 170.3 59.5 172.1 54.5 172.7 50.5 172.2 39 171.4 33.5 169.8 31.5 166.5 30.1 162 29.6 157.9 30 156.5 30.5 155 31.5 153.9 33 153.1 35 152.5 38.5 152.1 46.5 150.7 55.5 151.5 64 151.3 67.5 150.3 70.5 147.5 75.2 147.1 77 146.9 81 143.9 85 143.4 86.5 143.5 88 144.2 90 145.5 91.8 147 92.9 148.5 93.1 149.5 92.6 150.5 91.5 152.4 86.5 154 84.7 156 83.9 158.5 83.5 161.5 83.5 163 84 163.6 85.5 163.6 92 164.1 95 165.5 97.6 170.3 103 171.9 105.5 172.9 108 174.5 115.2 176.1 119 176.5 122.9 177 124.6 177 132.8 173.5 132 172.1 131 171.6 130 170.9 124 168.9 116 167.8 108.5 166.9 106 165.3 103.5 160 98.2 157.5 96.2 156 96.3 152.5 98.1 150 98.9 148 99 146.5 98.4 144.5 96.6 142.5 94 141.1 91.5 140.3 89 140.1 86.5 140.3 84 142.5 78.6 144.9 70.5 143.7 64 143.2 57 143.3 53 144 48.5 145 45.6 145.5 45.1 147 44.9 147.5 44.3 149.8 36.5 151.6 32.5 154 30.1Z" fill="#c0f818" stroke="#c0f818" stroke-width="0.6" fill-rule="evenodd"/>
<path d="M158 30 163 29.6 167.8 30.5 170.4 32 171.2 33 171.7 34.5 172.6 44.5 172.6 51 172.1 54.5 170.3 59.5 170.1 61 171.8 67 172.4 76 172.1 77.5 171.5 78.4 168.6 80.5 168.7 81 170.5 81.1 174.5 79.7 177 79.3 177 124.6 176.5 122.9 176.1 119 174.5 115.2 172.2 106 170.3 103 165.4 97.5 164.1 95 163.6 92 163.6 85.5 163 84 161.5 83.5 158.5 83.5 156 83.9 154 84.7 152.4 86.5 150.5 91.5 149.5 92.6 148.5 93.1 147 92.9 145.5 91.8 144.2 90 143.5 88 143.4 86.5 143.9 85 146.9 81 147.1 77 147.5 75.2 150.3 70.5 151.3 67.5 151.5 64 150.7 55.5 152.1 46.5 152.5 38.5 153.1 35 153.9 33 155 31.5 156.5 30.5ZM158.8 31.5 156.7 33 155.6 35.5 155.3 38.5 155.2 46 154.5 54 154.9 56.5 156 58.8 158 60.5 160 61 162 60.6 164 59.2 166.2 57 167.7 54.5 168.5 52 169 49 169.2 40 168.6 35 167.9 33.5 167 32.6 165 31.6 163 31.2 161 31.1ZM171 86.5 169.5 87.4 168.7 88.5 168.2 90 168.2 92 168.9 94 170 95.4 171.5 96.5 173 96.8 174 96.2 174.7 94.5 175.1 91.5 174.8 88.5 174.5 87.4 173.6 86.5 172.5 86.3Z" fill="#ffee00" stroke="#ffee00" stroke-width="0.6" fill-rule="evenodd"/>
<path d="M159 31.4 161.5 31.1 164 31.3 166.1 32 167.5 33 168.2 34 168.8 35.5 169.2 40.5 168.9 49.5 167.7 54.5 166.2 57 164 59.2 162 60.6 160 61 158 60.5 156 58.8 154.9 56.5 154.5 54 155.2 46 155.3 38.5 155.6 35.5 156.7 33 157.8 32ZM160.6 35 159.9 36 159.5 38.5 160.8 46 160.5 50.5 161 51.4 161.5 51.2 162.1 50 162.7 46 164 41.7 164.3 39 164.1 37 163.4 35.5 162 34.7ZM171.5 86.4 173 86.3 174 86.8 174.5 87.5 174.9 89 175.1 92 174.7 94.5 174 96.2 173 96.8 171.5 96.5 170 95.4 168.9 94 168.2 92 168.2 90 168.7 88.5 170 87Z" fill="#ffc60a" stroke="#ffc60a" stroke-width="0.6" fill-rule="evenodd"/>
<path d="M161 34.8 162.5 34.8 163.4 35.5 164.1 37 164.3 39 164 41.7 162.7 46 162.1 50 161.5 51.2 161 51.4 160.5 50.5 160.8 46 159.5 38.5 159.9 36Z" fill="#ffa010" stroke="#ffa010" stroke-width="0.6" fill-rule="evenodd"/>
<path d="M92.7 26 99 28.5 104.7 32.5 115 36.4 116.5 36.1 117.5 35.5 122 30.8 123 30.5 124 30.9 126 33.8 127.5 39 128.8 57.5 129.6 59 130.5 59.6 131.5 59.8 133 59.2 134 58.3 135 56.4 135.8 53.5 136.2 49 137.5 26M67 62.1 113.5 62.2 123 61.5 130.5 62.7 133 62.1 135 60 136 57.5 136.6 55 137.1 50 137.6 36 138.5 26M177 158.2 138 158.1 135.5 159.1 130 163.4 128 164.1 125.5 164.5 114.5 164.2 67 164.3M123 44.5 123.5 44.6 124 45.2 124.5 46.5 125 50.5 124.5 53.5 124 54.2 123 54.6 122 54.2 121.4 53.5 120.9 52 120.7 50.5 121.5 46.5 122.3 45M67 64.8 123 64.6 130 65 132 64.7 133.5 64.1 135 62.7 136 61 137.3 56 137.8 50 138.3 35.5 139.4 26M177 154.1 138 154 135 155.2 128.5 160.3 126.5 161.1 124 161.5 113.5 160.9 67 161M67 67.2 127.5 67.2 131 66.9 133.6 66 135 65 136.1 63.5 137 61.3 137.7 58 138.4 51 139 34.5 140.3 26M177 151.1 137.5 151 135.8 151.5 134 152.4 127.5 157.4 125.5 158.1 123.5 158.4 113 157.6 67 157.7M67 69.7 113.5 69.6 124 69.9 130 69.1 134.5 67.4 136 66.1 137 64.5 138.2 60 138.9 52.5 139.7 34 140.3 29.5 141.4 26M177 148.6 137.5 148.6 135.5 149 133.5 149.9 127 154.2 124 155 114.5 153.9 104 154.4 67 154.3M67 72.4 113.5 72.6 123.5 73.1 128 72.3 134.5 69.3 137 67 138 65 138.5 63 139.4 55 140.4 33.5 141.4 29 143 26M177 145.8 137.5 145.8 133 147.3 127 150.9 124 151.7 113 150.9 67 151M169.9 26 177 26.4M67 76.1 95.5 76.2 113.5 75.8 124 76.2 127.5 75.8 130 74.8 136.6 70 138 68.2 138.9 66 139.9 58.5 140.9 35.5 141.5 31.8 142.3 29.5 143.5 28 145 27.3 155.2 26M177 141.1 137.5 141.1 134.9 142 130.3 145.5 126.5 148 124 148.9 121.5 149.2 114 148.9 104 147.4 94.5 147.8 67 147.7M67 94.9 68.7 92.5 70 91.3 71.5 90.7 73.5 90.6 76 91 78.5 92.2 80.6 94 81.8 96 82.3 99.5 81.4 107.5 82 119 81.2 130.5 81.7 133 83 134.7 85.5 135.7 88.5 135.7 91 134.7 96 131.5 98 130.9 100 130.8 103.5 131.2 108 132.3 116.5 135.8 118.5 135.7 121 134.7 123.2 132.5 126.2 127 130.1 123 131.4 121 131.7 119 131.3 116 130.3 112 129.1 109 127 106.2 125 105.1 123 105 118 105.9 116.5 105.5 112.4 100 107.1 96 103 92.1 97.5 89.2 96.6 88 96.7 87 97.5 86 100 84 102.7 81 105.4 79.5 108.5 78.8 113 78.4 126 79 129.5 78.8 131.5 78.1 133.3 77 137.5 72.4 139.1 70 140.1 66.5 140.6 60.5 141.7 36.5 142.5 32.4 144 30.2 152.5 27.7 157.5 27 167.5 27 177 28.1M177 138.4 135.5 138.7 133.5 139.1 131.6 140 126.9 144 124 145.9 121.5 146.8 119 147.1 114 146.7 108 144.2 104.5 143.6 92 144.1 67 144M107 110.4 109.5 110.3 111.5 110.8 112.7 112 113.1 114 112.6 117 111.4 119 109.5 120.4 107 121 105 120.7 103 119.5 101.6 117.5 101.2 115.5 101.6 113.5 102.7 112 104.5 111M155.5 110.4 153.8 111.5 152.2 114 150 119.5 149.7 122.5 150.4 124.5 152.5 126.5 155.5 127.8 158.5 127.9 161 127 162.5 125.5 163.1 124 163 121.5 161.9 118 159.3 112.5 157.5 110.7M177 135.9 137 135.8 133.5 135.1 132.7 134.5 132.4 133.5 132.7 132 133.9 130.5 135.8 129.5 138 129.1 146 129.1 155 131.8 157.5 132 160 131.8 162.5 131 164.8 129.5 166.4 127.5 167 125.5 166.7 121.5 163.7 109.5 162.1 106.5 160 104.4 158 103.3 155.5 103 153 103.6 146 106.2 141.5 106.1 139 106.6 137.5 105.9 136.5 103.9 136.1 101 137.1 93.5 136.8 82 137.5 79.5 140.9 73 141.6 70.5 141.7 55 142.5 40.5 142.9 37 143.5 34.7 144.5 33.5 148 32.5 152.5 29.2 157 27.9 163 27.7 169.5 28.2 174 29.2 177 30.8M113 81.5 116 81.2 119 81.4 121.2 82 122.7 83 123.2 84.5 122.9 86.5 121.8 89 120.5 90.5 118.5 91.5 116.5 91.5 114.5 90.6 113 89.2 111.1 86 110.4 83.5 111 82.4M177 132.8 173.5 132 172.1 131 171.6 130 170.9 124 168.9 116 167.8 108.5 166.9 106 165.5 103.8 160 98.2 157.5 96.2 156 96.3 152 98.3 149.6 99 147.5 98.9 146 98.1 144 96 141.5 92.3 140.4 89.5 140.1 86.5 140.5 83.4 142.4 79 144.8 71 144.8 69 143.7 63.5 143.2 57 143.3 53 144 48.5 145 45.6 145.5 45.1 147 44.9 147.5 44.3 150.3 35 151.6 32.5 152.9 31 154.5 29.8 156.5 29.1 162 28.5 169 29.3 171.2 30 173 31.1 173.8 32 174.4 33.5 175.1 42.5 177 52.8M177 124.6 176.5 122.9 176.1 119 174.5 115.2 172.2 106 170.3 103 165.4 97.5 164.1 95 163.6 92 163.6 85.5 163 84 161.5 83.5 158.5 83.5 156 83.9 154 84.7 152.4 86.5 150.5 91.5 149.5 92.6 148.5 93.1 147 92.9 145 91.2 143.8 89 143.4 87 144 84.8 146.9 81 147.4 75.5 150.3 70.5 151.3 67.5 151.5 64 150.7 55.5 152.1 46.5 152.5 38.5 153.1 35 153.9 33 155 31.5 156.5 30.5 158 30 162 29.6 166.5 30.1 169.8 31.5 171.4 33.5 172.2 39 172.7 50.5 172.1 54.5 170.3 59.5 170.1 61 171.7 66.5 172.5 75.5 171.8 78 168.6 80.5 168.7 81 170.5 81.1 174.5 79.7 177 79.3M159 31.4 161.5 31.1 164 31.3 166.1 32 167.5 33 168.2 34 168.8 35.5 169.2 40.5 168.9 49.5 167.7 54.5 166.2 57 164 59.2 162 60.6 160 61 158 60.5 156 58.8 154.9 56.5 154.5 54 155.2 46 155.3 38.5 155.6 35.5 156.7 33 157.8 32M171.5 86.4 173 86.3 174 86.8 174.5 87.5 174.9 89 175.1 92 174.7 94.5 174 96.2 173 96.8 171.5 96.5 170 95.4 168.9 94 168.2 92 168.2 90 168.7 88.5 170 87M161 34.8 162.5 34.8 163.4 35.5 164.1 37 164.3 39 164 41.7 162.7 46 162.1 50 161.5 51.2 161 51.4 160.5 50.5 160.8 46 159.5 38.5 159.9 36" fill="none" stroke="#000" stroke-width="1.0" stroke-linejoin="round" shape-rendering="crispEdges"/>
</g>
<rect x="134" y="26.5" width="5.5" height="34" fill="#0a0a50"/>
<clipPath id="p4b"><polygon points="225.6,26.5 229,26.5 231,40 234,52.5 235.5,46 236,26.5 277.5,26.5 277.5,59.8 285,59.8 289.6,61.7 294.8,66.2 300,61.7 304.4,60.3 334.8,59.8 334.8,163 333,165.8 255,165.8 254.8,158.4 225.6,158.4"/></clipPath>
<g clip-path="url(#p4b)">
<path d="M228.5 26 240.8 26 240.8 37 240 44 237.7 53.5 236.5 55.4 235 56.2 233 56 231.5 54.8 230 52.1 229 49 228.4 43ZM278 26 334.5 26 334.5 62.5 327.5 62.7 319.5 64 310.5 63.7 307.1 64.5 303.7 67 300 68.6 299 69.5 298.1 71.5 296 78.6 295 80.4 294.5 80.4 293 77.2 291.2 71 290.1 69 288.5 67.8 285.5 66.2 280.5 64.1 279.5 63 278.8 61.5 278.4 59.5 278.5 53 277.9 44ZM294.5 84.9 295 85.2 295.3 88 295 124.5 294.5 128.7 294.3 92.5 294.1 88ZM294.5 134.6 295 136.7 295.1 139 295 140.4 294.5 141.1 294.2 139ZM294 147.4 294.5 147 295 147.3 296.5 150 298.5 156.7 299.5 158.5 301.5 160.2 306 163.1 308.5 163.8 312 164.1 334.5 164.2 334.5 166 226 166 226 154 230.5 154.5 247.5 154.4 249.5 154.7 251 155.6 252 157 252.5 159 252.5 162.8 253 163.5 254 163.8 255.5 163.6 259.5 162.5 265.5 164.3 270 163.8 276.5 164.8 285.5 164.2 288.5 162.6 290.5 160.2 291.2 158 293 149.8Z" fill="#4c008c" stroke="#4c008c" stroke-width="0.6" fill-rule="evenodd"/>
<path d="M227 26 228.4 26 228.4 43 229 49 230 52.1 231.5 54.8 232.9 56 234.5 56.3 236 55.8 236.9 55 238.2 52 240.5 40.5 240.8 35.5 240.8 26 242.6 26 242.1 42 241.1 51 240.1 54.5 239 56.9 237.5 58.5 235.5 59.3 232.5 59.7 230 58.8 228.5 56.9 226.9 53 226.6 49.5 226.6 26ZM275 26 278 26 277.9 44 278.5 53 278.4 59.5 278.9 62 279.9 63.5 281 64.4 285.5 66.2 288.5 67.8 290.1 69 291.2 71 293 77.2 294.5 80.4 295 80.4 296 78.6 298.1 71.5 299 69.5 300 68.6 303.7 67 307.1 64.5 310.5 63.7 319.5 64 327.5 62.7 334.5 62.5 334.5 64.8 331 64.8 328 65.2 320.5 67.6 316.5 68.5 310.5 68.6 306 70.6 301 71.6 300 72.6 299 75 298.1 79 297.8 83 298 141.5 298.3 145.5 300.5 155.5 301.4 157 303 158.4 305.5 159.9 307.5 160.6 311.5 161.1 334.5 161 334.5 164.2 312 164.1 308.5 163.8 306 163.1 301.5 160.2 299.5 158.5 298.5 156.7 296.7 150.5 295.5 148.1 294.5 147 294 147.4 293 149.8 291.2 158 290.3 160.5 289.2 162 287.5 163.3 286 164.1 284 164.5 275.5 164.8 270 163.8 265 164.2 261 162.8 259.5 162.5 255.5 163.6 254 163.8 253 163.5 252.5 162.8 252.5 159 252 157 251 155.6 249.5 154.7 247.5 154.4 230.5 154.5 226 154 226 151.2 230.5 152.2 245 152.2 248 152.5 250 153 252 154.1 253.4 155.5 255.5 158.7 256.5 159.4 261 159.9 265.5 161 270.5 161.1 276.5 162.4 282 161.9 285 161 288.4 158.5 290 155.8 291.2 151 291.9 145 291.9 86.5 291.6 81 290.5 74.8 289 71.7 286.5 70 281 68.9 279.5 68.3 278 66.9 276.8 64.5 276.3 61.5 276 54 274.9 44.5ZM294.5 85 294.1 88 294.3 92.5 294.5 128.7 295 124.5 295.3 88 295 85.2ZM294.5 135 294.2 139 294.5 141.1 295 140.4 295.1 139 295 136.7ZM249 66.4 250.5 66.1 251.5 66.3 253.5 67.8 254.6 70 255.3 74 254.7 76.5 253 78.9 251.1 80.5 249 81 247.3 80.5 246 79 245.2 76.5 244.9 73.5 245.1 71 245.8 69 247 67.5Z" fill="#1616b0" stroke="#1616b0" stroke-width="0.6" fill-rule="evenodd"/>
<path d="M226.5 26 226.6 49.5 226.8 52.5 227.8 55.5 229.5 58.4 231 59.4 233 59.7 236 59.2 238 58.1 239.3 56.5 240.3 54 241.4 49.5 242 44 242.6 26 244.1 26 243.7 30.5 243.1 54.5 239.9 64.5 239.3 65.5 238 66.2 236.5 66 233.7 64 229 62.1 226 59.2 226 26ZM272 26 275 26 274.9 44.5 276.1 54.5 276.3 62 277 65 278.1 67 279.9 68.5 286 69.8 287.6 70.5 289 71.7 290 73.4 290.7 75.5 291.8 83.5 291.9 144.5 291.2 151 289.7 156.5 288.8 158 287.5 159.3 285.5 160.7 283.5 161.6 278 162.3 275 162.2 270 161.1 265 161 261.3 160 256.5 159.4 255.4 158.5 252.5 154.5 250.5 153.2 248.5 152.6 245 152.2 230.5 152.2 226 151.2 226 148.7 230 149.5 232.5 149.7 242 148.9 244.5 149.1 248.5 150.3 252 151.9 254 153.4 257 156.3 258.5 157 265 157.7 275 159.7 277.5 160 281.3 159.5 284.5 158 288 155.3 289.5 152.5 290.3 149 290.6 144.5 290.6 87.5 290.4 84 289.6 79 288.5 75 287.2 73.5 285.5 72.7 280 72.7 276.5 71.7 273.2 70 270 67 269.8 68 270.3 73 270 76 267.5 82.4 266 85.1 265.5 85.5 264.5 85.5 261 81.9 259.5 81.2 258 81.9 254.8 86 253.9 86.5 252.5 86.6 247 85.1 245.5 84.1 244.6 83 243.4 80 240.4 68.5 240.6 66 241.5 65 245.5 63.4 248.5 61.5 250 61.2 252.5 62.1 255.7 64.5 257.3 66.5 259 69.8 259.5 70.4 260.5 70.7 262 69.8 269 62 272 60 272.9 58 273.1 55.5 271.7 43.5 271.8 26ZM248.7 66.5 247 67.5 245.8 69 245.1 71 244.9 73.5 245.2 76.5 246 79 247.3 80.5 249 81 251.5 80.3 253.4 78.5 254.9 76 255.3 73.5 254.5 69.6 253.2 67.5 251 66.2ZM329.5 64.9 334.5 64.8 334.5 67.4 331.5 67.3 329 67.7 315.5 72.6 309.5 72.7 303 73.7 301.5 74.6 300.5 76.3 299.7 79.5 299.5 83 299.4 141 300.2 146.5 301.6 153 302.9 155.5 304.7 157 307.5 158.1 310.5 158.5 334.5 158.4 334.5 161 311.5 161.1 308 160.7 305.5 159.9 303.5 158.8 301.9 157.5 300.7 156 299.9 153.5 298.1 144 297.8 82.5 298.6 76.5 299.7 73 300.5 72 301.5 71.4 306 70.6 310.5 68.6 317.5 68.3 321 67.4 326.5 65.5Z" fill="#1030e8" stroke="#1030e8" stroke-width="0.6" fill-rule="evenodd"/>
<path d="M244.5 26 246.3 26 245.5 28.1 245.2 30.5 245.1 44.5 245.6 49 247.2 54.5 248.4 56.5 251.7 59 256 61.5 259.5 62.8 261.5 62.2 263.5 60.3 266.2 57 267.8 54 268.3 50.5 268.1 26 271.8 26 271.7 44 273.1 55.5 272.9 58 272 60 269 62 262 69.8 260.5 70.7 259.5 70.4 259 69.8 257.3 66.5 255.7 64.5 253 62.4 250.5 61.2 248.5 61.5 245.5 63.4 242 64.8 240.9 65.5 240.3 67 240.7 70 243.5 80.5 245 83.6 246 84.5 247.5 85.3 252 86.5 253.5 86.6 255.3 85.5 258 81.9 259.5 81.2 261 81.9 264 85.2 265 85.6 265.5 85.5 267 83.5 269.9 76.5 270.3 73 269.8 68 270 67 273.2 70 277.5 72.1 280 72.7 284.5 72.6 286.5 73.1 288.2 74.5 289.2 77 290.3 83 290.6 87 290.5 147.5 289.5 152.5 288 155.3 284 158.3 281 159.6 278.5 160 276 159.9 265.5 157.8 258.5 157 257 156.3 254 153.4 252 151.9 248.5 150.3 244.5 149.1 242 148.9 232.5 149.7 230 149.5 226 148.7 226 145.9 233 146.3 235.5 146.1 238 145.1 244.5 141.4 245.5 141.3 253.4 149.5 258.8 153.5 260.5 154 265.5 154.1 272 156.6 278 157.6 280 157.3 281.5 156.7 286.5 153.3 288 151.3 288.9 148 289.2 144 289.3 87 288.5 82.4 287.5 79.1 286.5 77.2 285 76.1 283.5 75.9 276.5 75.8 274.6 76.5 273.5 78.2 267 92.1 266 93.3 265.5 93.5 264.5 93.2 261.5 90 260 89.1 258.5 89.3 254.5 91 252.5 91.2 250.3 91 247 89.6 243.6 87 242.5 85.3 240.5 80.1 239.5 78.5 236.5 76.4 235.5 75.2 233 71.5 230.4 66.5 229 65.4 226 63.6 226 59.2 228.5 61.8 233.7 64 236.5 66 238 66.2 239 65.7 239.6 65 242.6 56.5 243.2 54 243.7 30 244.1 26ZM330 67.5 332 67.2 334.5 67.4 334.5 70.9 332 70.7 330 71 314.5 76.1 305.5 76.1 303.6 77 302.6 78.5 301.5 83.3 301 89 301.2 100 300.6 140.5 301.2 146 302.5 151 303.8 153.5 305.5 155 307.5 155.7 310.5 156 334.5 156 334.5 158.4 311 158.5 307.5 158.1 304 156.6 302.9 155.5 302 154.2 300.8 150 299.5 142 299.5 83 300.1 77.5 301.2 75 303 73.7 309.5 72.7 315.5 72.6ZM265 123 267 122.9 268.5 123.8 269.9 126 270.4 128.5 270.3 131 269.5 133.6 268 135.7 266.5 136.4 265.3 136 264.2 134.5 262.9 131.5 262.3 128.5 262.3 127 262.7 125.5 263.7 124Z" fill="#1e6cf0" stroke="#1e6cf0" stroke-width="0.6" fill-rule="evenodd"/>
<path d="M246.5 26 251.6 26 248.6 29 248 31 248.7 37.5 248.6 47 249.7 53 250.9 55.5 253 57.7 255.5 59.2 258.5 59.9 261 59.1 262.4 58 263.5 56.5 264.7 53 265.1 48.5 265.1 32.5 264.7 29.5 263.5 27.9 258.5 26 268.1 26 268.3 33 268.1 53 267.1 55.5 265 58.5 262.5 61.3 260.5 62.7 259.5 62.8 258 62.4 253 59.8 248.5 56.6 247 54 245.5 48.7 245 44 245.2 30 245.5 28ZM226.5 63.9 230.4 66.5 233 71.5 235.5 75.2 236.5 76.4 239.5 78.5 240.5 80.1 242.5 85.3 243.6 87 247 89.6 250.3 91 252.5 91.2 254.5 91 258.5 89.3 260 89.1 261.5 90 264.5 93.2 265.5 93.5 266 93.3 267.1 92 273.9 77.5 275 76.2 276.5 75.8 284 75.9 285.8 76.5 287 77.9 288.8 83.5 289.3 87.5 289.1 146 288.5 150 287.5 152.2 286 153.7 282 156.4 279.5 157.4 276 157.4 271.5 156.5 265.5 154.1 261 154.1 259 153.6 253.4 149.5 245.5 141.3 244.5 141.4 238 145.1 235.5 146.1 233 146.3 226 145.9 226 142.7 230.5 142.6 233.5 142.1 236.8 140.5 239 138.9 240.1 137.5 242.8 132.5 245.1 126 246.8 124 248 123.4 249.5 123.2 255.5 124 258 123.9 259.5 123.1 264 119 266.5 118.2 269 118.9 271 120.9 272.3 123.5 273.3 127.5 273.4 130 272.9 132.5 269.3 139.5 268.4 142.5 269.1 149 269.9 151 271 152.5 273 154 276 154.9 279 154.8 281.5 153.7 284.5 151.5 286.1 149.5 286.9 147 287.2 143 286.7 134 287.2 124.5 286.8 109.5 287.5 97.5 287.4 88.5 286.9 85 285 81.3 283.5 80.2 281.5 80.3 280.2 81 278.6 82.5 275.5 83.7 273.5 85.3 270.2 90.5 268.4 97.5 267.5 99.2 266.5 99.3 265.5 98.8 261 93.5 259 92.5 251.5 93.8 246.5 95.9 245.5 96 244.5 95.3 240.6 90.5 238.9 86 238 84.6 233.2 81.5 230.7 77 229 75.1 227 74.1 226 74.8 226 63.6ZM265 123 263.7 124 262.7 125.5 262.3 127 262.3 128.5 262.9 131.5 264.2 134.5 265.3 136 266.5 136.4 268 135.7 269.5 133.6 270.3 131 270.4 128.5 269.9 126 268.5 123.8 267 122.9ZM330.5 70.9 332.5 70.7 334.5 70.9 334.5 74.3 330.5 74.3 324 76.3 321.4 77.5 311 83.4 309.5 83.7 305.5 83.7 304.5 84.2 303.5 85.6 302.9 87.5 302.7 90 303.3 99 301.9 124 301.6 140.5 302.1 145 303 148.8 304.4 151.5 306 152.7 308 153.2 315 153.8 334.5 153.9 334.5 156 311.5 156 307 155.5 304.5 154.3 302.9 152 301.5 147.5 300.6 141 301.2 100 301 89 301.5 83.5 302.5 79 303.5 77.1 305 76.2 307 75.9 312 76.3 315 76ZM234 123.2 235 123.5 235.6 124.5 235.5 126 235 126.4 234 126 233.4 125 233.3 124Z" fill="#20a8f0" stroke="#20a8f0" stroke-width="0.6" fill-rule="evenodd"/>
<path d="M251.5 26.2 258.5 26 263.5 27.9 264.1 28.5 264.8 30 265.1 33 265.1 49 264.8 52.5 264.2 55 263 57.2 261.5 58.8 259.5 59.8 258 59.9 256 59.4 252.8 57.5 250.6 55 249.3 51.5 248.5 46.5 248.7 37.5 248 31 248.6 29ZM254.5 27.5 253 28.3 252 29.4 251.2 31 250.9 32.5 250.7 41.5 251.1 50 252 53.5 253.5 55.8 256 57.4 258.5 57.7 260 57.2 261.3 56 262.2 54.5 262.8 52 263 47.5 261.9 32.5 261.3 30.5 259.8 29 256.5 27.5ZM226.5 74.3 227.5 74.2 229.5 75.6 231 77.5 233.2 81.5 238 84.6 238.9 86 240.6 90.5 245 95.7 246.5 95.9 251.5 93.8 259 92.5 261 93.5 265 98.3 267 99.4 267.7 99 268.2 98 269.5 92.5 270.5 90 272.5 86.6 274 84.8 275.5 83.7 278.5 82.6 280.2 81 281.5 80.3 283.5 80.2 285 81.3 286.9 85 287.4 88.5 287.5 97.5 286.8 109.5 287.2 124.5 286.7 134 287.2 144 286.9 147 286.1 149.5 285 151 283 152.7 279.5 154.7 277.5 155 275.5 154.8 273.5 154.2 272 153.4 270.6 152 269.7 150.5 268.7 146.5 268.6 141.5 269.3 139.5 272.8 133 273.3 131 273.4 128.5 272.7 124.5 271.4 121.5 269.5 119.3 267.5 118.3 266 118.2 264 119 259.5 123.1 258 123.9 255.5 124 249.5 123.2 247 123.9 246 124.6 245.1 126 242.6 133 240.1 137.5 238.9 139 236.8 140.5 233.5 142.1 230.5 142.6 226 142.7 226 139.5 228.5 139.5 230.5 138.8 232 137.5 232.8 135.5 232.1 133 227.9 126 227.1 122.5 228 106.5 230.3 97.5 229.6 95.5 226 91.6 226 74.8ZM275.6 87.5 273.5 89.2 271.6 92.5 270.9 96 270.9 100 272.4 110 273.2 113 275 115.9 276 116.6 277.5 117 279.9 116 281.1 114 282.6 105.5 284.7 97.5 285.1 92 284.5 89.4 283 87.9 278 87.1ZM255 95 252.3 96 250.3 98 248 102.7 244.9 106.5 244.3 108.5 244.1 111.5 244.5 114.6 245.6 116.5 252.5 120.3 255.5 121 258 120.2 260.8 117.5 264.7 112.5 265.3 111 265.5 109 264.4 104.5 260.3 96.5 259.3 95.5 258 94.9ZM233.6 123.5 233.3 124.5 233.5 125.3 234 126 235 126.4 235.7 125.5 235.5 124.2 234.5 123.2ZM277 132.5 275 134.4 271.9 138.5 270.9 141 270.7 143.5 271.2 147 272.5 150.1 274.5 151.9 277 152.5 280.5 151.8 283.1 150 284.7 147.5 285.3 143.5 284.5 138.5 282.4 134 281.5 133 280 132.2 278.5 132ZM330 74.4 332 74.1 334.5 74.3 334.5 77.6 330.5 77.6 326 78.8 323.5 80.2 319.5 83.8 315.1 86 311 88.9 310 89.1 307 88.1 306 88.5 305.5 89.3 305.4 91 306 92.1 307 92.2 310 90.8 311 91.1 312 91.8 313.5 93.4 314.8 95.5 315.4 97 315.5 98.5 314.8 100.5 313.1 102.5 311 103.4 307.5 103.4 306.5 103.7 305.8 104.5 305.1 106 303 125 302.6 141 303.1 145 303.9 148 305 149.7 306.5 150.7 316 151.9 334.5 151.9 334.5 153.9 315 153.8 306.5 152.9 304.5 151.6 303.3 149.5 302.2 146 301.6 141 301.9 124.5 303.3 99 302.7 91 303.2 86.5 304 84.8 305 83.9 306.5 83.5 309.5 83.7 311 83.4 322 77.2Z" fill="#20d0e0" stroke="#20d0e0" stroke-width="0.6" fill-rule="evenodd"/>
<path d="M254.5 27.5 256.5 27.5 259.8 29 261.3 30.5 261.9 32.5 263 47.5 262.8 52 262.2 54.5 261.3 56 260 57.2 258.5 57.7 256 57.4 253.5 55.8 252 53.5 251.1 50 250.7 41.5 250.9 32.5 251.2 31 252 29.4 253 28.3ZM254.7 30 253.9 30.5 253 31.7 252.1 35 251.9 40.5 252.6 48.5 253.4 52 254.5 54 256 55.2 258 55.4 259 55 260 54 260.7 52.5 261 50.5 261 46.5 259.9 35 259.4 32.5 258.4 31 256.5 29.9ZM332 77.5 334.5 77.6 334.5 81 329.5 81.1 327.5 81.6 325.7 82.5 323.7 84.5 320.3 90.5 320.6 91.5 322.2 94 323.9 99 326.5 104 327 107.5 326.4 110.5 324.5 113 320 115.9 318 116.2 309 115.7 308 116 307 116.9 305.5 119.9 304.5 124.5 303.9 131 303.7 140.5 304 144 304.5 146.2 305.5 147.9 307 148.9 316.5 150.3 334.5 150.1 334.5 151.9 316 151.9 306.5 150.7 305 149.7 303.7 147.5 303 144.5 302.6 140.5 303 125.4 304.9 107 305.5 105 306.5 103.7 307.5 103.4 311 103.4 313.5 102.2 314.8 100.5 315.5 98 315.2 96.5 314.6 95 312 91.8 311 91.1 310 90.8 307 92.2 306 92.1 305.4 91 305.5 89.3 306 88.5 307 88.1 310 89.1 311 88.9 315.1 86 319.5 83.8 324.6 79.5 328 78.2ZM276 87.3 279.5 87.2 283.2 88 284.5 89.5 285.1 92.5 284.7 97.5 282.6 105.5 281.1 114 279.9 116 277.5 117 276 116.6 275 115.9 273.2 113 272.3 109.5 270.9 99.5 271 95.5 271.8 92 274 88.6ZM276.5 90 275 91.1 273.6 93 272.9 95 272.7 97 272.8 100 273.5 102.9 274.5 105.1 276 106.3 277.5 105.7 278.5 104.2 282 95.3 282.5 93 282 91 280.9 90 278.5 89.5ZM226.4 92 229.6 95.5 230.3 97.5 228 106.5 227 120 227.1 123 228.1 126.5 232.1 133 232.8 135.5 232.4 137 231 138.5 229.5 139.2 227.5 139.6 226 139.5 226 135.7 227 135 227.3 134 227 132.4 226 130.7 226 91.6ZM255 95 258.3 95 260.3 96.5 264.4 104.5 265.5 109 265.3 111 264.7 112.5 260.8 117.5 258 120.2 255.5 121 252.5 120.3 245.6 116.5 244.5 114.6 244.1 111.5 244.3 108.5 244.9 106.5 248 102.7 250.3 98 252.3 96ZM254.4 98 253.4 99 252.6 101 252.2 106 251.3 110.5 251.2 113 251.7 115 252.5 116.5 254 117.6 255.5 117.9 257.5 116.8 259 114.5 259.9 111 260.1 107.5 259.4 102 258.3 99 257.5 98.1 256.5 97.6 255.5 97.6ZM277 132.5 278.5 132 280 132.2 281.5 133 282.5 134.2 284.6 139 285.3 143.5 284.7 147.5 283.1 150 280.5 151.8 277 152.5 274.5 151.9 272.5 150.1 271.2 147 270.7 143.5 270.9 141 271.9 138.5 275 134.4ZM277.1 136 275 137.3 273.5 139 272.4 141.5 272.3 144 272.9 147 274.1 149 276 150.3 278 150.6 280.5 150 282.4 148.5 283.5 146.5 283.8 143.5 283.1 140 281.5 137.2 279.5 135.9Z" fill="#20ecb0" stroke="#20ecb0" stroke-width="0.6" fill-rule="evenodd"/>
<path d="M255 29.9 257 30 258.8 31.5 259.7 33.5 261 47 261 51 260 54 259 55 257.5 55.5 255.5 54.9 253.8 53 253 50.5 252.4 46 251.9 39.5 252.1 34.5 253.1 31.5 254 30.4ZM255.3 32.5 254.1 33.5 253.5 35 253.1 37.5 253.2 41 254 46.1 254.9 49.5 256 51.3 257 51.7 258 51 258.8 48.5 258.6 38 258.2 35.5 257.5 33.6 256.5 32.6ZM330.5 81 334.5 81 334.5 84.1 331.5 83.9 329.1 84.5 327.5 85.7 326.8 87.5 327 95 329.2 100.5 329.8 103 330.5 113 330.3 115.5 329.7 116.5 328.4 117.5 322 121.1 319.5 121.6 314 121.7 309 123.1 307.5 124 306.2 126.5 305.5 130.4 305.2 142 305.4 144 306 145.6 306.9 146.5 308 146.9 310.5 147.3 315 148.6 317.5 149 330 149 334.5 148.3 334.5 150.1 316.5 150.3 307 148.9 305.5 147.9 304.6 146.5 304.1 144.5 303.7 141.5 304 128.5 304.6 124 305.5 119.9 306.5 117.6 308 116 309 115.7 318 116.2 319.5 116 323.5 113.8 325.8 111.5 326.6 110 327 108 326.7 104.5 323.7 98.5 322 93.6 320.6 91.5 320.3 90.5 323.4 85 325 83 327.5 81.6ZM276.5 90 278.5 89.5 280.9 90 282 91 282.5 93 282 95.3 278.5 104.2 277.5 105.7 276 106.3 274.5 105.1 273.5 102.9 272.8 100 272.7 97 272.9 95 273.6 93 275 91.1ZM276.4 94.5 275.5 95.7 275.2 97 275.3 98.5 276 99.2 277 98.3 277.8 95.5 277.5 94.2ZM254.5 97.9 256 97.6 257 97.8 258.5 99.3 259.5 102.5 260.1 108 259.8 111.5 258.7 115 257 117.2 255 117.9 253.5 117.4 252.2 116 251.5 114.5 251.2 112.5 252.2 106 252.6 101 253.4 99ZM334.5 116.9 334.5 118.9 334.3 118ZM226.2 131 227 132.5 227.3 134 227 135 226 135.7 226 130.7ZM277.5 135.9 279.5 135.9 281.5 137.2 283.1 140 283.8 143.5 283.5 146.5 282.4 148.5 280.5 150 278 150.6 275.5 150.1 274 148.9 272.8 146.5 272.3 143.5 272.5 141 273.5 139 275.5 136.9ZM276.6 138.5 275 139.7 274 141.5 273.8 143.5 274.1 145.5 275 147.4 276 148.4 277.5 148.9 279.5 148.8 281 148 282.1 146.5 282.5 144.5 282.2 142 281.3 140 280 138.6 278.5 138.1Z" fill="#3cf078" stroke="#3cf078" stroke-width="0.6" fill-rule="evenodd"/>
<path d="M255.5 32.4 256.5 32.6 257.7 34 258.7 38.5 258.7 49 258 51 257 51.7 256 51.3 254.9 49.5 254 46.1 253.2 40.5 253.1 37.5 253.5 34.9 254.5 33ZM255.1 37 254.8 38.5 255 40.5 255.5 41.9 256 42.1 256.6 40.5 256.6 38 256 36.6 255.5 36.5ZM331 84 334.5 84.1 334.5 88.9 333 87.7 331.5 87.8 330.5 88.8 330.1 90.5 330.6 92.5 332 93.6 333 93.5 334.5 92 334.5 116.9 334.3 118 334.5 118.9 334.5 128.7 331.5 126.6 329 125.9 322.5 126.1 316.5 125.8 313.9 126.5 311.7 128.5 310.3 131.5 309.8 135 309.8 142 310.2 143.5 311.5 145 313.5 146.3 315.5 147.1 319.5 147.6 329.5 147.7 332 147.3 334.5 146.2 334.5 148.3 330 149 317.5 149 315 148.6 307.5 146.8 306.5 146.2 305.7 145 305.2 140.5 305.5 130.4 306.1 127 307.1 124.5 308.5 123.3 313.5 121.8 320 121.5 322.1 121 328.4 117.5 329.7 116.5 330.3 115.5 330.5 113 329.8 103 329.2 100.5 327.1 95.5 326.7 88.5 326.9 87 327.7 85.5 329 84.6ZM276.5 94.4 277.5 94.2 277.8 95.5 277 98.3 276 99.2 275.3 98.5 275.2 97 275.5 95.7ZM277 138.3 279 138.2 280.5 139 281.6 140.5 282.4 143 282.5 145 281.9 147 280.5 148.4 279 148.9 277 148.8 275.5 148 274.5 146.6 273.9 145 273.8 143 274.2 141 275.5 139.2ZM277.4 140.5 276.5 141 275.8 142 275.5 144.5 276.1 146 277 146.9 279 147.3 280 146.9 280.8 146 281.2 144.5 281 143.1 280.5 141.9 279.5 140.8 278.5 140.4Z" fill="#80f028" stroke="#80f028" stroke-width="0.6" fill-rule="evenodd"/>
<path d="M255.5 36.5 256.2 37 256.6 38.5 256.5 41 256 42.1 255.3 41.5 254.8 39.5 254.9 37.5ZM331.5 87.8 333 87.7 334.5 88.9 334.5 92 333.5 93.1 332.5 93.6 331 93 330.2 91 330.4 89ZM315.5 125.9 322.5 126.1 328.5 125.8 331.5 126.6 334.5 128.7 334.5 135.5 332 132.6 330 131.6 328 131.3 322.5 131.5 317.5 130.6 316 130.8 315 131.5 314 133 313.2 136.5 313.4 141.5 313.9 143 314.6 144 316.5 145.2 319 145.7 329.5 145.9 332.1 145 334.5 141.6 334.5 146.2 332.5 147.2 330 147.6 318.5 147.6 314.5 146.8 312.5 145.7 311 144.5 310.2 143.5 309.8 142 309.8 135 310.3 131.5 311.1 129.5 312.1 128 313.5 126.7ZM277.5 140.5 278.5 140.4 279.7 141 280.6 142 281.1 143.5 281.1 145 280.8 146 280 146.9 279 147.3 277 146.9 276.1 146 275.5 144.5 275.8 142 276.5 141Z" fill="#c0f818" stroke="#c0f818" stroke-width="0.6" fill-rule="evenodd"/>
<path d="M316 130.8 318 130.6 323 131.5 329 131.4 330.5 131.8 332 132.6 334.5 135.5 334.5 141.6 333 144 331.1 145.5 328.5 145.9 319 145.7 316.5 145.2 315 144.4 314.2 143.5 313.5 142 313.2 137 314 133 315 131.5Z" fill="#ffee00" stroke="#ffee00" stroke-width="0.6" fill-rule="evenodd"/>
<path d="M228.4 26 228.4 43 228.9 48.5 230 52 231.3 54.5 232.9 56 234.5 56.3 236.4 55.5 237.5 54 238.5 51 240 44 240.8 37 240.8 26M278 26 277.9 44 278.5 53 278.4 59.5 278.8 61.5 279.5 63 280.5 64.1 285.5 66.2 288.5 67.8 290.1 69 291.2 71 293 77.2 294.5 80.4 295 80.4 296 78.6 298.1 71.5 299 69.5 300 68.6 303.7 67 307.1 64.5 310.5 63.7 319.5 64 327.5 62.7 334.5 62.5M334.5 164.2 312 164.1 308.5 163.8 306 163.1 301.5 160.2 299.5 158.5 298.5 156.7 296.7 150.5 295.5 148.1 294.5 147 294 147.4 293 149.8 291.2 158 290.3 160.5 289.2 162 287.5 163.3 286 164.1 284 164.5 275.5 164.8 270 163.8 265 164.2 261 162.8 259.5 162.5 255.5 163.6 254 163.8 253 163.5 252.5 162.8 252.5 159 252 157 251 155.6 249.5 154.7 247.5 154.4 230.5 154.5 226 154M294.5 84.9 294.1 88 294.3 92.5 294.5 128.7 295 124.5 295.3 88 295 85.2M294.5 134.6 294.2 139 294.5 141.1 295 140.4 295.1 139 295 136.7M226.6 26 226.6 49.5 226.8 52.5 227.8 55.5 229.5 58.4 231 59.4 233 59.7 236 59.2 238 58.1 239.5 56 240.6 53 241.4 49 242 43.8 242.6 26M275 26 274.9 44.5 276 54 276.3 61.5 276.8 64.5 278 66.9 279.5 68.3 281 68.9 286.5 70 289 71.7 290.5 74.8 291.6 81 291.9 86.5 291.9 145 291.2 151 290 155.8 289 157.7 288 158.9 284.5 161.2 281 162.1 276 162.3 270.5 161.1 265.5 161 261 159.9 256.5 159.4 255.4 158.5 252.5 154.5 250.5 153.2 248.5 152.6 245 152.2 230.5 152.2 226 151.2M334.5 161 312 161.1 308.5 160.8 306 160.1 303.5 158.8 301.5 157.1 300.5 155.6 298.3 145.5 298 142 297.8 83 298.1 79 299 75 300 72.6 301 71.6 306 70.6 310.5 68.6 316.5 68.5 320.5 67.6 328 65.2 331 64.8 334.5 64.8M249 66.4 247 67.5 245.8 69 245.1 71 244.9 73.5 245.2 76.5 246 79 247.3 80.5 249 81 251.1 80.5 253 78.9 254.7 76.5 255.3 74 254.6 70 253.5 67.8 251.5 66.3 250.5 66.1M271.8 26 271.7 44 273.1 55.5 272.9 58 272 60 269 62 262 69.8 260.5 70.7 259.5 70.4 259 69.8 257.3 66.5 255.7 64.5 252.5 62.1 250 61.2 248.5 61.5 245.5 63.4 241.5 65 240.6 66 240.4 68.5 243.4 80 244.6 83 245.5 84.1 247 85.1 252.5 86.6 253.9 86.5 254.8 86 258 81.9 259.5 81.2 261 81.9 264.5 85.5 265.5 85.5 266 85.1 267.5 82.4 270 76 270.3 73 269.8 68 270 67 273.2 70 276.5 71.7 280 72.7 285.5 72.7 287.2 73.5 288.5 75 289.6 79 290.4 84 290.6 87.5 290.6 145 290.2 149.5 289.3 153 288.5 154.7 287.5 155.8 283.5 158.6 280.5 159.7 276.5 159.9 265.5 157.8 258.5 157 257 156.3 254 153.4 252 151.9 249.5 150.7 245 149.2 242 148.9 236.5 149.6 232 149.7 226 148.7M226 59.2 228.5 61.8 233.7 64 236.5 66 238 66.2 239 65.7 239.6 65 242.6 56.5 243.2 54 243.7 30.5 244.1 26M334.5 158.4 310.5 158.5 307.5 158.1 305 157.2 302.9 155.5 301.6 153 299.8 144 299.4 139 299.5 82.5 299.9 78.5 300.9 75.5 302 74.2 303.5 73.6 310 72.6 315.5 72.6 329 67.7 331.5 67.3 334.5 67.4M268.1 26 268.3 50.5 267.9 53.5 266.8 56 263.5 60.3 261.5 62.2 259.5 62.8 255.5 61.3 249.5 57.5 248 56 246.8 53.5 245.5 48.7 245 44 245.2 30.5 245.5 28.1 246.3 26M226 63.6 229 65.4 230.4 66.5 233 71.5 235.5 75.2 236.5 76.4 239.5 78.5 240.5 80.1 242.5 85.3 243.5 86.9 245.5 88.6 249 90.6 251.5 91.2 254 91.1 256 90.5 258.5 89.3 260 89.1 261.5 90 264.5 93.2 265.5 93.5 266 93.3 267.1 92 274 77.3 275 76.2 276.5 75.8 284 75.9 286 76.7 287 78 288 80.7 289 84.6 289.3 88 289.2 145.5 288.3 150.5 287.5 152.2 286.5 153.3 281.5 156.7 280 157.3 278 157.6 272 156.6 265.5 154.1 261 154.1 259.5 153.8 257.5 152.7 253.9 150 248.5 144.5 246.5 142.1 245 141.3 238 145.1 235.5 146.1 233 146.3 226 145.9M334.5 156 310.5 156 307.5 155.7 305.5 155 303.5 153.1 302.3 150.5 301 144.5 300.5 139 301.2 100.5 301.1 88.5 301.5 83 302.9 78 304 76.7 305.5 76.1 314.5 76.1 330 71 332 70.7 334.5 70.9M265 123 263.7 124 262.7 125.5 262.3 127 262.3 128.5 262.9 131.5 264.2 134.5 265.3 136 266.5 136.4 268 135.7 269.5 133.6 270.3 131 270.4 128.5 269.9 126 268.5 123.8 267 122.9M258.5 26 263.5 27.9 264.7 29.5 265.1 32.5 265.1 48.5 264.7 53 263.5 56.5 262.4 58 261 59.1 258.5 59.9 255.5 59.2 252.2 57 250.4 54.5 249.1 50.5 248.5 46 248.7 37.5 248 31 248.6 29 251.6 26M226 74.8 227 74.1 229 75.1 230.7 77 233.2 81.5 238 84.6 238.9 86 240.6 90.5 244.5 95.3 245.5 96 246.5 95.9 251.5 93.8 259 92.5 261 93.5 265.5 98.8 266.5 99.3 267.5 99.2 268.4 97.5 270 91 273 85.9 275 84 278.5 82.6 280.9 80.5 282.5 80.1 284 80.4 285 81.3 287 85.4 287.4 88.5 287.5 95.5 286.8 108.5 287.2 123.5 286.7 133.5 287.2 145 286.8 147.5 286.1 149.5 285 151 283.5 152.3 279.5 154.7 276 154.9 274 154.4 272.1 153.5 270.6 152 269.7 150.5 268.7 146.5 268.6 141.5 269.3 139.5 272.8 133 273.3 131 273.4 128.5 272.7 124.5 271.4 121.5 269.5 119.3 267.5 118.3 266 118.2 264 119 259.5 123.1 258 123.9 255.5 124 249.5 123.2 247 123.9 246 124.6 245.1 126 242.6 133 240.1 137.5 238.9 139 236.8 140.5 233.5 142.1 230.5 142.6 226 142.7M334.5 153.9 315 153.8 308 153.2 306 152.7 304.1 151 302.9 148.5 301.9 144 301.5 139 301.9 123.5 303.3 99 302.7 90 302.9 87.5 303.6 85.5 304.5 84.2 305.5 83.7 309.5 83.7 311 83.4 321.4 77.5 324 76.3 330.5 74.3 334.5 74.3M234 123.2 233.3 124 233.4 125 234 126 235 126.4 235.5 126 235.6 124.5 235 123.5M226 91.6 229.6 95.5 230.3 97.5 228 106.5 227 120 227.2 123.5 228.4 127 232.1 133 232.8 135.5 232 137.5 230.5 138.8 228.5 139.5 226 139.5M334.5 151.9 316 151.9 306.5 150.7 304.8 149.5 303.5 147 302.8 143.5 302.6 139 303.1 124 304.7 108.5 305.3 105.5 306 104.1 307 103.5 311 103.4 313 102.6 314.8 100.5 315.5 98.5 315.4 97 314.8 95.5 312.5 92.2 311 91.1 310 90.8 307 92.2 306 92.1 305.4 91 305.6 89 306 88.5 307 88.1 310 89.1 311 88.9 315.1 86 319.5 83.8 323.5 80.2 326 78.8 330.5 77.6 334.5 77.6M254.5 27.5 256.5 27.5 259.8 29 261.3 30.5 261.9 32.5 263 47.5 262.8 52 262.2 54.5 261.3 56 260 57.2 258.5 57.7 256 57.4 253.5 55.8 252 53.5 251.1 50 250.7 41.5 250.9 32.5 251.2 31 252 29.4 253 28.3M276 87.3 279.5 87.2 283.2 88 284.5 89.5 285.1 92.5 284.7 97.5 282.6 105.5 281.1 114 279.9 116 277.5 117 276 116.6 275 115.9 273.2 113 272.3 109.5 270.9 99.5 271 95.5 271.8 92 274 88.6M255 95 258.3 95 260.3 96.5 264.4 104.5 265.5 109 265.3 111 264.7 112.5 260.8 117.5 258 120.2 255.5 121 252.5 120.3 245.6 116.5 244.5 114.6 244.1 111.5 244.3 108.5 244.9 106.5 248 102.7 250.3 98 252.3 96M277 132.5 278.5 132 280 132.2 281.5 133 282.5 134.2 284.6 139 285.3 143.5 284.7 147.5 283.1 150 280.5 151.8 277 152.5 274.5 151.9 272.5 150.1 271.2 147 270.7 143.5 270.9 141 271.9 138.5 275 134.4M226 130.7 227 132.4 227.3 134 227 135 226 135.7M334.5 150.1 316.5 150.3 307 148.9 305.5 147.9 304.4 146 303.9 143 303.7 138.5 303.9 130 304.5 124.4 305.5 119.9 307 116.9 308 116 309 115.7 318 116.2 320 115.9 324.5 113 325.5 112 326.5 110.2 327 107 326.5 104 323.7 98.5 322 93.6 320.3 91 320.4 90 323.7 84.5 326 82.3 329.5 81.1 334.5 81M255 29.9 257 30 258.8 31.5 259.7 33.5 261 47 261 51 260 54 259 55 257.5 55.5 255.5 54.9 253.8 53 253 50.5 252.4 46 251.9 39.5 252.1 34.5 253.1 31.5 254 30.4M276.5 90 278.5 89.5 280.9 90 282 91 282.5 93 282 95.3 278.5 104.2 277.5 105.7 276 106.3 274.5 105.1 273.5 102.9 272.8 100 272.7 97 272.9 95 273.6 93 275 91.1M254.5 97.9 256 97.6 257 97.8 258.5 99.3 259.5 102.5 260.1 108 259.8 111.5 258.7 115 257 117.2 255 117.9 253.5 117.4 252.2 116 251.5 114.5 251.2 112.5 252.2 106 252.6 101 253.4 99M277.5 135.9 279.5 135.9 281.5 137.2 283.1 140 283.8 143.5 283.5 146.5 282.4 148.5 280.5 150 278 150.6 275.5 150.1 274 148.9 272.8 146.5 272.3 143.5 272.5 141 273.5 139 275.5 136.9M334.5 148.3 330 149 317.5 149 315 148.6 307.5 146.8 306.3 146 305.6 144.5 305.1 138.5 305.7 129 306.5 125.6 307.5 124 309 123.1 314 121.7 319.5 121.6 322 121.1 328.4 117.5 330.1 116 330.5 113.5 329.9 103.5 329.2 100.5 327 95 326.8 87.5 327.5 85.7 329.1 84.5 331.5 83.9 334.5 84.1M255.5 32.4 256.5 32.6 257.7 34 258.7 38.5 258.7 49 258 51 257 51.7 256 51.3 254.9 49.5 254 46.1 253.2 40.5 253.1 37.5 253.5 34.9 254.5 33M276.5 94.4 277.5 94.2 277.8 95.5 277 98.3 276 99.2 275.3 98.5 275.2 97 275.5 95.7M277 138.3 279 138.2 280.5 139 281.6 140.5 282.4 143 282.5 145 281.9 147 280.5 148.4 279 148.9 277 148.8 275.5 148 274.5 146.6 273.9 145 273.8 143 274.2 141 275.5 139.2M334.5 92 333 93.5 332 93.6 330.6 92.5 330.1 90.5 330.5 88.8 331.5 87.8 333 87.7 334.5 88.9M334.5 146.2 332 147.3 329.5 147.7 320 147.6 316.5 147.3 313.9 146.5 311.5 145 310.2 143.5 309.8 141.5 309.8 135 310.3 131.5 311.7 128.5 314 126.5 316.5 125.8 322.5 126.1 329 125.9 331.5 126.6 334.5 128.7M255.5 36.5 256.2 37 256.6 38.5 256.5 41 256 42.1 255.3 41.5 254.8 39.5 254.9 37.5M277.5 140.5 278.5 140.4 279.7 141 280.6 142 281.1 143.5 281.1 145 280.8 146 280 146.9 279 147.3 277 146.9 276.1 146 275.5 144.5 275.8 142 276.5 141M334.5 141.6 332.6 144.5 330.5 145.7 328 146 318.5 145.7 316 145 314.2 143.5 313.4 141.5 313.1 138.5 313.3 135.5 314 133 315.5 131.1 317 130.6 322.5 131.5 328 131.3 330 131.6 332 132.6 334.5 135.5" fill="none" stroke="#000" stroke-width="1.0" stroke-linejoin="round" shape-rendering="crispEdges"/>
</g>
<path d="M263.5 42V152M273.5 98V150" stroke="#000" stroke-width="1" fill="none" shape-rendering="crispEdges"/>
</g>
<path d="M547.5 485.5h6M816.5 485.5h-6M547.5 481.5h3M816.5 481.5h-3M547.5 478.5h3M816.5 478.5h-3M547.5 475.5h3M816.5 475.5h-3M547.5 472.5h3M816.5 472.5h-3M547.5 469.5h3M816.5 469.5h-3M547.5 466.5h3M816.5 466.5h-3M547.5 462.5h3M816.5 462.5h-3M547.5 459.5h3M816.5 459.5h-3M547.5 456.5h3M816.5 456.5h-3M547.5 453.5h6M816.5 453.5h-6M547.5 450.5h3M816.5 450.5h-3M547.5 447.5h3M816.5 447.5h-3M547.5 444.5h3M816.5 444.5h-3M547.5 440.5h3M816.5 440.5h-3M547.5 437.5h3M816.5 437.5h-3M547.5 434.5h3M816.5 434.5h-3M547.5 431.5h3M816.5 431.5h-3M547.5 428.5h3M816.5 428.5h-3M547.5 425.5h3M816.5 425.5h-3M547.5 422.5h6M816.5 422.5h-6M547.5 418.5h3M816.5 418.5h-3M547.5 415.5h3M816.5 415.5h-3M547.5 412.5h3M816.5 412.5h-3M547.5 409.5h3M816.5 409.5h-3M547.5 406.5h3M816.5 406.5h-3M547.5 403.5h3M816.5 403.5h-3M547.5 399.5h3M816.5 399.5h-3M547.5 396.5h3M816.5 396.5h-3M547.5 393.5h3M816.5 393.5h-3M547.5 390.5h6M816.5 390.5h-6M547.5 387.5h3M816.5 387.5h-3M547.5 384.5h3M816.5 384.5h-3M547.5 381.5h3M816.5 381.5h-3M547.5 377.5h3M816.5 377.5h-3M547.5 374.5h3M816.5 374.5h-3M547.5 371.5h3M816.5 371.5h-3M547.5 368.5h3M816.5 368.5h-3M547.5 365.5h3M816.5 365.5h-3M547.5 362.5h3M816.5 362.5h-3M547.5 359.5h6M816.5 359.5h-6M547.5 355.5h3M816.5 355.5h-3M547.5 352.5h3M816.5 352.5h-3M547.5 349.5h3M816.5 349.5h-3M547.5 346.5h3M816.5 346.5h-3M547.5 343.5h3M816.5 343.5h-3M547.5 340.5h3M816.5 340.5h-3M547.5 336.5h3M816.5 336.5h-3M547.5 333.5h3M816.5 333.5h-3M547.5 330.5h3M816.5 330.5h-3M547.5 327.5h6M816.5 327.5h-6M547.5 324.5h3M816.5 324.5h-3M547.5 321.5h3M816.5 321.5h-3M547.5 318.5h3M816.5 318.5h-3M547.5 314.5h3M816.5 314.5h-3M547.5 311.5h3M816.5 311.5h-3M547.5 308.5h3M816.5 308.5h-3M547.5 305.5h3M816.5 305.5h-3M547.5 302.5h3M816.5 302.5h-3M547.5 299.5h3M816.5 299.5h-3M547.5 296.5h6M816.5 296.5h-6M614.5 296.5v4M614.5 485.5v-4M682.5 296.5v4M682.5 485.5v-4M749.5 296.5v4M749.5 485.5v-4" stroke="#000" stroke-width="1" fill="none"/>
<rect x="547.5" y="296.5" width="269" height="189" fill="none" stroke="#000" stroke-width="1"/>
<text transform="translate(589,290) scale(1,1.22)">Inverted</text><text transform="translate(643,290) scale(1,1.22)">Winds</text><text transform="translate(679,290) scale(1,1.22)">Zonal</text><text transform="translate(715,290) scale(1,1.22)">(warmside)</text>
<text class="d" transform="translate(0,485) scale(1,1.13)" x="534 540" text-anchor="middle">60</text>
<text class="d" transform="translate(0,458) scale(1,1.13)" x="534 540" text-anchor="middle">70</text>
<text class="d" transform="translate(0,426) scale(1,1.13)" x="534 540" text-anchor="middle">80</text>
<text class="d" transform="translate(0,394) scale(1,1.13)" x="534 540" text-anchor="middle">90</text>
<text class="d" transform="translate(0,363) scale(1,1.13)" x="528 534 540" text-anchor="middle">100</text>
<text class="d" transform="translate(0,332) scale(1,1.13)" x="528 534 540" text-anchor="middle">110</text>
<text class="d" transform="translate(0,303) scale(1,1.13)" x="528 534 540" text-anchor="middle">120</text>
<text transform="translate(537.75,500) scale(1,1.22)">−</text><text class="d" transform="translate(0,500) scale(1,1.13)" x="546.75 552.75" text-anchor="middle">90</text>
<text class="d" transform="translate(0,500) scale(1,1.13)" x="613.75" text-anchor="middle">0</text>
<text class="d" transform="translate(0,500) scale(1,1.13)" x="678.25 684.25" text-anchor="middle">90</text>
<text class="d" transform="translate(0,500) scale(1,1.13)" x="748.75" text-anchor="middle">0</text>
<text transform="translate(806.75,500) scale(1,1.22)">−</text><text class="d" transform="translate(0,500) scale(1,1.13)" x="815.75 821.75" text-anchor="middle">90</text>
<text transform="translate(655,513) scale(1,1.22)">Lat</text><text transform="translate(679,513) scale(1,1.22)">(deg)</text>
<text transform="translate(513.8,324.7) scale(1,1.22)">A</text>
<text transform="translate(513.8,334.7) scale(1,1.22)">l</text>
<text transform="translate(513.8,344.7) scale(1,1.22)">t</text>
<text transform="translate(513.8,354.7) scale(1,1.22)">i</text>
<text transform="translate(513.8,364.7) scale(1,1.22)">t</text>
<text transform="translate(513.8,374.7) scale(1,1.22)">u</text>
<text transform="translate(513.8,384.7) scale(1,1.22)">d</text>
<text transform="translate(513.8,394.7) scale(1,1.22)">e</text>
<text transform="translate(513.8,412.9) scale(1,1.22)">(</text>
<text transform="translate(513.8,424.7) scale(1,1.22)">k</text>
<text transform="translate(513.8,434.7) scale(1,1.22)">m</text>
<text transform="translate(513.8,442.9) scale(1,1.22)">)</text>
<rect x="845" y="475.60" width="28" height="9.70" fill="#2a0040"/>
<rect x="845" y="466.20" width="28" height="9.70" fill="#4c008c"/>
<rect x="845" y="456.80" width="28" height="9.70" fill="#1616b0"/>
<rect x="845" y="447.40" width="28" height="9.70" fill="#1030e8"/>
<rect x="845" y="438.00" width="28" height="9.70" fill="#1e6cf0"/>
<rect x="845" y="428.60" width="28" height="9.70" fill="#20a8f0"/>
<rect x="845" y="419.20" width="28" height="9.70" fill="#20d0e0"/>
<rect x="845" y="409.80" width="28" height="9.70" fill="#20ecb0"/>
<rect x="845" y="400.40" width="28" height="9.70" fill="#3cf078"/>
<rect x="845" y="391.00" width="28" height="9.70" fill="#80f028"/>
<rect x="845" y="381.60" width="28" height="9.70" fill="#c0f818"/>
<rect x="845" y="372.20" width="28" height="9.70" fill="#ffee00"/>
<rect x="845" y="362.80" width="28" height="9.70" fill="#ffc60a"/>
<rect x="845" y="353.40" width="28" height="9.70" fill="#ffa010"/>
<rect x="845" y="344.00" width="28" height="9.70" fill="#e87828"/>
<rect x="845" y="334.60" width="28" height="9.70" fill="#c85048"/>
<rect x="845" y="325.20" width="28" height="9.70" fill="#e02060"/>
<rect x="845" y="315.80" width="28" height="9.70" fill="#ff0060"/>
<rect x="845" y="306.40" width="28" height="9.70" fill="#ff30b0"/>
<rect x="845" y="297.00" width="28" height="9.70" fill="#ff60ff"/>
<rect x="845.5" y="297.5" width="28" height="188" fill="none" stroke="#000" stroke-width="1"/>
<path d="M873.5 461.5h-7M873.5 438.5h-7M873.5 414.5h-7M873.5 391.5h-7M873.5 367.5h-7M873.5 344.5h-7M873.5 320.5h-7" stroke="#000" stroke-width="1" fill="none"/>
<text transform="translate(879,486.5) scale(1,1.22)">−</text><text class="d" transform="translate(0,486.5) scale(1,1.13)" x="888 894 900" text-anchor="middle">200</text><text transform="translate(903,486.5) scale(1,1.22)">.</text><text class="d" transform="translate(0,486.5) scale(1,1.13)" x="912" text-anchor="middle">0</text>
<text transform="translate(879,463) scale(1,1.22)">−</text><text class="d" transform="translate(0,463) scale(1,1.13)" x="888 894 900" text-anchor="middle">150</text><text transform="translate(903,463) scale(1,1.22)">.</text><text class="d" transform="translate(0,463) scale(1,1.13)" x="912" text-anchor="middle">0</text>
<text transform="translate(879,440) scale(1,1.22)">−</text><text class="d" transform="translate(0,440) scale(1,1.13)" x="888 894 900" text-anchor="middle">100</text><text transform="translate(903,440) scale(1,1.22)">.</text><text class="d" transform="translate(0,440) scale(1,1.13)" x="912" text-anchor="middle">0</text>
<text transform="translate(885,416) scale(1,1.22)">−</text><text class="d" transform="translate(0,416) scale(1,1.13)" x="894 900" text-anchor="middle">50</text><text transform="translate(903,416) scale(1,1.22)">.</text><text class="d" transform="translate(0,416) scale(1,1.13)" x="912" text-anchor="middle">0</text>
<text class="d" transform="translate(0,393) scale(1,1.13)" x="900" text-anchor="middle">0</text><text transform="translate(903,393) scale(1,1.22)">.</text><text class="d" transform="translate(0,393) scale(1,1.13)" x="912" text-anchor="middle">0</text>
<text class="d" transform="translate(0,369) scale(1,1.13)" x="894 900" text-anchor="middle">50</text><text transform="translate(903,369) scale(1,1.22)">.</text><text class="d" transform="translate(0,369) scale(1,1.13)" x="912" text-anchor="middle">0</text>
<text class="d" transform="translate(0,346) scale(1,1.13)" x="888 894 900" text-anchor="middle">100</text><text transform="translate(903,346) scale(1,1.22)">.</text><text class="d" transform="translate(0,346) scale(1,1.13)" x="912" text-anchor="middle">0</text>
<text class="d" transform="translate(0,322) scale(1,1.13)" x="888 894 900" text-anchor="middle">150</text><text transform="translate(903,322) scale(1,1.22)">.</text><text class="d" transform="translate(0,322) scale(1,1.13)" x="912" text-anchor="middle">0</text>
<text class="d" transform="translate(0,299) scale(1,1.13)" x="888 894 900" text-anchor="middle">200</text><text transform="translate(903,299) scale(1,1.22)">.</text><text class="d" transform="translate(0,299) scale(1,1.13)" x="912" text-anchor="middle">0</text>
<text class="d" transform="translate(0,525) scale(1,1.13)" x="579.3 585.3 591.3 597.3 603.3 609.3 615.3" text-anchor="middle">2010288</text><text transform="translate(618.3,525) scale(1,1.22)">v</text><text class="d" transform="translate(0,525) scale(1,1.13)" x="627.3 633.3" text-anchor="middle">01</text><text transform="translate(642.3,525) scale(1,1.22)">Wed</text><text transform="translate(666.3,525) scale(1,1.22)">Aug</text><text class="d" transform="translate(0,525) scale(1,1.13)" x="693.3 699.3" text-anchor="middle">10</text><text class="d" transform="translate(0,525) scale(1,1.13)" x="711.3 717.3" text-anchor="middle">09</text><text transform="translate(720.3,525) scale(1,1.22)">:</text><text class="d" transform="translate(0,525) scale(1,1.13)" x="729.3 735.3" text-anchor="middle">12</text><text transform="translate(738.3,525) scale(1,1.22)">:</text><text class="d" transform="translate(0,525) scale(1,1.13)" x="747.3 753.3" text-anchor="middle">00</text><text class="d" transform="translate(0,525) scale(1,1.13)" x="765.3 771.3 777.3 783.3" text-anchor="middle">2016</text>
</g>
</svg>
</body></html>
